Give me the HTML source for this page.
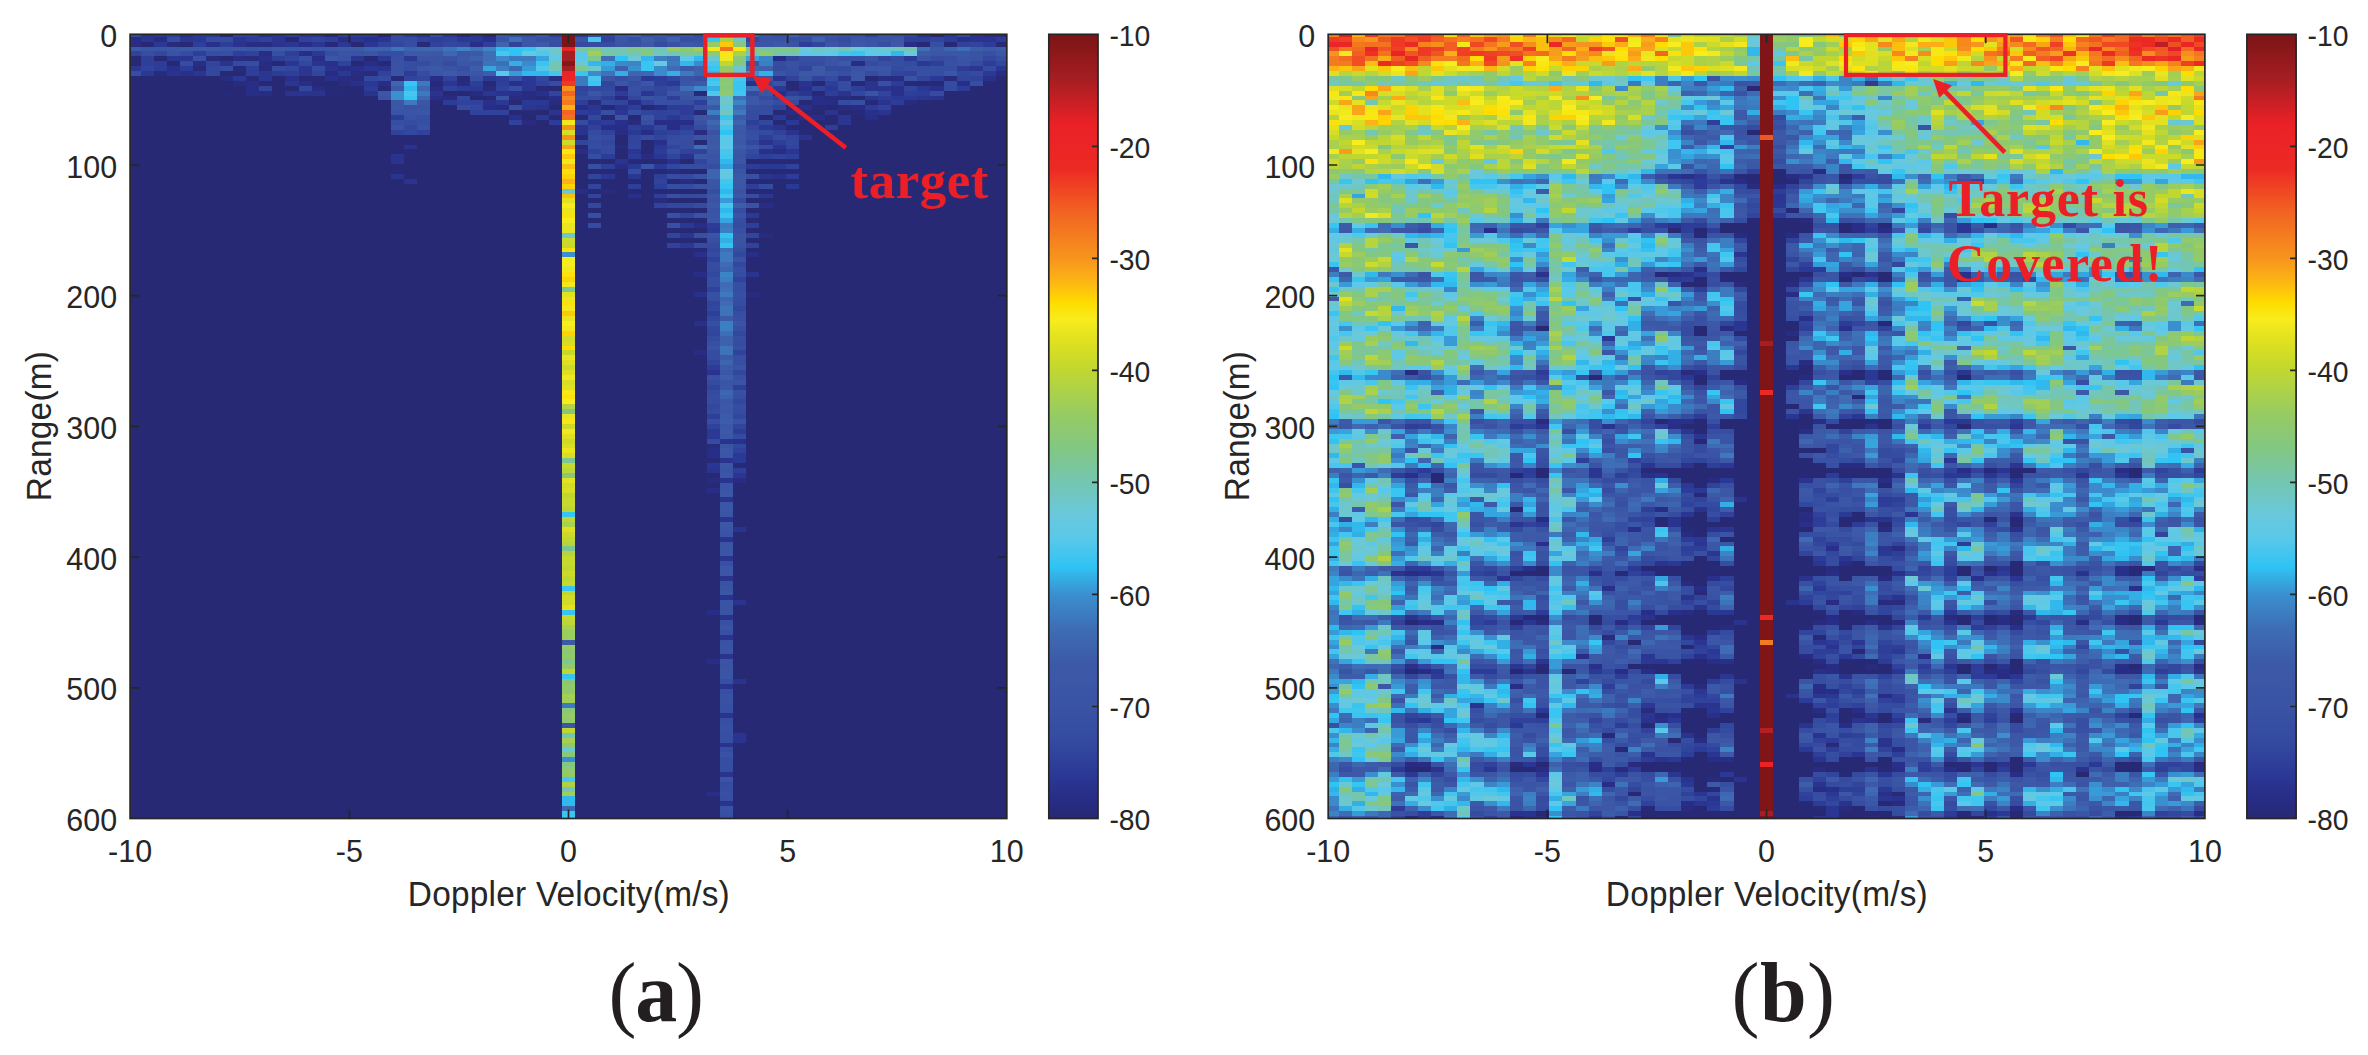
<!DOCTYPE html>
<html><head><meta charset="utf-8"><title>Range-Doppler maps</title>
<style>
html,body{margin:0;padding:0;background:#fff;}
body{width:2368px;height:1055px;overflow:hidden;}
svg{display:block;}
text{font-family:"Liberation Sans",Arial,Helvetica,sans-serif;font-size:31.7px;fill:#262626;}
.ann{font-family:"Liberation Serif","Times New Roman",serif;font-weight:bold;fill:#ec1f27;}
.cap{font-family:"Liberation Serif","Times New Roman",serif;fill:#231f20;}
</style></head><body>
<svg width="2368" height="1055" viewBox="0 0 2368 1055">
<defs>
<linearGradient id="jet" x1="0" y1="0" x2="0" y2="1"><stop offset="0.0000" stop-color="#7b1416"/><stop offset="0.0571" stop-color="#a51e22"/><stop offset="0.1143" stop-color="#ea2127"/><stop offset="0.1714" stop-color="#ec2a24"/><stop offset="0.2286" stop-color="#f26522"/><stop offset="0.2857" stop-color="#f7941d"/><stop offset="0.3143" stop-color="#fcb414"/><stop offset="0.3429" stop-color="#fedd00"/><stop offset="0.3643" stop-color="#f7ec1e"/><stop offset="0.3857" stop-color="#e4e21e"/><stop offset="0.4286" stop-color="#c0d730"/><stop offset="0.4857" stop-color="#96cb64"/><stop offset="0.5286" stop-color="#82c782"/><stop offset="0.5714" stop-color="#74c6b2"/><stop offset="0.6143" stop-color="#68c8de"/><stop offset="0.6429" stop-color="#5ac8e8"/><stop offset="0.6786" stop-color="#2fc4f4"/><stop offset="0.7143" stop-color="#3a8fcf"/><stop offset="0.7571" stop-color="#3e6eb5"/><stop offset="0.8000" stop-color="#3c5aa8"/><stop offset="0.8571" stop-color="#3a53a4"/><stop offset="0.9000" stop-color="#344ba0"/><stop offset="0.9429" stop-color="#2b3996"/><stop offset="0.9714" stop-color="#282d87"/><stop offset="1.0000" stop-color="#272974"/></linearGradient>
<clipPath id="ca"><rect x="130.1" y="34.3" width="876.7" height="784.2"/></clipPath>
<clipPath id="cb"><rect x="1328.1999999999998" y="34.3" width="876.7" height="784.2"/></clipPath>
</defs>
<rect width="2368" height="1055" fill="#fff"/>
<g clip-path="url(#ca)" shape-rendering="crispEdges">
<rect x="130.1" y="34.3" width="876.7" height="784.2" fill="rgb(39, 41, 116)"/>
<g transform="translate(127.423 31.849) scale(13.16500 4.90125)">
<path fill="#354ca1" d="M0 0h1v1h-1zM20 0h1v1h-1zM43 0h1v1h-1zM63 0h1v1h-1zM3 1h1v1h-1zM7 1h1v1h-1zM21 1h1v1h-1zM54 1h1v1h-1zM35 2h2v1h-2zM4 4h1v1h-1zM58 5h1v1h-1zM61 5h1v1h-1zM4 6h1v1h-1zM9 6h1v1h-1zM22 6h1v1h-1zM24 6h1v1h-1zM49 6h1v1h-1zM51 6h2v1h-2zM56 6h1v1h-1zM7 7h1v1h-1zM22 8h1v1h-1zM56 8h1v1h-1zM47 9h1v1h-1zM53 9h1v1h-1zM32 10h1v1h-1zM38 10h1v1h-1zM54 10h1v1h-1zM39 11h1v1h-1zM41 11h1v1h-1zM54 11h1v1h-1zM35 13h1v1h-1zM48 13h1v1h-1zM51 13h1v1h-1zM48 15h1v1h-1zM48 16h1v1h-1zM21 18h1v1h-1zM39 21h1v1h-1zM41 21h1v1h-1zM42 22h1v1h-1zM42 23h1v1h-1zM42 27h2v1h-2zM38 28h1v1h-1zM41 29h1v1h-1zM42 31h1v1h-1zM43 33h1v1h-1zM47 33h1v1h-1zM43 35h1v1h-1zM43 43h1v1h-1zM44 48h1v1h-1zM46 49h1v1h-1zM46 55h1v1h-1zM46 63h1v1h-1zM44 65h1v1h-1zM44 66h1v1h-1zM44 75h1v1h-1zM46 77h1v1h-1zM45 153h1v1h-1zM45 160h1v1h-1z"/>
<path fill="#2a338e" d="M1 0h1v1h-1zM22 0h1v1h-1zM26 0h1v1h-1zM60 0h1v1h-1zM64 0h1v1h-1zM64 1h2v1h-2zM8 2h1v1h-1zM11 2h1v1h-1zM7 6h1v1h-1zM14 6h1v1h-1zM15 7h1v1h-1zM19 7h1v1h-1zM3 8h1v1h-1zM49 9h1v1h-1zM54 9h1v1h-1zM51 10h1v1h-1zM56 10h1v1h-1zM56 11h2v1h-2zM12 12h3v1h-3zM18 12h1v1h-1zM23 12h1v1h-1zM28 12h1v1h-1zM54 12h1v1h-1zM61 13h1v1h-1zM57 14h1v1h-1zM31 15h1v1h-1zM37 15h1v1h-1zM32 16h1v1h-1zM53 16h1v1h-1zM57 16h1v1h-1zM34 19h1v1h-1zM49 19h1v1h-1zM34 20h1v1h-1zM50 20h1v1h-1zM51 21h1v1h-1zM48 22h1v1h-1zM21 23h1v1h-1zM49 23h1v1h-1zM20 25h1v1h-1zM42 25h1v1h-1zM20 26h1v1h-1zM37 26h1v1h-1zM20 29h1v1h-1zM48 29h1v1h-1zM21 30h1v1h-1zM47 49h1v1h-1zM44 69h1v1h-1zM45 83h1v1h-1zM45 87h1v1h-1zM44 89h1v1h-1zM45 91h1v1h-1zM45 95h1v1h-1zM45 99h1v1h-1zM46 101h1v1h-1zM45 103h1v1h-1zM45 107h1v1h-1zM45 111h1v1h-1zM45 115h1v1h-1zM46 116h1v1h-1zM45 119h1v1h-1zM45 123h1v1h-1zM45 127h1v1h-1zM46 132h1v1h-1zM45 133h1v1h-1zM45 139h1v1h-1zM46 143h1v1h-1zM46 144h1v1h-1zM45 145h1v1h-1zM45 151h1v1h-1zM45 157h1v1h-1z"/>
<path fill="#2b3996" d="M2 0h1v1h-1zM5 0h2v1h-2zM24 0h1v1h-1zM34 0h1v1h-1zM62 0h1v1h-1zM5 1h1v1h-1zM25 1h2v1h-2zM2 2h1v1h-1zM16 2h1v1h-1zM14 4h1v1h-1zM19 5h1v1h-1zM21 5h1v1h-1zM59 5h1v1h-1zM60 6h1v1h-1zM1 8h1v1h-1zM16 8h1v1h-1zM65 8h1v1h-1zM8 9h1v1h-1zM27 9h1v1h-1zM30 9h1v1h-1zM39 9h1v1h-1zM61 9h1v1h-1zM18 10h1v1h-1zM41 10h1v1h-1zM26 11h1v1h-1zM49 11h1v1h-1zM53 11h1v1h-1zM60 11h1v1h-1zM58 13h2v1h-2zM28 14h1v1h-1zM30 14h2v1h-2zM35 16h1v1h-1zM31 17h1v1h-1zM41 17h1v1h-1zM49 17h1v1h-1zM35 18h1v1h-1zM50 18h1v1h-1zM39 19h1v1h-1zM48 19h1v1h-1zM38 20h1v1h-1zM40 23h1v1h-1zM38 27h1v1h-1zM40 27h1v1h-1zM48 27h2v1h-2zM50 31h1v1h-1zM47 37h1v1h-1zM42 39h1v1h-1zM44 40h1v1h-1zM42 43h1v1h-1zM44 81h1v1h-1zM44 82h1v1h-1zM46 86h1v1h-1zM46 87h1v1h-1z"/>
<path fill="#2e3f99" d="M3 0h1v1h-1zM12 0h1v1h-1zM16 0h1v1h-1zM32 0h1v1h-1zM15 1h1v1h-1zM23 1h1v1h-1zM59 1h2v1h-2zM5 2h1v1h-1zM7 2h1v1h-1zM27 2h1v1h-1zM5 4h1v1h-1zM8 4h1v1h-1zM12 4h1v1h-1zM1 5h1v1h-1zM11 5h1v1h-1zM1 6h1v1h-1zM61 6h1v1h-1zM9 7h1v1h-1zM9 8h1v1h-1zM12 8h1v1h-1zM26 10h1v1h-1zM28 10h1v1h-1zM40 10h1v1h-1zM53 10h1v1h-1zM55 11h1v1h-1zM50 12h1v1h-1zM53 12h1v1h-1zM59 12h1v1h-1zM36 13h1v1h-1zM41 13h1v1h-1zM34 14h1v1h-1zM43 14h1v1h-1zM38 15h1v1h-1zM47 18h1v1h-1zM38 19h1v1h-1zM53 19h1v1h-1zM40 20h1v1h-1zM48 21h1v1h-1zM49 22h1v1h-1zM48 25h1v1h-1zM50 25h1v1h-1zM36 27h1v1h-1zM40 29h1v1h-1zM38 31h1v1h-1zM40 31h1v1h-1zM47 31h1v1h-1zM40 33h1v1h-1zM47 39h1v1h-1zM44 57h1v1h-1zM46 72h1v1h-1zM44 78h1v1h-1zM46 89h1v1h-1z"/>
<path fill="#29308b" d="M4 0h1v1h-1zM10 0h1v1h-1zM18 1h1v1h-1zM27 1h1v1h-1zM63 1h1v1h-1zM6 2h1v1h-1zM10 5h1v1h-1zM15 6h1v1h-1zM3 7h1v1h-1zM17 7h1v1h-1zM4 8h1v1h-1zM12 9h1v1h-1zM15 9h1v1h-1zM65 9h1v1h-1zM17 10h1v1h-1zM29 10h1v1h-1zM47 10h1v1h-1zM51 11h1v1h-1zM58 11h1v1h-1zM61 11h1v1h-1zM29 12h1v1h-1zM31 12h1v1h-1zM58 12h1v1h-1zM27 14h1v1h-1zM51 15h1v1h-1zM56 16h1v1h-1zM29 17h1v1h-1zM37 18h1v1h-1zM40 22h1v1h-1zM48 24h1v1h-1zM41 26h1v1h-1zM49 29h1v1h-1zM38 33h1v1h-1zM43 45h1v1h-1zM43 53h1v1h-1zM43 59h1v1h-1zM46 83h1v1h-1z"/>
<path fill="#31459d" d="M8 0h1v1h-1zM14 1h1v1h-1zM61 1h1v1h-1zM25 2h1v1h-1zM52 2h1v1h-1zM64 2h1v1h-1zM12 5h1v1h-1zM50 5h1v1h-1zM57 5h1v1h-1zM6 6h1v1h-1zM51 7h1v1h-1zM14 8h1v1h-1zM58 8h1v1h-1zM21 9h1v1h-1zM41 9h1v1h-1zM60 9h1v1h-1zM63 9h1v1h-1zM36 10h1v1h-1zM10 11h1v1h-1zM59 11h1v1h-1zM32 12h1v1h-1zM40 12h1v1h-1zM57 12h1v1h-1zM37 14h1v1h-1zM39 16h1v1h-1zM41 16h1v1h-1zM38 21h1v1h-1zM40 21h1v1h-1zM50 21h1v1h-1zM34 22h1v1h-1zM38 22h1v1h-1zM41 23h1v1h-1zM50 23h1v1h-1zM41 25h1v1h-1zM47 25h1v1h-1zM43 26h1v1h-1zM35 29h1v1h-1zM35 31h1v1h-1zM35 33h1v1h-1zM42 37h1v1h-1zM41 41h1v1h-1zM47 41h1v1h-1zM44 55h1v1h-1zM44 61h1v1h-1zM44 67h1v1h-1zM44 72h1v1h-1zM46 80h1v1h-1z"/>
<path fill="#30429b" d="M9 0h1v1h-1zM56 0h1v1h-1zM10 1h1v1h-1zM13 1h1v1h-1zM22 1h1v1h-1zM24 1h1v1h-1zM36 1h1v1h-1zM19 2h1v1h-1zM23 2h1v1h-1zM29 2h1v1h-1zM63 2h1v1h-1zM0 4h1v1h-1zM9 4h1v1h-1zM16 6h1v1h-1zM1 7h1v1h-1zM19 8h1v1h-1zM59 8h1v1h-1zM24 9h1v1h-1zM50 9h1v1h-1zM52 9h1v1h-1zM64 9h1v1h-1zM31 10h1v1h-1zM24 11h1v1h-1zM28 11h1v1h-1zM34 11h1v1h-1zM52 11h1v1h-1zM49 13h1v1h-1zM25 14h2v1h-2zM39 14h1v1h-1zM49 15h1v1h-1zM57 15h1v1h-1zM26 16h3v1h-3zM40 16h1v1h-1zM40 17h1v1h-1zM42 17h1v1h-1zM29 18h1v1h-1zM35 19h1v1h-1zM20 20h1v1h-1zM22 20h1v1h-1zM36 20h1v1h-1zM41 20h1v1h-1zM49 20h1v1h-1zM35 24h1v1h-1zM42 24h2v1h-2zM49 25h1v1h-1zM50 27h1v1h-1zM40 30h1v1h-1zM40 35h1v1h-1zM41 43h1v1h-1zM47 43h1v1h-1zM44 46h1v1h-1zM46 50h1v1h-1zM44 52h1v1h-1zM46 65h1v1h-1zM44 80h1v1h-1zM46 85h1v1h-1z"/>
<path fill="#2a3692" d="M11 0h1v1h-1zM13 0h2v1h-2zM1 1h1v1h-1zM4 1h1v1h-1zM8 1h1v1h-1zM11 1h1v1h-1zM17 1h1v1h-1zM19 1h1v1h-1zM12 2h1v1h-1zM14 2h1v1h-1zM18 2h1v1h-1zM3 5h2v1h-2zM17 5h1v1h-1zM12 6h1v1h-1zM0 7h1v1h-1zM13 7h1v1h-1zM18 7h1v1h-1zM64 7h1v1h-1zM66 7h1v1h-1zM5 8h1v1h-1zM10 8h1v1h-1zM13 8h1v1h-1zM10 9h1v1h-1zM12 10h1v1h-1zM24 10h1v1h-1zM30 10h1v1h-1zM30 11h1v1h-1zM27 12h1v1h-1zM39 12h1v1h-1zM51 12h1v1h-1zM56 13h1v1h-1zM60 13h1v1h-1zM30 15h1v1h-1zM35 15h1v1h-1zM37 16h1v1h-1zM54 17h1v1h-1zM54 18h1v1h-1zM38 24h1v1h-1zM50 24h1v1h-1zM40 25h1v1h-1zM36 29h1v1h-1zM38 29h1v1h-1zM48 33h1v1h-1zM42 41h1v1h-1zM44 88h1v1h-1zM46 90h1v1h-1z"/>
<path fill="#282b7e" d="M15 0h1v1h-1zM25 0h1v1h-1zM3 2h1v1h-1zM6 5h1v1h-1zM9 5h1v1h-1zM10 7h1v1h-1zM2 8h1v1h-1zM18 8h1v1h-1zM17 9h1v1h-1zM62 9h1v1h-1zM8 10h1v1h-1zM16 10h1v1h-1zM25 10h1v1h-1zM27 11h1v1h-1zM26 12h1v1h-1zM30 12h1v1h-1zM24 13h1v1h-1zM30 13h1v1h-1zM37 13h1v1h-1zM53 13h2v1h-2zM32 14h1v1h-1zM35 14h1v1h-1zM59 14h1v1h-1zM28 15h1v1h-1zM54 15h1v1h-1zM30 18h1v1h-1zM38 18h1v1h-1zM37 23h1v1h-1zM41 28h1v1h-1zM36 32h1v1h-1zM40 34h1v1h-1zM48 41h1v1h-1zM47 53h1v1h-1zM44 84h1v1h-1zM44 91h1v1h-1z"/>
<path fill="#2c3c98" d="M17 0h2v1h-2zM21 0h1v1h-1zM9 1h1v1h-1zM62 1h1v1h-1zM66 1h1v1h-1zM51 2h1v1h-1zM65 2h1v1h-1zM2 6h1v1h-1zM65 6h1v1h-1zM2 7h1v1h-1zM4 7h1v1h-1zM63 7h1v1h-1zM11 8h1v1h-1zM21 8h1v1h-1zM28 9h1v1h-1zM40 9h1v1h-1zM58 10h1v1h-1zM18 11h1v1h-1zM25 11h1v1h-1zM63 11h1v1h-1zM37 12h1v1h-1zM60 12h1v1h-1zM57 13h1v1h-1zM24 14h1v1h-1zM58 14h1v1h-1zM41 15h2v1h-2zM56 15h1v1h-1zM34 16h1v1h-1zM42 16h1v1h-1zM20 17h1v1h-1zM32 18h1v1h-1zM36 18h1v1h-1zM42 19h1v1h-1zM40 24h1v1h-1zM36 25h1v1h-1zM38 25h1v1h-1zM47 27h1v1h-1zM50 29h1v1h-1zM44 39h1v1h-1zM44 68h1v1h-1zM46 81h1v1h-1z"/>
<path fill="#272a79" d="M19 0h1v1h-1zM15 2h1v1h-1zM22 2h1v1h-1zM66 2h1v1h-1zM5 7h1v1h-1zM8 7h1v1h-1zM9 9h1v1h-1zM14 9h1v1h-1zM20 9h1v1h-1zM25 9h1v1h-1zM23 10h1v1h-1zM55 10h1v1h-1zM59 10h1v1h-1zM15 11h1v1h-1zM19 11h1v1h-1zM31 11h1v1h-1zM50 11h1v1h-1zM7 12h1v1h-1zM15 12h2v1h-2zM43 12h1v1h-1zM31 13h1v1h-1zM56 14h1v1h-1zM36 15h1v1h-1zM52 15h1v1h-1zM30 16h1v1h-1zM43 16h1v1h-1zM51 16h1v1h-1zM55 16h1v1h-1zM51 20h1v1h-1zM38 26h1v1h-1zM47 59h1v1h-1zM44 87h1v1h-1zM46 88h1v1h-1z"/>
<path fill="#374fa2" d="M23 0h1v1h-1zM49 0h1v1h-1zM32 1h1v1h-1zM38 1h1v1h-1zM42 1h1v1h-1zM50 1h1v1h-1zM61 2h1v1h-1zM7 4h1v1h-1zM11 4h1v1h-1zM13 5h1v1h-1zM54 5h1v1h-1zM62 5h1v1h-1zM66 5h1v1h-1zM25 7h1v1h-1zM59 7h1v1h-1zM61 7h1v1h-1zM54 8h1v1h-1zM43 9h1v1h-1zM29 11h1v1h-1zM38 12h1v1h-1zM42 14h1v1h-1zM55 14h1v1h-1zM29 15h1v1h-1zM47 15h1v1h-1zM36 16h1v1h-1zM22 17h1v1h-1zM22 18h1v1h-1zM39 18h1v1h-1zM35 21h1v1h-1zM41 24h1v1h-1zM35 27h1v1h-1zM35 37h1v1h-1zM44 42h1v1h-1zM46 48h1v1h-1zM46 51h1v1h-1zM44 54h1v1h-1zM46 58h1v1h-1zM44 59h1v1h-1zM46 60h1v1h-1zM46 64h1v1h-1zM46 66h1v1h-1zM46 67h1v1h-1zM45 132h1v1h-1zM45 134h1v1h-1zM45 143h1v1h-1zM45 144h1v1h-1zM45 156h1v1h-1z"/>
<path fill="#3c58a7" d="M28 0h1v1h-1zM31 0h1v1h-1zM39 2h1v1h-1zM42 2h1v1h-1zM58 2h1v1h-1zM5 3h1v1h-1zM11 3h1v1h-1zM13 3h1v1h-1zM61 3h1v1h-1zM22 4h1v1h-1zM26 4h1v1h-1zM47 14h1v1h-1zM44 15h1v1h-1zM44 22h1v1h-1z"/>
<path fill="#3850a3" d="M29 0h1v1h-1zM39 0h1v1h-1zM55 0h1v1h-1zM31 1h1v1h-1zM43 1h1v1h-1zM53 1h1v1h-1zM54 2h1v1h-1zM65 4h1v1h-1zM5 5h1v1h-1zM20 5h1v1h-1zM51 5h2v1h-2zM55 5h1v1h-1zM57 6h1v1h-1zM62 6h1v1h-1zM50 7h1v1h-1zM60 8h1v1h-1zM26 9h1v1h-1zM57 10h1v1h-1zM38 11h1v1h-1zM40 13h1v1h-1zM40 14h2v1h-2zM43 15h1v1h-1zM47 21h1v1h-1zM47 29h1v1h-1zM41 33h1v1h-1zM41 37h1v1h-1zM41 39h1v1h-1zM46 40h1v1h-1zM43 41h1v1h-1zM44 53h1v1h-1zM46 53h1v1h-1zM44 63h1v1h-1zM44 70h1v1h-1zM46 70h1v1h-1zM46 73h1v1h-1zM45 108h1v1h-1zM45 120h1v1h-1zM45 122h1v1h-1zM45 137h1v1h-1zM45 138h1v1h-1zM45 141h1v1h-1zM45 142h1v1h-1zM45 155h1v1h-1zM45 159h1v1h-1z"/>
<path fill="#364ea1" d="M30 0h1v1h-1zM35 0h1v1h-1zM51 1h1v1h-1zM21 2h1v1h-1zM32 2h1v1h-1zM57 2h1v1h-1zM1 4h1v1h-1zM6 4h1v1h-1zM15 4h1v1h-1zM19 4h2v1h-2zM21 6h1v1h-1zM58 6h1v1h-1zM21 7h1v1h-1zM60 7h1v1h-1zM62 7h1v1h-1zM0 8h1v1h-1zM50 8h1v1h-1zM61 8h1v1h-1zM29 9h1v1h-1zM37 9h1v1h-1zM64 10h1v1h-1zM36 12h1v1h-1zM34 13h1v1h-1zM49 14h1v1h-1zM38 16h1v1h-1zM20 18h1v1h-1zM47 20h1v1h-1zM42 21h1v1h-1zM41 22h1v1h-1zM35 23h1v1h-1zM35 25h1v1h-1zM44 27h1v1h-1zM46 27h1v1h-1zM41 31h1v1h-1zM44 32h1v1h-1zM46 36h1v1h-1zM46 38h1v1h-1zM46 44h1v1h-1zM44 47h1v1h-1zM44 50h1v1h-1zM44 51h1v1h-1zM46 52h1v1h-1zM46 54h1v1h-1zM46 57h1v1h-1zM46 62h1v1h-1zM44 74h1v1h-1zM46 74h1v1h-1zM46 76h1v1h-1zM44 79h1v1h-1zM45 140h1v1h-1zM45 146h1v1h-1zM45 148h1v1h-1zM45 149h1v1h-1zM45 150h1v1h-1zM45 154h1v1h-1z"/>
<path fill="#7b1416" d="M33 0h1v1h-1zM33 1h1v1h-1zM33 2h1v1h-1z"/>
<path fill="#32489e" d="M36 0h1v1h-1zM59 0h1v1h-1zM47 1h1v1h-1zM20 2h1v1h-1zM24 2h1v1h-1zM2 4h1v1h-1zM65 5h1v1h-1zM13 6h1v1h-1zM66 6h1v1h-1zM6 7h1v1h-1zM12 7h1v1h-1zM6 8h1v1h-1zM63 8h1v1h-1zM18 9h1v1h-1zM22 9h1v1h-1zM31 9h1v1h-1zM48 10h1v1h-1zM13 11h1v1h-1zM35 11h2v1h-2zM40 11h1v1h-1zM34 12h1v1h-1zM55 12h1v1h-1zM25 13h1v1h-1zM38 13h1v1h-1zM36 14h1v1h-1zM26 15h1v1h-1zM35 17h1v1h-1zM48 18h1v1h-1zM21 19h1v1h-1zM40 19h1v1h-1zM47 19h1v1h-1zM21 20h1v1h-1zM42 20h1v1h-1zM36 22h1v1h-1zM47 22h1v1h-1zM50 22h1v1h-1zM38 23h1v1h-1zM41 27h1v1h-1zM35 35h1v1h-1zM41 35h2v1h-2zM44 44h1v1h-1zM46 45h1v1h-1zM46 47h1v1h-1zM44 49h1v1h-1zM44 56h1v1h-1zM46 56h1v1h-1zM44 58h1v1h-1zM44 60h1v1h-1zM46 61h1v1h-1zM46 69h1v1h-1zM46 75h1v1h-1zM44 76h1v1h-1zM46 78h1v1h-1zM46 84h1v1h-1z"/>
<path fill="#3c5daa" d="M37 0h1v1h-1zM39 1h1v1h-1zM64 3h1v1h-1zM66 3h1v1h-1zM26 7h1v1h-1zM27 8h1v1h-1zM44 19h1v1h-1zM46 23h1v1h-1zM46 35h1v1h-1zM45 70h1v1h-1zM45 79h1v1h-1z"/>
<path fill="#3d64ae" d="M38 0h1v1h-1zM50 0h1v1h-1zM28 2h1v1h-1zM21 3h1v1h-1zM62 3h1v1h-1zM38 8h1v1h-1zM43 8h1v1h-1zM46 18h1v1h-1zM44 28h1v1h-1zM44 29h1v1h-1zM45 48h1v1h-1zM45 54h1v1h-1zM45 67h1v1h-1z"/>
<path fill="#3b57a6" d="M40 0h1v1h-1zM30 1h1v1h-1zM58 1h1v1h-1zM8 3h1v1h-1zM15 3h1v1h-1zM23 4h1v1h-1zM51 8h1v1h-1zM42 12h1v1h-1zM43 13h1v1h-1zM47 13h1v1h-1zM44 17h1v1h-1zM46 20h1v1h-1zM46 22h1v1h-1zM44 24h1v1h-1zM46 29h1v1h-1zM46 30h1v1h-1zM46 33h1v1h-1zM44 35h1v1h-1zM45 77h1v1h-1zM45 85h1v1h-1zM45 94h1v1h-1zM45 100h1v1h-1z"/>
<path fill="#3952a3" d="M41 0h1v1h-1zM54 0h1v1h-1zM58 0h1v1h-1zM38 2h1v1h-1zM41 2h1v1h-1zM3 4h1v1h-1zM17 4h1v1h-1zM16 5h1v1h-1zM24 5h1v1h-1zM64 5h1v1h-1zM20 6h1v1h-1zM50 6h1v1h-1zM63 6h1v1h-1zM20 7h1v1h-1zM55 7h1v1h-1zM42 9h1v1h-1zM49 10h1v1h-1zM50 13h1v1h-1zM21 15h1v1h-1zM21 17h1v1h-1zM43 18h1v1h-1zM20 19h1v1h-1zM22 19h1v1h-1zM44 20h1v1h-1zM43 31h1v1h-1zM46 32h1v1h-1zM47 35h1v1h-1zM43 37h1v1h-1zM46 43h1v1h-1zM46 46h1v1h-1zM46 79h1v1h-1zM45 112h1v1h-1zM45 124h1v1h-1zM45 135h1v1h-1zM45 136h1v1h-1zM45 147h1v1h-1zM45 158h1v1h-1z"/>
<path fill="#3b56a6" d="M42 0h1v1h-1zM57 0h1v1h-1zM37 1h1v1h-1zM55 1h1v1h-1zM30 2h1v1h-1zM43 2h1v1h-1zM53 2h1v1h-1zM3 3h1v1h-1zM7 3h1v1h-1zM10 3h1v1h-1zM12 3h1v1h-1zM14 3h1v1h-1zM25 4h1v1h-1zM61 4h3v1h-3zM66 4h1v1h-1zM15 5h1v1h-1zM25 6h1v1h-1zM47 6h1v1h-1zM22 7h1v1h-1zM56 7h2v1h-2zM23 8h1v1h-1zM26 8h1v1h-1zM55 8h1v1h-1zM62 8h1v1h-1zM48 9h1v1h-1zM55 9h1v1h-1zM37 10h1v1h-1zM39 10h1v1h-1zM48 11h1v1h-1zM19 12h1v1h-1zM35 12h1v1h-1zM41 12h1v1h-1zM20 14h1v1h-1zM22 14h1v1h-1zM20 15h1v1h-1zM22 16h1v1h-1zM43 17h1v1h-1zM46 24h1v1h-1zM43 25h1v1h-1zM46 26h1v1h-1zM46 31h1v1h-1zM44 33h1v1h-1zM44 38h1v1h-1zM45 69h1v1h-1zM45 72h1v1h-1zM45 75h1v1h-1zM45 80h1v1h-1zM45 82h1v1h-1zM45 86h1v1h-1zM45 88h1v1h-1zM45 90h1v1h-1zM45 96h1v1h-1zM45 97h1v1h-1zM45 109h1v1h-1zM45 110h1v1h-1zM45 114h1v1h-1zM33 141h1v1h-1z"/>
<path fill="#3e6bb3" d="M44 0h1v1h-1zM47 0h1v1h-1zM41 7h1v1h-1zM44 14h1v1h-1zM46 15h1v1h-1zM45 47h1v1h-1zM45 51h1v1h-1zM45 55h1v1h-1z"/>
<path fill="#74c6b2" d="M45 0h1v1h-1zM37 3h1v1h-1zM54 3h1v1h-1zM59 3h1v1h-1zM38 4h1v1h-1zM47 4h1v1h-1zM49 4h2v1h-2zM32 6h1v1h-1zM32 7h1v1h-1zM33 154h1v1h-1z"/>
<path fill="#389ad6" d="M46 0h1v1h-1zM30 7h1v1h-1zM36 7h1v1h-1zM29 8h1v1h-1zM45 34h1v1h-1z"/>
<path fill="#3a55a5" d="M48 0h1v1h-1zM53 0h1v1h-1zM34 1h1v1h-1zM47 2h2v1h-2zM56 2h1v1h-1zM1 3h2v1h-2zM9 3h1v1h-1zM18 4h1v1h-1zM63 5h1v1h-1zM26 6h1v1h-1zM36 9h1v1h-1zM42 10h1v1h-1zM48 12h1v1h-1zM21 16h1v1h-1zM43 21h1v1h-1zM47 23h1v1h-1zM39 27h1v1h-1zM44 30h1v1h-1zM44 31h1v1h-1zM44 37h1v1h-1zM45 71h1v1h-1zM45 92h1v1h-1zM45 93h1v1h-1zM45 98h1v1h-1zM45 101h1v1h-1zM45 105h1v1h-1zM45 106h1v1h-1zM45 130h1v1h-1zM45 131h1v1h-1z"/>
<path fill="#3a54a4" d="M51 0h2v1h-2zM40 1h1v1h-1zM48 1h1v1h-1zM56 1h1v1h-1zM37 2h1v1h-1zM50 2h1v1h-1zM16 4h1v1h-1zM64 4h1v1h-1zM22 5h2v1h-2zM56 5h1v1h-1zM53 6h1v1h-1zM20 8h1v1h-1zM25 8h1v1h-1zM49 8h1v1h-1zM53 8h1v1h-1zM38 9h1v1h-1zM51 9h1v1h-1zM59 9h1v1h-1zM56 12h1v1h-1zM28 13h1v1h-1zM39 13h1v1h-1zM42 13h1v1h-1zM22 15h1v1h-1zM20 16h1v1h-1zM39 17h1v1h-1zM46 25h1v1h-1zM44 26h1v1h-1zM46 28h1v1h-1zM46 37h1v1h-1zM46 42h1v1h-1zM46 71h1v1h-1zM45 84h1v1h-1zM45 89h1v1h-1zM45 104h1v1h-1zM45 113h1v1h-1zM45 117h1v1h-1zM45 118h1v1h-1zM45 121h1v1h-1zM45 129h1v1h-1z"/>
<path fill="#282d87" d="M65 0h1v1h-1zM16 1h1v1h-1zM13 2h1v1h-1zM26 2h1v1h-1zM59 2h1v1h-1zM13 4h1v1h-1zM8 5h1v1h-1zM14 5h1v1h-1zM49 5h1v1h-1zM5 6h1v1h-1zM18 6h1v1h-1zM16 7h1v1h-1zM23 9h1v1h-1zM9 10h1v1h-1zM13 10h1v1h-1zM19 10h1v1h-1zM63 10h1v1h-1zM9 11h1v1h-1zM9 12h1v1h-1zM49 12h1v1h-1zM23 13h1v1h-1zM32 13h1v1h-1zM52 13h1v1h-1zM38 14h1v1h-1zM52 14h1v1h-1zM27 15h1v1h-1zM34 15h1v1h-1zM40 15h1v1h-1zM51 17h2v1h-2zM56 17h1v1h-1zM40 18h3v1h-3zM36 19h2v1h-2zM41 19h1v1h-1zM39 20h1v1h-1zM34 24h1v1h-1zM34 32h1v1h-1zM48 35h1v1h-1zM43 39h1v1h-1zM47 45h1v1h-1zM43 49h1v1h-1zM44 85h1v1h-1zM44 86h1v1h-1zM44 93h1v1h-1zM44 118h1v1h-1zM44 128h1v1h-1zM44 155h1v1h-1z"/>
<path fill="#282c82" d="M66 0h1v1h-1zM0 1h1v1h-1zM2 1h1v1h-1zM0 2h1v1h-1zM9 2h2v1h-2zM10 4h1v1h-1zM10 6h1v1h-1zM55 6h1v1h-1zM15 8h1v1h-1zM17 8h1v1h-1zM66 8h1v1h-1zM7 9h1v1h-1zM16 9h1v1h-1zM32 9h1v1h-1zM57 9h2v1h-2zM14 11h1v1h-1zM23 11h1v1h-1zM37 11h1v1h-1zM10 12h1v1h-1zM29 13h1v1h-1zM53 14h1v1h-1zM55 15h1v1h-1zM50 16h1v1h-1zM37 20h1v1h-1zM43 20h1v1h-1zM49 24h1v1h-1zM39 25h1v1h-1zM37 27h1v1h-1zM42 30h1v1h-1zM43 65h1v1h-1zM46 91h1v1h-1z"/>
<path fill="#344ba0" d="M6 1h1v1h-1zM20 1h1v1h-1zM34 2h1v1h-1zM40 2h1v1h-1zM8 6h1v1h-1zM59 6h1v1h-1zM64 6h1v1h-1zM11 7h1v1h-1zM14 7h1v1h-1zM49 7h1v1h-1zM53 7h2v1h-2zM58 7h1v1h-1zM65 7h1v1h-1zM64 8h1v1h-1zM19 9h1v1h-1zM62 10h1v1h-1zM62 11h1v1h-1zM47 12h1v1h-1zM61 12h1v1h-1zM50 14h1v1h-1zM54 14h1v1h-1zM25 15h1v1h-1zM47 16h1v1h-1zM47 17h1v1h-1zM34 18h1v1h-1zM43 19h1v1h-1zM35 20h1v1h-1zM48 20h1v1h-1zM36 21h1v1h-1zM49 21h1v1h-1zM35 22h1v1h-1zM36 23h1v1h-1zM48 23h1v1h-1zM36 24h1v1h-1zM47 24h1v1h-1zM42 29h1v1h-1zM48 31h1v1h-1zM42 33h1v1h-1zM46 34h1v1h-1zM35 39h1v1h-1zM46 39h1v1h-1zM44 43h1v1h-1zM44 45h1v1h-1zM44 62h1v1h-1zM44 71h1v1h-1zM44 73h1v1h-1zM44 77h1v1h-1zM46 82h1v1h-1zM44 83h1v1h-1z"/>
<path fill="#3a53a4" d="M28 1h1v1h-1zM49 1h1v1h-1zM57 1h1v1h-1zM53 5h1v1h-1zM60 5h1v1h-1zM23 6h1v1h-1zM24 7h1v1h-1zM57 8h1v1h-1zM19 13h1v1h-1zM48 14h1v1h-1zM37 17h1v1h-1zM44 25h1v1h-1zM43 29h1v1h-1zM44 34h1v1h-1zM44 36h1v1h-1zM44 41h1v1h-1zM46 41h1v1h-1zM46 59h1v1h-1zM44 64h1v1h-1zM46 68h1v1h-1zM45 102h1v1h-1zM45 116h1v1h-1zM45 125h1v1h-1zM45 126h1v1h-1zM45 128h1v1h-1zM45 152h1v1h-1z"/>
<path fill="#3e6eb5" d="M29 1h1v1h-1zM60 3h1v1h-1zM63 3h1v1h-1zM27 4h1v1h-1zM27 5h1v1h-1zM36 5h1v1h-1zM28 6h1v1h-1zM42 11h1v1h-1zM47 11h1v1h-1zM46 13h1v1h-1zM43 23h1v1h-1zM45 44h1v1h-1zM45 52h1v1h-1zM45 61h1v1h-1z"/>
<path fill="#49c6ed" d="M35 1h1v1h-1zM28 4h1v1h-1zM44 6h1v1h-1zM35 9h1v1h-1zM46 9h1v1h-1zM44 10h1v1h-1zM21 12h1v1h-1zM45 19h1v1h-1zM45 24h1v1h-1zM45 35h1v1h-1zM33 152h1v1h-1z"/>
<path fill="#3d61ac" d="M41 1h1v1h-1zM52 1h1v1h-1zM18 3h2v1h-2zM26 5h1v1h-1zM37 7h1v1h-1zM43 7h1v1h-1zM48 7h1v1h-1zM45 62h1v1h-1zM45 63h1v1h-1zM45 74h1v1h-1z"/>
<path fill="#38c5f2" d="M44 1h1v1h-1zM30 3h1v1h-1zM55 4h1v1h-1zM31 6h1v1h-1zM39 6h1v1h-1zM39 7h1v1h-1zM44 7h1v1h-1zM34 8h1v1h-1zM44 9h1v1h-1zM21 10h1v1h-1zM35 10h1v1h-1zM46 10h1v1h-1zM46 11h1v1h-1zM21 13h1v1h-1zM45 17h1v1h-1zM45 31h1v1h-1zM45 37h1v1h-1zM33 98h1v1h-1zM33 113h1v1h-1zM33 118h1v1h-1zM33 131h1v1h-1zM33 159h1v1h-1zM33 160h1v1h-1z"/>
<path fill="#abd14a" d="M45 1h1v1h-1zM46 4h1v1h-1zM33 100h1v1h-1z"/>
<path fill="#6cc7cf" d="M46 1h1v1h-1zM32 3h1v1h-1zM53 3h1v1h-1zM57 3h1v1h-1zM32 4h1v1h-1zM44 5h1v1h-1zM34 6h1v1h-1zM35 7h1v1h-1zM46 7h1v1h-1zM45 13h1v1h-1zM33 32h1v1h-1zM33 41h1v1h-1zM33 146h1v1h-1z"/>
<path fill="#3c59a8" d="M31 2h1v1h-1zM49 2h1v1h-1zM55 2h1v1h-1zM0 3h1v1h-1zM4 3h1v1h-1zM6 3h1v1h-1zM16 3h1v1h-1zM65 3h1v1h-1zM21 4h1v1h-1zM25 5h1v1h-1zM54 6h1v1h-1zM23 7h1v1h-1zM42 7h1v1h-1zM52 7h1v1h-1zM52 8h1v1h-1zM46 19h1v1h-1zM44 21h1v1h-1zM46 21h1v1h-1zM45 76h1v1h-1zM45 81h1v1h-1z"/>
<path fill="#96cb64" d="M44 2h1v1h-1zM45 7h1v1h-1zM33 125h1v1h-1zM33 139h1v1h-1z"/>
<path fill="#fdc80a" d="M45 2h1v1h-1zM33 25h1v1h-1zM33 57h1v1h-1z"/>
<path fill="#89c878" d="M46 2h1v1h-1zM39 4h1v1h-1zM46 5h1v1h-1zM45 9h1v1h-1zM45 11h1v1h-1zM33 90h1v1h-1zM33 126h1v1h-1zM33 138h1v1h-1zM33 147h1v1h-1z"/>
<path fill="#3c5aa8" d="M17 3h1v1h-1zM60 4h1v1h-1zM24 8h1v1h-1zM43 10h1v1h-1zM20 11h1v1h-1zM46 17h1v1h-1zM44 23h1v1h-1zM45 58h1v1h-1zM45 66h1v1h-1zM45 68h1v1h-1zM45 78h1v1h-1zM33 124h1v1h-1z"/>
<path fill="#3d74b9" d="M20 3h1v1h-1zM24 3h1v1h-1zM26 3h1v1h-1zM41 5h1v1h-1zM27 6h1v1h-1zM36 8h1v1h-1zM45 56h1v1h-1zM45 57h1v1h-1zM45 64h1v1h-1zM45 65h1v1h-1z"/>
<path fill="#3d67b1" d="M22 3h2v1h-2zM24 4h1v1h-1zM29 7h1v1h-1zM47 7h1v1h-1zM39 8h1v1h-1zM20 10h1v1h-1zM22 11h1v1h-1zM22 13h1v1h-1zM44 13h1v1h-1zM44 18h1v1h-1zM45 73h1v1h-1zM33 158h1v1h-1z"/>
<path fill="#3b84c6" d="M25 3h1v1h-1zM27 3h1v1h-1zM48 5h1v1h-1zM38 6h1v1h-1zM46 14h1v1h-1zM45 49h1v1h-1z"/>
<path fill="#31b9ed" d="M28 3h1v1h-1zM58 4h1v1h-1zM39 5h1v1h-1zM43 5h1v1h-1zM35 6h1v1h-1zM42 6h1v1h-1zM30 8h2v1h-2zM44 8h1v1h-1zM21 11h1v1h-1zM45 26h1v1h-1zM45 32h1v1h-1zM45 36h1v1h-1zM33 156h1v1h-1zM33 157h1v1h-1z"/>
<path fill="#2fc4f4" d="M29 3h1v1h-1zM29 4h1v1h-1zM37 5h1v1h-1zM45 20h1v1h-1zM45 41h1v1h-1zM45 43h1v1h-1z"/>
<path fill="#68c8de" d="M31 3h1v1h-1zM55 3h1v1h-1zM59 4h1v1h-1zM40 6h1v1h-1z"/>
<path fill="#ea2326" d="M33 3h1v1h-1zM33 8h1v1h-1z"/>
<path fill="#7bc69a" d="M34 3h1v1h-1zM43 4h1v1h-1z"/>
<path fill="#82c782" d="M35 3h1v1h-1zM47 3h1v1h-1zM46 6h1v1h-1zM33 77h1v1h-1zM33 149h1v1h-1z"/>
<path fill="#72c6b9" d="M36 3h1v1h-1zM40 3h1v1h-1zM37 4h1v1h-1zM41 4h1v1h-1zM33 143h1v1h-1z"/>
<path fill="#80c78a" d="M38 3h1v1h-1zM49 3h2v1h-2z"/>
<path fill="#7dc792" d="M39 3h1v1h-1zM42 4h1v1h-1zM35 5h1v1h-1zM34 7h1v1h-1zM33 52h1v1h-1zM33 87h1v1h-1zM33 105h1v1h-1zM33 128h1v1h-1z"/>
<path fill="#9bcc5e" d="M41 3h1v1h-1zM33 122h1v1h-1zM33 123h1v1h-1z"/>
<path fill="#8cc973" d="M42 3h1v1h-1zM45 10h1v1h-1z"/>
<path fill="#a0ce57" d="M43 3h1v1h-1zM35 4h1v1h-1zM33 136h1v1h-1zM33 155h1v1h-1z"/>
<path fill="#f1e91e" d="M44 3h1v1h-1zM45 5h1v1h-1zM33 18h1v1h-1zM33 26h1v1h-1zM33 48h1v1h-1zM33 51h1v1h-1zM33 56h1v1h-1zM33 60h1v1h-1zM33 70h1v1h-1zM33 81h1v1h-1z"/>
<path fill="#f37121" d="M45 3h1v1h-1zM33 17h1v1h-1z"/>
<path fill="#f9e714" d="M46 3h1v1h-1zM45 4h1v1h-1zM33 24h1v1h-1zM33 73h1v1h-1zM33 79h1v1h-1z"/>
<path fill="#79c6a2" d="M48 3h1v1h-1zM36 4h1v1h-1z"/>
<path fill="#6ac8d7" d="M51 3h1v1h-1zM38 5h1v1h-1z"/>
<path fill="#70c7c1" d="M52 3h1v1h-1zM58 3h1v1h-1zM40 4h1v1h-1zM45 16h1v1h-1z"/>
<path fill="#61c8e3" d="M56 3h1v1h-1zM52 4h1v1h-1zM56 4h1v1h-1zM32 5h1v1h-1zM45 15h1v1h-1zM45 18h1v1h-1zM45 29h1v1h-1z"/>
<path fill="#64c8e0" d="M30 4h1v1h-1zM45 28h1v1h-1z"/>
<path fill="#51c7ea" d="M31 4h1v1h-1zM31 7h1v1h-1zM44 12h1v1h-1z"/>
<path fill="#a51e22" d="M33 4h1v1h-1zM33 5h1v1h-1zM33 7h1v1h-1z"/>
<path fill="#5ac8e8" d="M34 4h1v1h-1zM57 4h1v1h-1zM34 5h1v1h-1zM28 8h1v1h-1zM46 8h1v1h-1zM45 21h1v1h-1zM45 22h1v1h-1z"/>
<path fill="#8fca6e" d="M44 4h1v1h-1zM45 8h1v1h-1zM45 12h1v1h-1zM33 134h1v1h-1zM33 140h1v1h-1zM33 145h1v1h-1zM33 150h1v1h-1z"/>
<path fill="#93ca69" d="M48 4h1v1h-1zM33 127h1v1h-1zM33 129h1v1h-1zM33 133h1v1h-1zM33 151h1v1h-1z"/>
<path fill="#5ec8e6" d="M51 4h1v1h-1zM53 4h1v1h-1zM42 5h1v1h-1zM45 23h1v1h-1z"/>
<path fill="#40c6ef" d="M54 4h1v1h-1zM32 8h1v1h-1zM46 12h1v1h-1zM45 25h1v1h-1zM45 30h1v1h-1zM45 33h1v1h-1z"/>
<path fill="#3b8acb" d="M28 5h1v1h-1zM30 6h1v1h-1zM37 6h1v1h-1zM43 6h1v1h-1zM40 7h1v1h-1zM35 8h1v1h-1zM40 8h1v1h-1zM43 11h1v1h-1z"/>
<path fill="#3d79be" d="M29 5h2v1h-2zM41 6h1v1h-1zM42 8h1v1h-1zM34 9h1v1h-1zM22 10h1v1h-1zM34 10h1v1h-1zM22 12h1v1h-1zM21 14h1v1h-1zM46 16h1v1h-1zM45 39h1v1h-1zM45 45h1v1h-1zM45 46h1v1h-1zM45 53h1v1h-1zM33 137h1v1h-1z"/>
<path fill="#36a4de" d="M31 5h1v1h-1zM47 5h1v1h-1zM27 7h1v1h-1zM45 27h1v1h-1zM45 38h1v1h-1z"/>
<path fill="#3c7ec2" d="M40 5h1v1h-1zM48 6h1v1h-1zM28 7h1v1h-1zM44 16h1v1h-1zM45 40h1v1h-1zM45 50h1v1h-1zM45 59h1v1h-1zM45 60h1v1h-1z"/>
<path fill="#33afe5" d="M29 6h1v1h-1zM36 6h1v1h-1zM37 8h1v1h-1zM41 8h1v1h-1zM48 8h1v1h-1zM44 11h1v1h-1zM45 42h1v1h-1z"/>
<path fill="#861619" d="M33 6h1v1h-1z"/>
<path fill="#c0d730" d="M45 6h1v1h-1zM33 94h1v1h-1zM33 103h1v1h-1zM33 109h1v1h-1zM33 111h1v1h-1zM33 114h1v1h-1zM33 130h1v1h-1zM33 142h1v1h-1z"/>
<path fill="#3a8fcf" d="M38 7h1v1h-1zM47 8h1v1h-1zM20 12h1v1h-1zM20 13h1v1h-1zM33 45h1v1h-1zM33 148h1v1h-1z"/>
<path fill="#eb2626" d="M33 9h1v1h-1z"/>
<path fill="#ee3924" d="M33 10h1v1h-1z"/>
<path fill="#f7941d" d="M33 11h1v1h-1zM33 19h1v1h-1zM33 21h1v1h-1z"/>
<path fill="#f26522" d="M33 12h1v1h-1zM33 16h1v1h-1z"/>
<path fill="#f6881e" d="M33 13h1v1h-1z"/>
<path fill="#f47c20" d="M33 14h1v1h-1z"/>
<path fill="#6ec7c8" d="M45 14h1v1h-1z"/>
<path fill="#fcb414" d="M33 15h1v1h-1zM33 30h1v1h-1z"/>
<path fill="#d8de24" d="M33 20h1v1h-1zM33 63h1v1h-1zM33 71h1v1h-1zM33 84h1v1h-1zM33 86h1v1h-1zM33 93h1v1h-1z"/>
<path fill="#ccdb2a" d="M33 22h1v1h-1zM33 42h1v1h-1zM33 68h1v1h-1zM33 80h1v1h-1zM33 83h1v1h-1zM33 102h1v1h-1zM33 110h1v1h-1z"/>
<path fill="#faa418" d="M33 23h1v1h-1z"/>
<path fill="#fcbe0f" d="M33 27h1v1h-1zM33 33h1v1h-1z"/>
<path fill="#fce20a" d="M33 28h1v1h-1zM33 37h1v1h-1zM33 44h1v1h-1zM33 49h1v1h-1zM33 55h1v1h-1zM33 74h1v1h-1z"/>
<path fill="#fed305" d="M33 29h1v1h-1zM33 31h1v1h-1zM33 50h1v1h-1zM33 61h1v1h-1z"/>
<path fill="#e4e21e" d="M33 34h1v1h-1zM33 53h1v1h-1zM33 91h1v1h-1zM33 117h1v1h-1z"/>
<path fill="#f7ec1e" d="M33 35h1v1h-1zM33 38h1v1h-1zM33 46h1v1h-1zM33 47h1v1h-1zM33 59h1v1h-1zM33 75h1v1h-1z"/>
<path fill="#eae51e" d="M33 36h1v1h-1zM33 39h1v1h-1zM33 40h1v1h-1zM33 54h1v1h-1zM33 58h1v1h-1zM33 66h1v1h-1zM33 78h1v1h-1zM33 85h1v1h-1z"/>
<path fill="#c6d92d" d="M33 43h1v1h-1zM33 65h1v1h-1zM33 88h1v1h-1zM33 95h1v1h-1zM33 96h1v1h-1zM33 107h1v1h-1zM33 108h1v1h-1zM33 112h1v1h-1zM33 119h1v1h-1z"/>
<path fill="#d2dc27" d="M33 62h1v1h-1zM33 92h1v1h-1zM33 115h1v1h-1zM33 116h1v1h-1z"/>
<path fill="#fedd00" d="M33 64h1v1h-1z"/>
<path fill="#dee021" d="M33 67h1v1h-1zM33 69h1v1h-1zM33 72h1v1h-1zM33 82h1v1h-1zM33 101h1v1h-1z"/>
<path fill="#b6d43d" d="M33 76h1v1h-1zM33 104h1v1h-1zM33 106h1v1h-1z"/>
<path fill="#bbd636" d="M33 89h1v1h-1zM33 97h1v1h-1zM33 99h1v1h-1zM33 120h1v1h-1z"/>
<path fill="#a6d050" d="M33 121h1v1h-1zM33 135h1v1h-1zM33 144h1v1h-1z"/>
<path fill="#85c87d" d="M33 132h1v1h-1z"/>
<path fill="#b0d244" d="M33 153h1v1h-1z"/>
</g></g>
<g clip-path="url(#cb)" shape-rendering="crispEdges">
<rect x="1328.1999999999998" y="34.3" width="876.7" height="784.2" fill="rgb(39, 41, 116)"/>
<g transform="translate(1325.522 31.849) scale(13.16500 4.90125)">
<path fill="#f5821f" d="M0 0h1v1h-1zM15 0h1v1h-1zM24 0h1v1h-1zM46 0h1v1h-1zM54 0h1v1h-1zM62 0h1v1h-1zM10 1h1v1h-1zM25 1h1v1h-1zM7 2h1v1h-1zM57 2h1v1h-1zM51 3h1v1h-1zM44 5h1v1h-1zM58 5h1v1h-1zM66 5h1v1h-1zM15 6h1v1h-1zM64 6h1v1h-1zM57 7h1v1h-1z"/>
<path fill="#e12126" d="M1 0h1v1h-1zM64 3h1v1h-1z"/>
<path fill="#fcb414" d="M2 0h1v1h-1zM23 0h1v1h-1zM45 0h1v1h-1zM51 0h1v1h-1zM15 1h1v1h-1zM56 3h1v1h-1zM48 4h1v1h-1zM57 4h1v1h-1zM0 7h1v1h-1zM12 7h1v1h-1zM65 7h1v1h-1zM60 15h1v1h-1zM3 18h1v1h-1zM10 18h1v1h-1z"/>
<path fill="#ee3924" d="M3 0h1v1h-1zM0 1h1v1h-1zM5 1h1v1h-1zM7 1h1v1h-1zM5 2h1v1h-1zM7 3h1v1h-1zM7 4h1v1h-1zM11 4h1v1h-1zM12 5h1v1h-1zM59 6h1v1h-1z"/>
<path fill="#f47c20" d="M4 0h1v1h-1zM58 0h1v1h-1zM13 1h1v1h-1zM55 1h1v1h-1zM11 3h1v1h-1zM54 4h1v1h-1zM0 5h1v1h-1zM8 5h2v1h-2zM18 5h1v1h-1zM52 5h1v1h-1zM0 6h2v1h-2zM66 13h1v1h-1zM33 124h1v1h-1z"/>
<path fill="#f47720" d="M5 0h1v1h-1zM64 0h1v1h-1zM59 1h1v1h-1zM2 2h1v1h-1zM12 2h1v1h-1zM1 3h1v1h-1zM14 3h1v1h-1zM58 4h1v1h-1zM66 4h1v1h-1zM10 6h1v1h-1zM58 6h1v1h-1zM61 6h1v1h-1z"/>
<path fill="#ee4023" d="M6 0h2v1h-2zM59 0h1v1h-1zM66 0h1v1h-1zM1 1h1v1h-1zM63 1h1v1h-1zM55 2h1v1h-1zM5 3h1v1h-1zM8 3h1v1h-1zM10 3h1v1h-1zM15 3h1v1h-1zM20 3h1v1h-1zM10 4h1v1h-1zM12 4h1v1h-1zM5 6h1v1h-1zM65 6h1v1h-1z"/>
<path fill="#f05622" d="M8 0h1v1h-1zM55 0h1v1h-1zM4 1h1v1h-1zM52 1h1v1h-1zM58 1h1v1h-1zM4 3h1v1h-1zM21 3h1v1h-1zM54 3h1v1h-1zM63 3h1v1h-1zM6 4h1v1h-1zM8 4h1v1h-1zM33 21h1v1h-1z"/>
<path fill="#fce20a" d="M9 0h1v1h-1zM21 0h1v1h-1zM25 0h1v1h-1zM21 1h1v1h-1zM28 3h1v1h-1zM26 4h1v1h-1zM47 4h1v1h-1zM22 5h1v1h-1zM8 6h1v1h-1zM16 7h1v1h-1zM8 16h1v1h-1zM13 16h1v1h-1zM60 17h1v1h-1zM0 18h1v1h-1zM8 18h1v1h-1zM61 24h1v1h-1zM3 26h1v1h-1z"/>
<path fill="#f26522" d="M10 0h1v1h-1zM18 1h1v1h-1zM57 1h1v1h-1zM60 1h1v1h-1zM18 3h1v1h-1zM55 3h1v1h-1zM25 4h1v1h-1zM51 4h1v1h-1zM61 5h1v1h-1zM53 6h1v1h-1z"/>
<path fill="#fdc80a" d="M11 0h1v1h-1zM47 1h1v1h-1zM21 2h1v1h-1zM27 2h1v1h-1zM39 2h1v1h-1zM47 2h1v1h-1zM56 2h1v1h-1zM27 3h1v1h-1zM50 3h1v1h-1zM27 4h1v1h-1zM40 4h1v1h-1zM52 4h1v1h-1zM21 5h1v1h-1zM43 5h1v1h-1zM47 5h1v1h-1zM57 5h1v1h-1zM56 6h1v1h-1zM1 7h1v1h-1zM4 7h1v1h-1zM8 7h1v1h-1zM27 7h1v1h-1zM61 13h1v1h-1zM54 15h1v1h-1zM63 15h1v1h-1zM60 16h1v1h-1zM6 17h2v1h-2zM62 17h1v1h-1zM61 25h1v1h-1z"/>
<path fill="#faa418" d="M12 0h1v1h-1zM41 1h1v1h-1zM43 1h1v1h-1zM54 2h1v1h-1zM24 3h1v1h-1zM17 5h1v1h-1zM56 5h1v1h-1zM50 6h1v1h-1zM63 6h1v1h-1zM2 7h1v1h-1zM64 7h1v1h-1zM6 8h1v1h-1zM4 11h1v1h-1zM61 12h1v1h-1zM66 12h1v1h-1zM3 13h1v1h-1zM1 14h1v1h-1zM2 15h1v1h-1zM2 16h1v1h-1zM4 16h1v1h-1zM66 22h1v1h-1z"/>
<path fill="#f7941d" d="M13 0h1v1h-1zM3 1h1v1h-1zM50 1h1v1h-1zM19 2h2v1h-2zM49 2h1v1h-1zM12 3h1v1h-1zM0 4h1v1h-1zM19 4h1v1h-1zM50 5h1v1h-1zM13 6h1v1h-1z"/>
<path fill="#eae51e" d="M14 0h1v1h-1zM27 1h1v1h-1zM21 4h1v1h-1zM24 4h1v1h-1zM5 8h1v1h-1zM18 8h1v1h-1zM63 8h1v1h-1zM5 11h1v1h-1zM59 11h1v1h-1zM65 12h1v1h-1zM63 13h2v1h-2zM5 14h1v1h-1zM18 14h1v1h-1zM63 14h1v1h-1zM1 15h1v1h-1zM3 15h1v1h-1zM0 16h1v1h-1zM9 16h1v1h-1zM5 17h1v1h-1zM13 17h1v1h-1zM1 18h1v1h-1zM9 20h1v1h-1zM62 26h1v1h-1zM65 32h1v1h-1z"/>
<path fill="#fedd00" d="M16 0h1v1h-1zM49 1h1v1h-1zM56 1h1v1h-1zM25 2h1v1h-1zM22 3h1v1h-1zM49 3h1v1h-1zM18 4h1v1h-1zM11 5h1v1h-1zM25 5h1v1h-1zM39 5h1v1h-1zM46 5h1v1h-1zM46 6h1v1h-1zM56 7h1v1h-1zM65 8h1v1h-1zM3 11h1v1h-1zM65 11h1v1h-1zM12 15h1v1h-1zM59 15h1v1h-1zM12 16h1v1h-1zM66 16h1v1h-1zM8 17h1v1h-1zM9 18h1v1h-1zM55 18h1v1h-1zM61 23h1v1h-1zM59 25h1v1h-1z"/>
<path fill="#dee021" d="M17 0h1v1h-1zM27 0h1v1h-1zM42 0h1v1h-1zM47 0h1v1h-1zM29 1h1v1h-1zM46 1h1v1h-1zM25 3h1v1h-1zM44 3h1v1h-1zM41 4h1v1h-1zM41 5h1v1h-1zM38 6h1v1h-1zM40 6h2v1h-2zM30 7h1v1h-1zM36 7h1v1h-1zM58 7h1v1h-1zM0 8h1v1h-1zM61 8h1v1h-1zM63 9h1v1h-1zM0 11h1v1h-1zM8 11h1v1h-1zM61 11h1v1h-1zM8 12h1v1h-1zM52 14h1v1h-1zM4 15h1v1h-1zM11 16h1v1h-1zM46 16h1v1h-1zM12 18h1v1h-1zM53 19h1v1h-1zM66 21h1v1h-1zM59 22h1v1h-1zM7 24h2v1h-2zM52 24h1v1h-1zM11 25h1v1h-1zM19 25h1v1h-1zM15 27h1v1h-1zM1 34h1v1h-1zM1 54h1v1h-1z"/>
<path fill="#f1e91e" d="M18 0h1v1h-1zM53 0h1v1h-1zM57 0h1v1h-1zM23 1h1v1h-1zM45 1h1v1h-1zM10 2h1v1h-1zM31 2h1v1h-1zM44 2h1v1h-1zM1 4h1v1h-1zM29 4h1v1h-1zM44 4h1v1h-1zM46 4h1v1h-1zM24 5h1v1h-1zM48 5h1v1h-1zM35 6h1v1h-1zM39 6h1v1h-1zM10 7h2v1h-2zM26 7h1v1h-1zM31 7h1v1h-1zM43 7h1v1h-1zM61 7h1v1h-1zM66 7h1v1h-1zM36 8h1v1h-1zM41 8h1v1h-1zM11 11h1v1h-1zM0 13h1v1h-1zM11 13h1v1h-1zM17 13h1v1h-1zM64 14h1v1h-1zM53 15h1v1h-1zM1 16h1v1h-1zM61 16h1v1h-1zM2 17h1v1h-1zM9 17h1v1h-1zM15 18h1v1h-1zM19 18h1v1h-1zM21 18h1v1h-1zM62 19h1v1h-1zM62 22h1v1h-1zM64 22h1v1h-1zM0 24h1v1h-1zM58 24h1v1h-1zM66 24h1v1h-1zM18 26h1v1h-1zM7 27h1v1h-1zM63 27h1v1h-1zM3 37h1v1h-1z"/>
<path fill="#d2dc27" d="M19 0h1v1h-1zM49 0h1v1h-1zM31 1h1v1h-1zM38 1h2v1h-2zM49 4h1v1h-1zM40 5h1v1h-1zM13 7h1v1h-1zM45 7h2v1h-2zM51 7h1v1h-1zM4 8h1v1h-1zM16 8h1v1h-1zM40 8h1v1h-1zM54 8h1v1h-1zM58 8h1v1h-1zM7 12h1v1h-1zM51 12h1v1h-1zM6 14h1v1h-1zM19 14h1v1h-1zM54 14h1v1h-1zM57 14h1v1h-1zM14 15h1v1h-1zM20 15h1v1h-1zM5 16h1v1h-1zM21 16h1v1h-1zM51 16h1v1h-1zM54 16h1v1h-1zM54 17h1v1h-1zM7 18h1v1h-1zM2 19h1v1h-1zM61 19h1v1h-1zM17 21h1v1h-1zM60 21h1v1h-1zM62 21h1v1h-1zM2 23h1v1h-1zM13 23h1v1h-1zM59 23h1v1h-1zM6 24h1v1h-1zM16 24h1v1h-1zM15 26h1v1h-1zM52 26h1v1h-1zM8 27h1v1h-1zM5 28h1v1h-1zM3 33h1v1h-1zM63 34h1v1h-1z"/>
<path fill="#ccdb2a" d="M20 0h1v1h-1zM40 0h1v1h-1zM50 0h1v1h-1zM29 2h1v1h-1zM38 3h1v1h-1zM47 3h1v1h-1zM27 5h1v1h-1zM27 6h1v1h-1zM30 6h1v1h-1zM37 7h1v1h-1zM48 7h1v1h-1zM9 8h1v1h-1zM20 8h1v1h-1zM47 8h1v1h-1zM66 9h1v1h-1zM14 11h1v1h-1zM57 11h1v1h-1zM11 12h1v1h-1zM15 12h1v1h-1zM17 12h1v1h-1zM50 12h1v1h-1zM9 13h1v1h-1zM14 13h1v1h-1zM65 13h1v1h-1zM0 14h1v1h-1zM9 14h1v1h-1zM21 15h1v1h-1zM62 15h1v1h-1zM11 18h1v1h-1zM60 18h1v1h-1zM17 19h1v1h-1zM18 20h1v1h-1zM61 21h1v1h-1zM5 22h1v1h-1zM65 22h1v1h-1zM3 23h1v1h-1zM18 23h1v1h-1zM11 24h1v1h-1zM60 24h1v1h-1zM6 25h1v1h-1zM9 25h1v1h-1zM53 25h1v1h-1zM62 25h3v1h-3zM0 26h1v1h-1zM4 26h1v1h-1zM60 26h2v1h-2zM63 26h1v1h-1zM6 27h1v1h-1zM54 27h1v1h-1zM3 32h1v1h-1zM66 35h1v1h-1zM3 47h1v1h-1zM49 55h1v1h-1zM1 64h1v1h-1z"/>
<path fill="#f9e714" d="M22 0h1v1h-1zM53 1h1v1h-1zM40 2h1v1h-1zM46 3h1v1h-1zM22 4h1v1h-1zM16 6h1v1h-1zM43 6h1v1h-1zM52 6h1v1h-1zM40 7h1v1h-1zM44 7h1v1h-1zM55 7h1v1h-1zM27 8h1v1h-1zM59 8h1v1h-1zM55 11h1v1h-1zM0 12h1v1h-1zM2 12h1v1h-1zM64 12h1v1h-1zM1 13h1v1h-1zM8 13h1v1h-1zM13 14h1v1h-1zM61 14h1v1h-1zM66 14h1v1h-1zM8 15h1v1h-1zM13 15h1v1h-1zM58 15h1v1h-1zM3 16h1v1h-1zM10 16h1v1h-1zM18 16h2v1h-2zM3 17h1v1h-1zM15 17h1v1h-1zM63 23h1v1h-1zM60 25h1v1h-1zM66 25h1v1h-1zM6 26h1v1h-1z"/>
<path fill="#7dc792" d="M26 0h1v1h-1zM35 4h1v1h-1zM1 9h1v1h-1zM8 9h1v1h-1zM50 9h1v1h-1zM6 10h1v1h-1zM43 11h1v1h-1zM52 11h1v1h-1zM25 15h1v1h-1zM43 16h1v1h-1zM25 17h1v1h-1zM52 17h1v1h-1zM50 18h1v1h-1zM44 19h1v1h-1zM22 20h1v1h-1zM52 20h1v1h-1zM9 21h1v1h-1zM24 22h1v1h-1zM44 22h1v1h-1zM24 23h1v1h-1zM18 24h1v1h-1zM51 25h1v1h-1zM22 26h1v1h-1zM49 26h1v1h-1zM17 28h1v1h-1zM57 28h1v1h-1zM18 31h1v1h-1zM25 31h1v1h-1zM51 31h1v1h-1zM2 32h1v1h-1zM56 33h1v1h-1zM0 35h1v1h-1zM19 35h1v1h-1zM56 35h1v1h-1zM51 36h1v1h-1zM5 37h1v1h-1zM62 38h1v1h-1zM4 41h1v1h-1zM10 41h1v1h-1zM10 42h1v1h-1zM51 42h1v1h-1zM4 43h1v1h-1zM5 44h1v1h-1zM47 44h1v1h-1zM59 44h1v1h-1zM64 44h1v1h-1zM61 45h1v1h-1zM11 46h1v1h-1zM46 46h1v1h-1zM10 47h1v1h-1zM59 47h1v1h-1zM5 52h1v1h-1zM10 52h1v1h-1zM4 53h1v1h-1zM10 53h1v1h-1zM52 54h1v1h-1zM7 55h1v1h-1zM10 55h1v1h-1zM17 55h1v1h-1zM5 58h1v1h-1zM17 58h1v1h-1zM55 58h1v1h-1zM59 59h1v1h-1zM58 60h1v1h-1zM10 61h1v1h-1zM25 61h1v1h-1zM62 61h1v1h-1zM19 63h1v1h-1zM59 63h1v1h-1zM2 64h1v1h-1zM46 64h1v1h-1zM49 64h1v1h-1zM52 64h1v1h-1zM3 65h1v1h-1zM59 65h2v1h-2zM11 66h1v1h-1zM15 66h1v1h-1zM51 66h1v1h-1zM9 67h1v1h-1zM53 67h1v1h-1zM53 74h1v1h-1zM61 74h1v1h-1zM2 75h1v1h-1zM6 75h1v1h-1zM49 76h1v1h-1zM56 77h1v1h-1zM54 78h1v1h-1zM17 81h1v1h-1zM55 81h1v1h-1zM66 83h1v1h-1zM7 86h1v1h-1zM10 88h1v1h-1zM49 94h1v1h-1zM49 95h1v1h-1zM3 98h1v1h-1zM10 99h1v1h-1zM3 102h1v1h-1zM3 103h1v1h-1zM3 113h1v1h-1zM1 135h1v1h-1zM17 141h1v1h-1zM1 144h1v1h-1zM1 145h1v1h-1zM4 148h1v1h-1zM3 153h1v1h-1z"/>
<path fill="#c0d730" d="M28 0h1v1h-1zM19 1h1v1h-1zM37 1h1v1h-1zM30 4h1v1h-1zM37 5h2v1h-2zM45 6h1v1h-1zM7 7h1v1h-1zM53 7h1v1h-1zM7 8h1v1h-1zM21 8h1v1h-1zM31 8h1v1h-1zM2 11h1v1h-1zM54 11h1v1h-1zM6 12h1v1h-1zM48 12h1v1h-1zM60 12h1v1h-1zM12 13h1v1h-1zM19 15h1v1h-1zM65 15h1v1h-1zM46 17h1v1h-1zM64 17h1v1h-1zM17 18h1v1h-1zM56 18h1v1h-1zM55 19h1v1h-1zM53 20h1v1h-1zM63 20h1v1h-1zM7 21h1v1h-1zM55 21h1v1h-1zM1 22h1v1h-1zM3 22h2v1h-2zM10 22h1v1h-1zM61 22h1v1h-1zM7 23h1v1h-1zM19 23h1v1h-1zM47 23h1v1h-1zM12 24h1v1h-1zM59 24h1v1h-1zM2 25h2v1h-2zM46 25h1v1h-1zM49 25h1v1h-1zM54 26h1v1h-1zM58 26h1v1h-1zM18 27h1v1h-1zM64 32h1v1h-1zM63 33h2v1h-2zM63 35h1v1h-1zM2 36h1v1h-1zM18 36h1v1h-1zM66 36h1v1h-1zM65 52h1v1h-1zM50 65h1v1h-1z"/>
<path fill="#c6d92d" d="M29 0h2v1h-2zM26 3h1v1h-1zM26 5h1v1h-1zM42 5h1v1h-1zM51 5h1v1h-1zM19 6h2v1h-2zM36 6h1v1h-1zM17 7h1v1h-1zM49 7h1v1h-1zM54 7h1v1h-1zM2 8h1v1h-1zM23 8h1v1h-1zM38 8h1v1h-1zM14 12h1v1h-1zM16 12h1v1h-1zM55 12h1v1h-1zM10 13h1v1h-1zM4 14h1v1h-1zM8 14h1v1h-1zM16 14h1v1h-1zM20 14h1v1h-1zM47 14h1v1h-1zM65 14h1v1h-1zM5 15h1v1h-1zM16 15h1v1h-1zM8 19h1v1h-1zM19 19h1v1h-1zM0 21h1v1h-1zM55 22h1v1h-1zM8 23h1v1h-1zM17 23h1v1h-1zM5 24h1v1h-1zM13 24h1v1h-1zM4 25h1v1h-1zM65 27h1v1h-1zM58 34h1v1h-1zM1 45h1v1h-1zM4 46h1v1h-1zM18 46h1v1h-1zM8 47h1v1h-1zM66 56h1v1h-1zM3 57h1v1h-1z"/>
<path fill="#abd14a" d="M31 0h1v1h-1zM30 1h1v1h-1zM28 2h1v1h-1zM39 3h1v1h-1zM36 4h1v1h-1zM28 5h1v1h-1zM28 6h1v1h-1zM20 7h1v1h-1zM22 7h1v1h-1zM30 8h1v1h-1zM42 8h1v1h-1zM23 11h1v1h-1zM55 13h1v1h-1zM51 14h1v1h-1zM48 15h1v1h-1zM22 16h1v1h-1zM24 16h1v1h-1zM16 18h1v1h-1zM18 18h1v1h-1zM20 18h1v1h-1zM6 19h1v1h-1zM46 19h1v1h-1zM63 19h1v1h-1zM50 20h1v1h-1zM54 20h2v1h-2zM61 20h1v1h-1zM1 21h1v1h-1zM12 21h1v1h-1zM51 21h1v1h-1zM63 21h1v1h-1zM0 22h1v1h-1zM8 22h1v1h-1zM15 23h1v1h-1zM20 23h1v1h-1zM4 24h1v1h-1zM10 24h1v1h-1zM53 24h1v1h-1zM57 24h1v1h-1zM64 24h1v1h-1zM12 25h2v1h-2zM1 26h1v1h-1zM48 26h1v1h-1zM3 27h1v1h-1zM12 27h1v1h-1zM52 27h1v1h-1zM59 27h1v1h-1zM61 27h1v1h-1zM10 28h1v1h-1zM54 28h1v1h-1zM59 28h1v1h-1zM55 32h1v1h-1zM61 34h1v1h-1zM2 35h1v1h-1zM49 35h1v1h-1zM62 35h1v1h-1zM66 37h1v1h-1zM54 45h1v1h-1zM53 46h1v1h-1zM3 53h1v1h-1zM66 53h1v1h-1zM62 57h1v1h-1zM17 61h1v1h-1zM50 66h1v1h-1zM3 73h1v1h-1zM1 74h1v1h-1z"/>
<path fill="#6ec7c8" d="M32 0h1v1h-1zM5 9h1v1h-1zM45 9h1v1h-1zM51 9h1v1h-1zM0 10h1v1h-1zM9 10h1v1h-1zM16 10h1v1h-1zM18 10h1v1h-1zM45 17h1v1h-1zM47 18h1v1h-1zM42 19h1v1h-1zM16 20h1v1h-1zM24 21h1v1h-1zM52 21h1v1h-1zM25 22h1v1h-1zM46 23h1v1h-1zM45 24h1v1h-1zM20 27h1v1h-1zM44 28h1v1h-1zM49 28h1v1h-1zM1 29h1v1h-1zM17 30h1v1h-1zM9 31h1v1h-1zM53 31h1v1h-1zM57 31h1v1h-1zM38 32h1v1h-1zM43 32h1v1h-1zM54 32h1v1h-1zM6 33h1v1h-1zM44 33h1v1h-1zM49 33h1v1h-1zM53 33h1v1h-1zM22 34h2v1h-2zM26 34h1v1h-1zM15 36h1v1h-1zM19 37h1v1h-1zM12 38h1v1h-1zM46 38h1v1h-1zM57 38h1v1h-1zM5 41h1v1h-1zM1 42h1v1h-1zM57 42h2v1h-2zM0 43h1v1h-1zM8 43h1v1h-1zM60 43h1v1h-1zM7 44h1v1h-1zM18 44h1v1h-1zM45 44h1v1h-1zM19 45h1v1h-1zM58 45h1v1h-1zM52 47h1v1h-1zM13 48h1v1h-1zM46 48h1v1h-1zM55 48h1v1h-1zM57 48h1v1h-1zM17 50h1v1h-1zM58 50h1v1h-1zM64 51h1v1h-1zM25 53h2v1h-2zM45 53h1v1h-1zM61 53h1v1h-1zM19 54h1v1h-1zM45 54h1v1h-1zM0 55h1v1h-1zM23 55h1v1h-1zM52 56h1v1h-1zM61 57h1v1h-1zM64 57h1v1h-1zM21 58h1v1h-1zM19 61h1v1h-1zM58 61h1v1h-1zM5 62h1v1h-1zM4 63h1v1h-1zM8 64h1v1h-1zM14 64h1v1h-1zM56 67h1v1h-1zM58 67h1v1h-1zM64 67h1v1h-1zM2 68h1v1h-1zM57 68h1v1h-1zM64 68h1v1h-1zM44 70h1v1h-1zM50 72h2v1h-2zM2 73h1v1h-1zM4 73h1v1h-1zM20 73h1v1h-1zM0 74h1v1h-1zM65 74h1v1h-1zM24 75h1v1h-1zM20 76h1v1h-1zM51 76h1v1h-1zM1 78h1v1h-1zM9 78h1v1h-1zM57 78h1v1h-1zM64 83h1v1h-1zM0 84h1v1h-1zM3 84h1v1h-1zM12 84h1v1h-1zM54 84h1v1h-1zM0 85h1v1h-1zM13 85h1v1h-1zM62 85h1v1h-1zM13 86h1v1h-1zM54 86h1v1h-1zM66 86h1v1h-1zM62 88h1v1h-1zM10 89h1v1h-1zM4 92h1v1h-1zM12 94h1v1h-1zM18 95h1v1h-1zM1 96h1v1h-1zM18 96h1v1h-1zM49 96h1v1h-1zM48 97h1v1h-1zM17 100h1v1h-1zM66 105h1v1h-1zM48 106h1v1h-1zM62 107h1v1h-1zM4 112h1v1h-1zM1 113h1v1h-1zM4 114h1v1h-1zM4 118h1v1h-1zM10 118h1v1h-1zM4 121h1v1h-1zM62 127h1v1h-1zM9 136h1v1h-1zM3 138h1v1h-1zM1 153h1v1h-1zM1 157h1v1h-1zM10 158h1v1h-1z"/>
<path fill="#801518" d="M33 0h1v1h-1zM33 1h1v1h-1zM33 2h1v1h-1zM33 3h1v1h-1zM33 4h1v1h-1zM33 5h1v1h-1zM33 6h1v1h-1zM33 7h1v1h-1zM33 8h1v1h-1zM33 9h1v1h-1zM33 10h1v1h-1zM33 11h1v1h-1zM33 12h1v1h-1zM33 13h1v1h-1zM33 14h1v1h-1zM33 15h1v1h-1zM33 16h1v1h-1zM33 17h1v1h-1zM33 18h1v1h-1zM33 19h1v1h-1zM33 20h1v1h-1zM33 22h1v1h-1zM33 23h1v1h-1zM33 24h1v1h-1zM33 25h1v1h-1zM33 26h1v1h-1zM33 27h1v1h-1zM33 28h1v1h-1zM33 29h1v1h-1zM33 30h1v1h-1zM33 31h1v1h-1zM33 32h1v1h-1zM33 33h1v1h-1zM33 34h1v1h-1zM33 35h1v1h-1zM33 36h1v1h-1zM33 37h1v1h-1zM33 38h1v1h-1zM33 39h1v1h-1zM33 40h1v1h-1zM33 41h1v1h-1zM33 42h1v1h-1zM33 43h1v1h-1zM33 44h1v1h-1zM33 45h1v1h-1zM33 46h1v1h-1zM33 47h1v1h-1zM33 48h1v1h-1zM33 49h1v1h-1zM33 50h1v1h-1zM33 51h1v1h-1zM33 52h1v1h-1zM33 53h1v1h-1zM33 54h1v1h-1zM33 55h1v1h-1zM33 56h1v1h-1zM33 57h1v1h-1zM33 58h1v1h-1zM33 59h1v1h-1zM33 60h1v1h-1zM33 61h1v1h-1zM33 62h1v1h-1zM33 64h1v1h-1zM33 65h1v1h-1zM33 66h1v1h-1zM33 67h1v1h-1zM33 68h1v1h-1zM33 69h1v1h-1zM33 70h1v1h-1zM33 71h1v1h-1zM33 72h1v1h-1zM33 74h1v1h-1zM33 75h1v1h-1zM33 76h1v1h-1zM33 77h1v1h-1zM33 78h1v1h-1zM33 79h1v1h-1zM33 80h1v1h-1zM33 81h1v1h-1zM33 82h1v1h-1zM33 83h1v1h-1zM33 84h1v1h-1zM33 85h1v1h-1zM33 86h1v1h-1zM33 87h1v1h-1zM33 88h1v1h-1zM33 89h1v1h-1zM33 90h1v1h-1zM33 91h1v1h-1zM33 92h1v1h-1zM33 93h1v1h-1zM33 94h1v1h-1zM33 95h1v1h-1zM33 96h1v1h-1zM33 97h1v1h-1zM33 98h1v1h-1zM33 99h1v1h-1zM33 100h1v1h-1zM33 101h1v1h-1zM33 102h1v1h-1zM33 103h1v1h-1zM33 104h1v1h-1zM33 105h1v1h-1zM33 106h1v1h-1zM33 107h1v1h-1zM33 108h1v1h-1zM33 109h1v1h-1zM33 110h1v1h-1zM33 111h1v1h-1zM33 112h1v1h-1zM33 113h1v1h-1zM33 114h1v1h-1zM33 115h1v1h-1zM33 116h1v1h-1zM33 117h1v1h-1zM33 118h1v1h-1zM33 120h1v1h-1zM33 121h1v1h-1zM33 122h1v1h-1zM33 123h1v1h-1zM33 125h1v1h-1zM33 126h1v1h-1zM33 127h1v1h-1zM33 128h1v1h-1zM33 129h1v1h-1zM33 130h1v1h-1zM33 131h1v1h-1zM33 132h1v1h-1zM33 133h1v1h-1zM33 134h1v1h-1zM33 135h1v1h-1zM33 136h1v1h-1zM33 137h1v1h-1zM33 138h1v1h-1zM33 139h1v1h-1zM33 140h1v1h-1zM33 141h1v1h-1zM33 143h1v1h-1zM33 144h1v1h-1zM33 145h1v1h-1zM33 146h1v1h-1zM33 147h1v1h-1zM33 148h1v1h-1zM33 150h1v1h-1zM33 151h1v1h-1zM33 152h1v1h-1zM33 153h1v1h-1zM33 154h1v1h-1zM33 155h1v1h-1zM33 156h1v1h-1zM33 157h1v1h-1zM33 158h1v1h-1zM33 160h1v1h-1z"/>
<path fill="#8fca6e" d="M34 0h1v1h-1zM31 3h1v1h-1zM43 8h1v1h-1zM53 8h1v1h-1zM12 9h1v1h-1zM24 11h1v1h-1zM41 11h1v1h-1zM50 11h1v1h-1zM9 12h1v1h-1zM46 12h1v1h-1zM56 12h1v1h-1zM44 13h2v1h-2zM49 13h1v1h-1zM47 15h1v1h-1zM22 17h1v1h-1zM51 18h1v1h-1zM50 19h1v1h-1zM11 20h1v1h-1zM13 20h1v1h-1zM11 21h1v1h-1zM16 21h1v1h-1zM16 22h1v1h-1zM51 22h1v1h-1zM56 23h2v1h-2zM15 24h1v1h-1zM18 25h1v1h-1zM55 25h1v1h-1zM17 26h1v1h-1zM50 26h1v1h-1zM53 27h1v1h-1zM9 29h1v1h-1zM3 31h1v1h-1zM55 31h1v1h-1zM11 33h2v1h-2zM65 34h1v1h-1zM4 35h1v1h-1zM11 35h1v1h-1zM55 35h1v1h-1zM9 36h1v1h-1zM11 36h1v1h-1zM64 36h1v1h-1zM17 37h1v1h-1zM53 37h1v1h-1zM56 37h1v1h-1zM64 37h1v1h-1zM25 42h1v1h-1zM65 42h2v1h-2zM64 43h1v1h-1zM12 44h1v1h-1zM58 44h1v1h-1zM61 44h1v1h-1zM11 45h1v1h-1zM62 45h1v1h-1zM58 46h1v1h-1zM60 46h1v1h-1zM46 47h1v1h-1zM55 47h1v1h-1zM4 48h1v1h-1zM10 54h1v1h-1zM11 55h1v1h-1zM7 57h1v1h-1zM55 57h1v1h-1zM63 57h1v1h-1zM44 61h1v1h-1zM64 62h1v1h-1zM18 65h1v1h-1zM18 67h1v1h-1zM50 74h1v1h-1zM66 74h1v1h-1zM18 75h1v1h-1zM3 76h1v1h-1zM18 76h1v1h-1zM53 76h1v1h-1zM1 85h1v1h-1zM4 86h1v1h-1zM1 104h1v1h-1zM4 126h1v1h-1z"/>
<path fill="#8cc973" d="M35 0h1v1h-1zM36 3h1v1h-1zM17 8h1v1h-1zM48 8h1v1h-1zM65 10h1v1h-1zM66 11h1v1h-1zM23 14h1v1h-1zM45 14h1v1h-1zM14 16h1v1h-1zM44 16h2v1h-2zM53 18h1v1h-1zM52 19h1v1h-1zM66 19h1v1h-1zM17 20h1v1h-1zM48 21h1v1h-1zM52 22h1v1h-1zM65 24h1v1h-1zM5 25h1v1h-1zM10 26h1v1h-1zM23 26h1v1h-1zM51 26h1v1h-1zM9 27h1v1h-1zM15 28h1v1h-1zM20 28h1v1h-1zM60 28h1v1h-1zM63 28h1v1h-1zM65 28h1v1h-1zM66 31h1v1h-1zM55 33h1v1h-1zM5 34h1v1h-1zM52 34h1v1h-1zM51 35h1v1h-1zM8 36h1v1h-1zM10 37h1v1h-1zM44 41h1v1h-1zM10 43h1v1h-1zM65 44h1v1h-1zM6 45h1v1h-1zM9 45h1v1h-1zM17 45h1v1h-1zM2 47h1v1h-1zM9 47h1v1h-1zM13 47h1v1h-1zM53 47h1v1h-1zM17 51h1v1h-1zM2 54h1v1h-1zM11 54h1v1h-1zM20 54h1v1h-1zM55 54h1v1h-1zM4 55h1v1h-1zM61 55h1v1h-1zM63 55h1v1h-1zM7 56h1v1h-1zM60 56h1v1h-1zM13 57h1v1h-1zM17 57h2v1h-2zM54 58h1v1h-1zM64 61h1v1h-1zM4 62h1v1h-1zM44 62h1v1h-1zM64 63h1v1h-1zM5 64h1v1h-1zM55 64h1v1h-1zM61 64h1v1h-1zM66 64h1v1h-1zM4 65h1v1h-1zM11 65h1v1h-1zM4 66h1v1h-1zM55 66h1v1h-1zM55 71h1v1h-1zM63 76h1v1h-1zM63 77h1v1h-1zM55 82h1v1h-1zM3 97h1v1h-1zM3 107h1v1h-1zM4 117h1v1h-1zM3 133h1v1h-1z"/>
<path fill="#85c87d" d="M36 0h1v1h-1zM34 2h2v1h-2zM37 2h1v1h-1zM4 9h1v1h-1zM54 12h1v1h-1zM45 15h1v1h-1zM42 17h1v1h-1zM23 19h1v1h-1zM47 19h1v1h-1zM8 20h1v1h-1zM44 20h1v1h-1zM56 20h1v1h-1zM13 22h1v1h-1zM47 22h1v1h-1zM4 23h1v1h-1zM50 23h1v1h-1zM53 23h1v1h-1zM16 25h1v1h-1zM21 25h1v1h-1zM24 25h1v1h-1zM48 25h1v1h-1zM14 26h1v1h-1zM11 27h1v1h-1zM16 27h1v1h-1zM61 28h1v1h-1zM10 30h1v1h-1zM44 31h1v1h-1zM4 34h1v1h-1zM8 34h1v1h-1zM46 34h1v1h-1zM51 34h1v1h-1zM7 35h1v1h-1zM20 35h1v1h-1zM13 36h1v1h-1zM3 38h2v1h-2zM44 42h1v1h-1zM55 42h1v1h-1zM2 43h1v1h-1zM12 43h1v1h-1zM65 43h1v1h-1zM10 45h1v1h-1zM59 45h1v1h-1zM9 46h1v1h-1zM48 46h1v1h-1zM55 46h1v1h-1zM62 48h1v1h-1zM5 53h1v1h-1zM11 53h1v1h-1zM59 53h1v1h-1zM63 53h1v1h-1zM12 54h1v1h-1zM62 54h1v1h-1zM6 55h1v1h-1zM62 55h1v1h-1zM2 56h1v1h-1zM15 57h1v1h-1zM3 58h1v1h-1zM17 59h1v1h-1zM4 61h1v1h-1zM5 63h1v1h-1zM45 63h1v1h-1zM55 63h1v1h-1zM9 65h1v1h-1zM20 65h1v1h-1zM49 66h1v1h-1zM63 66h1v1h-1zM17 67h1v1h-1zM63 67h1v1h-1zM10 69h1v1h-1zM4 72h1v1h-1zM17 74h1v1h-1zM8 76h1v1h-1zM12 76h1v1h-1zM46 76h1v1h-1zM55 76h1v1h-1zM62 76h1v1h-1zM6 77h1v1h-1zM9 77h1v1h-1zM62 77h1v1h-1zM3 86h1v1h-1zM1 87h1v1h-1zM4 96h1v1h-1zM4 106h1v1h-1zM4 108h1v1h-1zM4 116h1v1h-1zM49 145h1v1h-1zM1 154h1v1h-1z"/>
<path fill="#9bcc5e" d="M37 0h1v1h-1zM34 1h1v1h-1zM37 3h1v1h-1zM31 4h1v1h-1zM30 5h1v1h-1zM14 7h1v1h-1zM29 8h1v1h-1zM62 8h1v1h-1zM2 9h1v1h-1zM7 9h1v1h-1zM16 9h2v1h-2zM46 9h1v1h-1zM59 10h1v1h-1zM12 12h1v1h-1zM20 12h1v1h-1zM25 12h1v1h-1zM49 14h1v1h-1zM51 15h1v1h-1zM10 17h1v1h-1zM57 17h1v1h-1zM22 18h1v1h-1zM43 18h1v1h-1zM64 19h1v1h-1zM65 20h1v1h-1zM10 21h1v1h-1zM19 21h1v1h-1zM54 22h1v1h-1zM14 23h1v1h-1zM51 23h1v1h-1zM20 24h1v1h-1zM62 24h1v1h-1zM55 26h1v1h-1zM64 26h1v1h-1zM5 27h1v1h-1zM14 27h1v1h-1zM19 27h1v1h-1zM13 28h1v1h-1zM0 29h1v1h-1zM59 31h1v1h-1zM64 31h1v1h-1zM17 32h1v1h-1zM63 32h1v1h-1zM10 33h1v1h-1zM20 34h1v1h-1zM59 34h1v1h-1zM66 34h1v1h-1zM58 35h1v1h-1zM3 36h1v1h-1zM6 36h1v1h-1zM8 38h1v1h-1zM10 38h1v1h-1zM66 43h1v1h-1zM2 45h1v1h-1zM3 46h1v1h-1zM1 47h1v1h-1zM62 47h1v1h-1zM44 51h1v1h-1zM44 52h1v1h-1zM64 53h1v1h-1zM49 54h1v1h-1zM2 55h1v1h-1zM55 55h1v1h-1zM1 56h1v1h-1zM6 56h1v1h-1zM18 56h1v1h-1zM53 56h2v1h-2zM17 62h1v1h-1zM1 63h1v1h-1zM65 63h2v1h-2zM12 64h1v1h-1zM54 65h1v1h-1zM1 66h1v1h-1zM66 66h1v1h-1zM8 68h1v1h-1zM17 71h1v1h-1zM66 73h1v1h-1zM10 74h1v1h-1zM8 78h1v1h-1zM4 137h1v1h-1z"/>
<path fill="#fcbe0f" d="M38 0h1v1h-1zM56 0h1v1h-1zM16 1h1v1h-1zM16 2h1v1h-1zM43 2h1v1h-1zM16 3h1v1h-1zM43 3h1v1h-1zM20 5h1v1h-1zM35 5h1v1h-1zM3 6h1v1h-1zM54 6h1v1h-1zM60 6h1v1h-1zM6 7h1v1h-1zM59 7h1v1h-1zM10 14h1v1h-1z"/>
<path fill="#80c78a" d="M39 0h1v1h-1zM47 9h1v1h-1zM57 9h1v1h-1zM24 12h1v1h-1zM46 13h1v1h-1zM43 14h1v1h-1zM48 14h1v1h-1zM58 14h1v1h-1zM56 15h1v1h-1zM58 19h1v1h-1zM21 20h1v1h-1zM21 21h1v1h-1zM9 22h1v1h-1zM17 22h1v1h-1zM45 22h1v1h-1zM17 25h1v1h-1zM57 25h1v1h-1zM12 28h1v1h-1zM18 28h1v1h-1zM59 30h1v1h-1zM1 32h1v1h-1zM11 32h1v1h-1zM6 35h1v1h-1zM13 35h1v1h-1zM46 36h1v1h-1zM48 36h1v1h-1zM52 36h1v1h-1zM13 37h1v1h-1zM52 37h1v1h-1zM2 38h1v1h-1zM17 42h1v1h-1zM11 43h1v1h-1zM13 43h1v1h-1zM19 43h1v1h-1zM4 44h1v1h-1zM17 44h1v1h-1zM20 45h1v1h-1zM51 45h1v1h-1zM15 46h1v1h-1zM17 46h1v1h-1zM6 47h1v1h-1zM9 48h1v1h-1zM10 49h1v1h-1zM19 53h1v1h-1zM5 54h1v1h-1zM56 54h1v1h-1zM60 54h1v1h-1zM20 55h1v1h-1zM11 56h1v1h-1zM17 56h1v1h-1zM49 56h1v1h-1zM9 57h2v1h-2zM12 57h1v1h-1zM65 57h1v1h-1zM2 58h1v1h-1zM10 60h1v1h-1zM55 62h1v1h-1zM2 63h1v1h-1zM54 64h1v1h-1zM62 64h1v1h-1zM6 65h1v1h-1zM13 65h1v1h-1zM17 65h1v1h-1zM52 65h1v1h-1zM8 66h2v1h-2zM12 66h1v1h-1zM48 67h1v1h-1zM4 71h1v1h-1zM25 72h1v1h-1zM49 74h1v1h-1zM55 75h1v1h-1zM62 75h1v1h-1zM60 76h1v1h-1zM13 77h1v1h-1zM50 77h1v1h-1zM3 82h1v1h-1zM44 82h1v1h-1zM64 82h1v1h-1zM18 86h1v1h-1zM3 87h1v1h-1zM1 117h1v1h-1zM49 155h1v1h-1zM4 156h1v1h-1z"/>
<path fill="#b0d244" d="M41 0h1v1h-1zM29 5h1v1h-1zM22 6h1v1h-1zM29 6h1v1h-1zM25 7h1v1h-1zM41 7h1v1h-1zM10 8h1v1h-1zM22 8h1v1h-1zM58 9h1v1h-1zM13 11h1v1h-1zM16 11h1v1h-1zM18 11h1v1h-1zM21 11h1v1h-1zM19 12h1v1h-1zM22 12h1v1h-1zM6 13h1v1h-1zM50 14h1v1h-1zM48 16h1v1h-1zM57 16h1v1h-1zM48 17h1v1h-1zM50 17h1v1h-1zM59 17h1v1h-1zM5 18h1v1h-1zM9 19h1v1h-1zM12 19h1v1h-1zM18 21h1v1h-1zM63 22h1v1h-1zM6 23h1v1h-1zM16 23h1v1h-1zM54 24h1v1h-1zM9 26h1v1h-1zM53 26h1v1h-1zM55 27h1v1h-1zM50 35h1v1h-1zM61 35h1v1h-1zM54 37h1v1h-1zM1 43h1v1h-1zM49 45h2v1h-2zM4 47h1v1h-1zM8 57h1v1h-1zM66 62h1v1h-1zM63 64h1v1h-1zM49 65h1v1h-1zM63 65h1v1h-1zM18 66h1v1h-1zM8 67h1v1h-1zM65 72h1v1h-1zM1 75h1v1h-1zM12 75h1v1h-1zM50 76h1v1h-1zM4 107h1v1h-1z"/>
<path fill="#f7ec1e" d="M43 0h1v1h-1zM36 1h1v1h-1zM23 2h1v1h-1zM26 2h1v1h-1zM36 2h1v1h-1zM40 3h1v1h-1zM28 4h1v1h-1zM16 5h1v1h-1zM53 5h1v1h-1zM9 6h1v1h-1zM44 6h1v1h-1zM57 6h1v1h-1zM5 7h1v1h-1zM62 7h1v1h-1zM52 8h1v1h-1zM60 8h1v1h-1zM10 11h1v1h-1zM13 13h1v1h-1zM20 13h1v1h-1zM11 14h1v1h-1zM14 14h1v1h-1zM62 14h1v1h-1zM0 15h1v1h-1zM18 15h1v1h-1zM59 16h1v1h-1zM1 17h1v1h-1zM19 17h1v1h-1zM61 17h1v1h-1zM65 17h1v1h-1zM59 18h1v1h-1zM10 19h1v1h-1zM58 20h1v1h-1zM66 20h1v1h-1zM59 21h1v1h-1zM2 22h1v1h-1zM3 24h1v1h-1zM65 26h1v1h-1z"/>
<path fill="#bbd636" d="M44 0h1v1h-1zM23 6h1v1h-1zM48 6h1v1h-1zM42 7h1v1h-1zM13 8h1v1h-1zM28 8h1v1h-1zM46 8h1v1h-1zM50 8h1v1h-1zM66 8h1v1h-1zM15 9h1v1h-1zM12 11h1v1h-1zM63 11h1v1h-1zM13 12h1v1h-1zM52 12h1v1h-1zM62 12h1v1h-1zM7 13h1v1h-1zM15 13h1v1h-1zM62 13h1v1h-1zM17 14h1v1h-1zM53 14h1v1h-1zM15 15h1v1h-1zM17 15h1v1h-1zM16 16h1v1h-1zM65 16h1v1h-1zM21 17h1v1h-1zM53 17h1v1h-1zM13 18h1v1h-1zM61 18h1v1h-1zM3 19h1v1h-1zM57 21h1v1h-1zM64 21h1v1h-1zM10 23h1v1h-1zM60 23h1v1h-1zM1 25h1v1h-1zM7 25h1v1h-1zM14 25h1v1h-1zM13 26h1v1h-1zM0 27h1v1h-1zM2 27h1v1h-1zM13 27h1v1h-1zM60 27h1v1h-1zM66 27h1v1h-1zM6 28h1v1h-1zM19 28h1v1h-1zM53 36h1v1h-1zM60 36h1v1h-1zM8 37h1v1h-1zM53 45h1v1h-1zM50 46h1v1h-1zM17 54h1v1h-1zM1 55h1v1h-1zM65 62h1v1h-1zM53 65h1v1h-1zM3 66h1v1h-1zM3 77h1v1h-1z"/>
<path fill="#fbac16" d="M48 0h1v1h-1zM24 1h1v1h-1zM51 1h1v1h-1zM22 2h1v1h-1zM45 2h2v1h-2zM19 3h1v1h-1zM23 3h1v1h-1zM9 4h1v1h-1zM4 5h1v1h-1zM23 5h1v1h-1zM11 6h1v1h-1zM18 6h1v1h-1zM51 6h1v1h-1zM23 7h1v1h-1zM52 7h1v1h-1zM17 11h1v1h-1zM5 13h1v1h-1z"/>
<path fill="#f89c1b" d="M52 0h1v1h-1zM13 2h1v1h-1zM18 2h1v1h-1zM24 2h1v1h-1zM51 2h1v1h-1zM17 3h1v1h-1zM17 4h1v1h-1zM23 4h1v1h-1zM55 4h1v1h-1zM13 5h1v1h-1zM19 5h1v1h-1zM65 5h1v1h-1zM21 6h1v1h-1zM47 6h1v1h-1zM63 16h1v1h-1zM1 24h1v1h-1zM66 26h1v1h-1z"/>
<path fill="#f36b21" d="M60 0h1v1h-1zM53 2h1v1h-1zM2 3h1v1h-1zM13 3h1v1h-1zM57 3h1v1h-1zM60 3h1v1h-1zM65 3h1v1h-1zM16 4h1v1h-1zM1 5h1v1h-1zM10 5h1v1h-1zM59 5h1v1h-1z"/>
<path fill="#ef4823" d="M61 0h1v1h-1zM12 1h1v1h-1zM11 2h1v1h-1zM59 2h2v1h-2zM66 2h1v1h-1zM62 3h1v1h-1zM13 4h1v1h-1zM64 4h1v1h-1zM55 5h1v1h-1zM12 6h1v1h-1z"/>
<path fill="#f15e22" d="M63 0h1v1h-1zM65 0h1v1h-1zM8 1h1v1h-1zM65 1h1v1h-1zM9 2h1v1h-1zM9 3h1v1h-1zM2 4h1v1h-1zM53 4h1v1h-1zM60 4h1v1h-1zM63 4h1v1h-1zM5 5h1v1h-1zM7 5h1v1h-1zM54 5h1v1h-1z"/>
<path fill="#f6881e" d="M2 1h1v1h-1zM17 1h1v1h-1zM48 1h1v1h-1zM42 2h1v1h-1zM48 2h1v1h-1zM52 2h1v1h-1zM6 3h1v1h-1zM53 3h1v1h-1zM59 3h1v1h-1zM20 4h1v1h-1zM43 4h1v1h-1zM7 6h1v1h-1zM49 6h1v1h-1zM55 6h1v1h-1zM3 12h1v1h-1zM55 15h1v1h-1z"/>
<path fill="#f04f23" d="M6 1h1v1h-1zM22 1h1v1h-1zM14 2h1v1h-1zM64 2h1v1h-1zM0 3h1v1h-1zM14 4h1v1h-1zM2 5h1v1h-1zM2 6h1v1h-1zM6 6h1v1h-1z"/>
<path fill="#f37121" d="M9 1h1v1h-1zM11 1h1v1h-1zM3 2h2v1h-2zM58 2h1v1h-1zM4 4h1v1h-1zM15 4h1v1h-1zM50 4h1v1h-1zM3 5h1v1h-1z"/>
<path fill="#fed305" d="M14 1h1v1h-1zM20 1h1v1h-1zM40 1h1v1h-1zM54 1h1v1h-1zM15 5h1v1h-1zM17 6h1v1h-1zM15 7h1v1h-1zM18 7h2v1h-2zM28 7h1v1h-1zM63 7h1v1h-1zM59 12h1v1h-1zM60 14h1v1h-1zM6 15h1v1h-1zM6 16h1v1h-1zM64 16h1v1h-1zM4 17h1v1h-1zM17 17h2v1h-2zM4 18h1v1h-1zM65 21h1v1h-1zM66 23h1v1h-1zM14 24h1v1h-1zM63 24h1v1h-1z"/>
<path fill="#e4e21e" d="M26 1h1v1h-1zM28 1h1v1h-1zM42 1h1v1h-1zM30 2h1v1h-1zM41 2h1v1h-1zM50 2h1v1h-1zM41 3h1v1h-1zM14 6h1v1h-1zM3 7h1v1h-1zM9 7h1v1h-1zM39 7h1v1h-1zM47 7h1v1h-1zM60 7h1v1h-1zM8 8h1v1h-1zM24 8h1v1h-1zM44 8h1v1h-1zM65 9h1v1h-1zM19 11h1v1h-1zM53 11h1v1h-1zM58 11h1v1h-1zM10 12h1v1h-1zM58 13h1v1h-1zM60 13h1v1h-1zM2 14h1v1h-1zM56 14h1v1h-1zM7 15h1v1h-1zM11 15h1v1h-1zM50 15h1v1h-1zM61 15h1v1h-1zM66 15h1v1h-1zM7 16h1v1h-1zM15 16h1v1h-1zM20 16h1v1h-1zM50 16h1v1h-1zM63 17h1v1h-1zM6 18h1v1h-1zM62 18h2v1h-2zM0 19h1v1h-1zM59 20h1v1h-1zM62 20h1v1h-1zM19 22h1v1h-1zM11 23h1v1h-1zM65 23h1v1h-1zM2 24h1v1h-1zM50 25h1v1h-1zM54 25h1v1h-1zM62 27h1v1h-1zM1 44h1v1h-1z"/>
<path fill="#68c8de" d="M32 1h1v1h-1zM14 9h1v1h-1zM24 10h1v1h-1zM52 10h1v1h-1zM64 10h1v1h-1zM36 14h1v1h-1zM40 14h1v1h-1zM44 15h1v1h-1zM41 16h1v1h-1zM41 17h1v1h-1zM42 21h1v1h-1zM40 22h2v1h-2zM25 25h1v1h-1zM8 26h1v1h-1zM25 26h1v1h-1zM43 26h1v1h-1zM11 28h1v1h-1zM23 28h1v1h-1zM53 28h1v1h-1zM58 28h1v1h-1zM11 29h1v1h-1zM56 29h1v1h-1zM19 30h1v1h-1zM38 31h1v1h-1zM50 31h1v1h-1zM15 32h1v1h-1zM46 32h1v1h-1zM15 33h1v1h-1zM24 33h1v1h-1zM48 33h1v1h-1zM45 35h1v1h-1zM44 37h1v1h-1zM50 37h1v1h-1zM15 38h1v1h-1zM50 41h1v1h-1zM57 41h1v1h-1zM8 42h1v1h-1zM48 42h1v1h-1zM57 43h1v1h-1zM62 43h1v1h-1zM8 44h1v1h-1zM15 45h1v1h-1zM49 47h1v1h-1zM51 47h1v1h-1zM53 53h1v1h-1zM57 53h1v1h-1zM24 54h1v1h-1zM56 55h1v1h-1zM0 56h1v1h-1zM57 56h1v1h-1zM48 57h1v1h-1zM51 57h1v1h-1zM57 57h1v1h-1zM53 58h1v1h-1zM60 58h1v1h-1zM0 59h1v1h-1zM62 60h1v1h-1zM63 61h1v1h-1zM2 62h1v1h-1zM11 62h1v1h-1zM60 62h1v1h-1zM22 63h1v1h-1zM47 63h1v1h-1zM53 63h1v1h-1zM9 64h1v1h-1zM41 64h1v1h-1zM57 64h1v1h-1zM10 66h1v1h-1zM46 66h1v1h-1zM49 67h1v1h-1zM51 67h1v1h-1zM9 68h1v1h-1zM22 68h1v1h-1zM55 68h1v1h-1zM54 69h1v1h-1zM63 71h1v1h-1zM13 72h1v1h-1zM0 73h1v1h-1zM10 73h1v1h-1zM23 73h1v1h-1zM44 73h1v1h-1zM8 75h1v1h-1zM55 78h1v1h-1zM59 78h1v1h-1zM64 81h1v1h-1zM55 83h1v1h-1zM58 83h1v1h-1zM10 84h1v1h-1zM62 84h1v1h-1zM7 85h1v1h-1zM9 86h1v1h-1zM53 86h1v1h-1zM13 93h1v1h-1zM13 94h1v1h-1zM63 94h1v1h-1zM46 96h1v1h-1zM9 97h1v1h-1zM13 97h1v1h-1zM17 98h1v1h-1zM44 102h1v1h-1zM2 103h1v1h-1zM10 103h1v1h-1zM66 103h1v1h-1zM10 104h1v1h-1zM58 104h1v1h-1zM12 105h2v1h-2zM17 105h1v1h-1zM2 106h1v1h-1zM9 106h1v1h-1zM13 106h1v1h-1zM62 106h1v1h-1zM8 107h1v1h-1zM53 115h1v1h-1zM62 116h1v1h-1zM3 118h1v1h-1zM2 125h1v1h-1zM12 125h1v1h-1zM2 127h1v1h-1zM10 127h1v1h-1zM10 133h1v1h-1zM17 134h1v1h-1zM53 135h1v1h-1zM3 136h1v1h-1zM10 138h1v1h-1zM17 143h1v1h-1zM49 144h1v1h-1zM9 145h1v1h-1zM7 146h1v1h-1zM54 146h1v1h-1zM3 148h1v1h-1zM4 153h1v1h-1zM17 153h1v1h-1zM3 156h1v1h-1zM7 157h1v1h-1z"/>
<path fill="#93ca69" d="M35 1h1v1h-1zM37 4h1v1h-1zM24 7h1v1h-1zM50 7h1v1h-1zM12 8h1v1h-1zM3 10h1v1h-1zM62 10h1v1h-1zM22 13h1v1h-1zM21 14h1v1h-1zM22 15h1v1h-1zM52 15h1v1h-1zM64 15h1v1h-1zM56 16h1v1h-1zM58 18h1v1h-1zM21 19h1v1h-1zM51 19h1v1h-1zM57 20h1v1h-1zM64 20h1v1h-1zM13 21h1v1h-1zM20 21h1v1h-1zM23 21h1v1h-1zM50 22h1v1h-1zM58 22h1v1h-1zM9 23h1v1h-1zM64 23h1v1h-1zM46 24h1v1h-1zM50 24h1v1h-1zM56 24h1v1h-1zM19 26h1v1h-1zM1 28h1v1h-1zM56 28h1v1h-1zM62 28h1v1h-1zM58 31h1v1h-1zM25 32h1v1h-1zM61 33h1v1h-1zM2 34h2v1h-2zM10 34h1v1h-1zM19 34h1v1h-1zM49 34h1v1h-1zM3 35h1v1h-1zM9 35h1v1h-1zM7 36h1v1h-1zM17 36h1v1h-1zM55 36h1v1h-1zM17 43h1v1h-1zM66 44h1v1h-1zM18 45h1v1h-1zM66 45h1v1h-1zM1 46h1v1h-1zM12 46h1v1h-1zM54 46h1v1h-1zM60 47h1v1h-1zM8 48h1v1h-1zM17 53h1v1h-1zM61 54h1v1h-1zM63 54h1v1h-1zM12 55h1v1h-1zM66 55h1v1h-1zM9 56h1v1h-1zM12 56h1v1h-1zM10 59h1v1h-1zM25 62h1v1h-1zM63 63h1v1h-1zM12 65h1v1h-1zM6 66h1v1h-1zM53 66h1v1h-1zM63 74h1v1h-1zM50 75h1v1h-1zM63 75h1v1h-1zM4 76h1v1h-1zM9 76h1v1h-1zM13 76h1v1h-1zM54 77h1v1h-1zM4 87h1v1h-1zM1 94h1v1h-1zM3 96h1v1h-1zM10 98h1v1h-1zM1 114h1v1h-1zM3 137h1v1h-1z"/>
<path fill="#b6d43d" d="M44 1h1v1h-1zM29 3h1v1h-1zM35 3h1v1h-1zM39 4h1v1h-1zM49 5h1v1h-1zM24 6h2v1h-2zM37 6h1v1h-1zM42 6h1v1h-1zM21 7h1v1h-1zM1 8h1v1h-1zM3 8h1v1h-1zM15 8h1v1h-1zM25 8h1v1h-1zM39 8h1v1h-1zM56 8h1v1h-1zM52 9h1v1h-1zM60 9h1v1h-1zM15 11h1v1h-1zM60 11h1v1h-1zM18 12h1v1h-1zM23 13h1v1h-1zM57 13h1v1h-1zM7 14h1v1h-1zM22 14h1v1h-1zM24 14h1v1h-1zM59 14h1v1h-1zM0 17h1v1h-1zM11 17h1v1h-1zM20 17h1v1h-1zM14 18h1v1h-1zM46 18h1v1h-1zM57 18h1v1h-1zM57 19h1v1h-1zM4 21h1v1h-1zM1 23h1v1h-1zM5 23h1v1h-1zM62 23h1v1h-1zM55 24h1v1h-1zM47 25h1v1h-1zM5 26h1v1h-1zM7 26h1v1h-1zM16 26h1v1h-1zM3 28h2v1h-2zM1 35h1v1h-1zM53 35h2v1h-2zM59 35h2v1h-2zM12 36h1v1h-1zM54 36h1v1h-1zM63 36h1v1h-1zM1 37h1v1h-1zM59 37h1v1h-1zM62 37h1v1h-1zM3 42h1v1h-1zM3 43h1v1h-1zM63 43h1v1h-1zM63 44h1v1h-1zM6 46h1v1h-1zM54 47h1v1h-1zM10 48h1v1h-1zM66 52h1v1h-1zM53 55h1v1h-1zM4 56h1v1h-1zM4 57h1v1h-1zM10 58h1v1h-1zM66 72h1v1h-1zM8 77h1v1h-1z"/>
<path fill="#ec2a24" d="M61 1h1v1h-1zM66 1h1v1h-1zM6 2h1v1h-1zM17 2h1v1h-1zM59 4h1v1h-1zM33 73h1v1h-1z"/>
<path fill="#ec2825" d="M62 1h1v1h-1zM62 2h1v1h-1zM33 119h1v1h-1z"/>
<path fill="#eb2725" d="M64 1h1v1h-1zM65 2h1v1h-1zM58 3h1v1h-1zM66 3h1v1h-1zM6 5h1v1h-1zM64 5h1v1h-1z"/>
<path fill="#eb2426" d="M0 2h1v1h-1zM3 3h1v1h-1z"/>
<path fill="#eb2626" d="M1 2h1v1h-1z"/>
<path fill="#f68e1e" d="M8 2h1v1h-1zM15 2h1v1h-1zM48 3h1v1h-1zM45 4h1v1h-1zM62 4h1v1h-1zM65 4h1v1h-1zM60 5h1v1h-1zM62 6h1v1h-1zM19 13h1v1h-1z"/>
<path fill="#6ac8d7" d="M32 2h1v1h-1zM21 9h1v1h-1zM50 10h1v1h-1zM38 11h1v1h-1zM29 13h1v1h-1zM44 14h1v1h-1zM36 15h1v1h-1zM28 16h1v1h-1zM30 16h1v1h-1zM39 16h1v1h-1zM24 19h1v1h-1zM22 21h1v1h-1zM40 21h1v1h-1zM43 21h1v1h-1zM49 22h1v1h-1zM41 24h1v1h-1zM44 25h1v1h-1zM24 26h1v1h-1zM42 27h1v1h-1zM45 28h1v1h-1zM48 28h1v1h-1zM52 28h1v1h-1zM2 30h1v1h-1zM45 32h1v1h-1zM16 33h1v1h-1zM18 33h1v1h-1zM43 34h1v1h-1zM8 35h1v1h-1zM45 36h1v1h-1zM47 36h1v1h-1zM0 37h1v1h-1zM21 37h1v1h-1zM49 37h1v1h-1zM0 38h1v1h-1zM60 38h1v1h-1zM65 38h1v1h-1zM3 41h1v1h-1zM59 41h2v1h-2zM11 42h2v1h-2zM15 42h1v1h-1zM48 43h1v1h-1zM56 43h1v1h-1zM9 44h1v1h-1zM0 45h1v1h-1zM8 45h1v1h-1zM41 45h1v1h-1zM0 46h1v1h-1zM41 46h1v1h-1zM57 46h1v1h-1zM50 53h1v1h-1zM9 54h1v1h-1zM13 54h1v1h-1zM8 55h1v1h-1zM41 55h1v1h-1zM58 55h1v1h-1zM64 55h1v1h-1zM10 56h1v1h-1zM21 56h1v1h-1zM51 56h1v1h-1zM21 57h1v1h-1zM12 58h1v1h-1zM43 58h1v1h-1zM44 59h1v1h-1zM4 60h1v1h-1zM54 60h2v1h-2zM2 61h2v1h-2zM19 62h1v1h-1zM61 62h1v1h-1zM8 63h1v1h-1zM7 64h1v1h-1zM65 64h1v1h-1zM8 65h1v1h-1zM48 65h1v1h-1zM20 66h1v1h-1zM46 68h1v1h-1zM58 71h2v1h-2zM62 71h1v1h-1zM1 72h1v1h-1zM51 73h1v1h-1zM62 73h1v1h-1zM46 74h1v1h-1zM10 76h1v1h-1zM41 76h1v1h-1zM58 77h1v1h-1zM44 80h1v1h-1zM25 81h1v1h-1zM4 83h1v1h-1zM9 85h1v1h-1zM17 85h1v1h-1zM60 85h1v1h-1zM63 85h1v1h-1zM66 85h1v1h-1zM12 87h1v1h-1zM4 88h1v1h-1zM25 92h1v1h-1zM3 95h1v1h-1zM53 96h2v1h-2zM66 96h1v1h-1zM55 101h1v1h-1zM11 103h1v1h-1zM65 103h1v1h-1zM2 104h1v1h-1zM3 105h1v1h-1zM18 106h1v1h-1zM54 106h1v1h-1zM1 108h1v1h-1zM44 111h1v1h-1zM3 112h1v1h-1zM4 113h1v1h-1zM45 113h1v1h-1zM11 114h1v1h-1zM66 122h1v1h-1zM4 125h1v1h-1zM17 126h1v1h-1zM66 126h1v1h-1zM1 127h1v1h-1zM55 131h1v1h-1zM17 132h1v1h-1zM11 134h1v1h-1zM49 135h1v1h-1zM2 136h1v1h-1zM7 136h1v1h-1zM49 136h1v1h-1zM62 136h1v1h-1zM9 137h1v1h-1zM4 143h1v1h-1zM3 144h1v1h-1zM2 145h1v1h-1zM10 149h1v1h-1zM64 152h1v1h-1zM12 156h1v1h-1z"/>
<path fill="#a0ce57" d="M38 2h1v1h-1zM11 8h1v1h-1zM14 8h1v1h-1zM19 8h1v1h-1zM35 8h1v1h-1zM45 8h1v1h-1zM51 8h1v1h-1zM55 8h1v1h-1zM57 8h1v1h-1zM64 8h1v1h-1zM61 10h1v1h-1zM44 11h1v1h-1zM1 12h1v1h-1zM23 12h1v1h-1zM44 12h1v1h-1zM47 12h1v1h-1zM51 13h1v1h-1zM53 13h1v1h-1zM15 14h1v1h-1zM57 15h1v1h-1zM55 16h1v1h-1zM49 17h1v1h-1zM4 19h2v1h-2zM56 19h1v1h-1zM65 19h1v1h-1zM2 20h1v1h-1zM19 20h1v1h-1zM7 22h1v1h-1zM15 22h1v1h-1zM48 22h1v1h-1zM60 22h1v1h-1zM47 24h1v1h-1zM8 25h1v1h-1zM4 27h1v1h-1zM57 27h1v1h-1zM64 28h1v1h-1zM4 31h1v1h-1zM17 31h1v1h-1zM7 33h1v1h-1zM12 34h1v1h-1zM10 35h1v1h-1zM12 35h1v1h-1zM2 37h1v1h-1zM9 37h1v1h-1zM65 37h1v1h-1zM11 44h1v1h-1zM12 45h1v1h-1zM63 46h1v1h-1zM11 64h1v1h-1zM1 65h1v1h-1zM55 65h1v1h-1zM4 67h1v1h-1zM54 67h1v1h-1zM10 68h1v1h-1zM3 72h1v1h-1zM44 72h1v1h-1zM2 74h1v1h-1zM53 75h2v1h-2zM66 75h1v1h-1zM54 76h1v1h-1zM3 93h1v1h-1z"/>
<path fill="#ed3124" d="M61 2h1v1h-1zM3 4h1v1h-1zM56 4h1v1h-1zM61 4h1v1h-1zM14 5h1v1h-1zM63 5h1v1h-1z"/>
<path fill="#bf1f24" d="M63 2h1v1h-1z"/>
<path fill="#a6d050" d="M30 3h1v1h-1zM45 3h1v1h-1zM38 4h1v1h-1zM38 7h1v1h-1zM49 8h1v1h-1zM59 9h1v1h-1zM61 9h2v1h-2zM64 9h1v1h-1zM66 10h1v1h-1zM7 11h1v1h-1zM9 11h1v1h-1zM25 11h1v1h-1zM62 11h1v1h-1zM64 11h1v1h-1zM21 12h1v1h-1zM58 12h1v1h-1zM4 13h1v1h-1zM16 13h1v1h-1zM18 13h1v1h-1zM50 13h1v1h-1zM52 13h1v1h-1zM54 13h1v1h-1zM24 15h1v1h-1zM46 15h1v1h-1zM23 16h1v1h-1zM47 16h1v1h-1zM12 17h1v1h-1zM16 17h1v1h-1zM51 17h1v1h-1zM58 17h1v1h-1zM23 18h1v1h-1zM11 19h1v1h-1zM15 19h1v1h-1zM5 20h1v1h-1zM60 20h1v1h-1zM2 21h1v1h-1zM15 21h1v1h-1zM56 22h1v1h-1zM0 23h1v1h-1zM12 23h1v1h-1zM45 23h1v1h-1zM52 23h1v1h-1zM55 23h1v1h-1zM17 24h1v1h-1zM0 25h1v1h-1zM10 25h1v1h-1zM65 25h1v1h-1zM59 26h1v1h-1zM1 27h1v1h-1zM65 31h1v1h-1zM44 32h1v1h-1zM59 32h1v1h-1zM1 33h1v1h-1zM5 33h1v1h-1zM17 33h1v1h-1zM50 34h1v1h-1zM54 34h1v1h-1zM4 36h1v1h-1zM65 36h1v1h-1zM60 37h1v1h-1zM63 37h1v1h-1zM3 52h2v1h-2zM17 52h1v1h-1zM50 55h1v1h-1zM50 56h1v1h-1zM6 57h1v1h-1zM4 58h1v1h-1zM8 58h1v1h-1zM3 63h1v1h-1zM17 64h1v1h-1zM58 64h1v1h-1zM54 66h1v1h-1zM3 67h1v1h-1zM64 72h1v1h-1zM4 77h1v1h-1zM10 78h1v1h-1zM1 84h1v1h-1zM4 97h1v1h-1z"/>
<path fill="#31b9ed" d="M32 3h1v1h-1zM32 4h1v1h-1zM20 10h1v1h-1zM43 10h1v1h-1zM49 10h1v1h-1zM30 11h1v1h-1zM30 22h1v1h-1zM36 22h1v1h-1zM57 22h1v1h-1zM29 23h1v1h-1zM39 23h1v1h-1zM27 24h1v1h-1zM39 26h1v1h-1zM24 28h1v1h-1zM55 28h1v1h-1zM4 29h1v1h-1zM18 29h1v1h-1zM23 29h1v1h-1zM43 29h1v1h-1zM65 29h2v1h-2zM8 31h1v1h-1zM20 31h1v1h-1zM47 31h1v1h-1zM15 34h1v1h-1zM38 38h1v1h-1zM6 41h1v1h-1zM8 41h1v1h-1zM45 41h1v1h-1zM49 41h1v1h-1zM52 41h1v1h-1zM14 42h1v1h-1zM39 42h1v1h-1zM24 43h1v1h-1zM36 43h1v1h-1zM44 44h1v1h-1zM44 48h1v1h-1zM3 49h1v1h-1zM63 49h1v1h-1zM54 50h1v1h-1zM8 51h2v1h-2zM49 51h1v1h-1zM16 53h1v1h-1zM5 56h1v1h-1zM44 56h1v1h-1zM44 58h2v1h-2zM13 59h1v1h-1zM50 60h1v1h-1zM56 60h1v1h-1zM8 61h1v1h-1zM41 61h1v1h-1zM57 61h1v1h-1zM54 62h1v1h-1zM6 63h1v1h-1zM23 64h1v1h-1zM37 66h1v1h-1zM19 67h1v1h-1zM21 67h1v1h-1zM14 68h1v1h-1zM51 68h1v1h-1zM1 69h1v1h-1zM21 69h1v1h-1zM44 69h1v1h-1zM62 69h1v1h-1zM2 70h1v1h-1zM18 70h1v1h-1zM62 70h1v1h-1zM43 71h1v1h-1zM48 71h1v1h-1zM52 71h1v1h-1zM54 71h1v1h-1zM54 72h1v1h-1zM22 73h1v1h-1zM26 74h1v1h-1zM21 78h1v1h-1zM23 78h1v1h-1zM43 78h1v1h-1zM53 81h1v1h-1zM8 82h1v1h-1zM43 82h1v1h-1zM46 82h1v1h-1zM56 82h1v1h-1zM60 82h1v1h-1zM26 83h1v1h-1zM48 83h1v1h-1zM52 83h1v1h-1zM51 84h1v1h-1zM45 85h1v1h-1zM56 85h1v1h-1zM0 86h1v1h-1zM7 88h1v1h-1zM54 88h1v1h-1zM0 92h1v1h-1zM2 92h1v1h-1zM59 92h1v1h-1zM44 93h1v1h-1zM19 94h1v1h-1zM15 95h1v1h-1zM65 95h1v1h-1zM11 96h1v1h-1zM45 96h1v1h-1zM49 97h1v1h-1zM3 99h1v1h-1zM2 100h1v1h-1zM44 100h1v1h-1zM2 101h1v1h-1zM19 102h1v1h-1zM20 104h1v1h-1zM59 104h1v1h-1zM48 105h1v1h-1zM58 105h1v1h-1zM61 105h1v1h-1zM61 106h1v1h-1zM60 107h1v1h-1zM65 107h1v1h-1zM1 112h1v1h-1zM55 112h1v1h-1zM0 113h1v1h-1zM48 113h1v1h-1zM62 113h1v1h-1zM66 113h1v1h-1zM48 115h1v1h-1zM63 115h1v1h-1zM0 116h1v1h-1zM15 116h1v1h-1zM55 116h1v1h-1zM15 117h1v1h-1zM53 117h1v1h-1zM55 117h1v1h-1zM54 118h1v1h-1zM0 121h1v1h-1zM1 122h1v1h-1zM5 123h1v1h-1zM62 123h1v1h-1zM64 123h1v1h-1zM56 124h1v1h-1zM62 124h1v1h-1zM50 125h1v1h-1zM55 125h1v1h-1zM59 125h1v1h-1zM63 126h1v1h-1zM60 127h1v1h-1zM10 131h1v1h-1zM62 131h1v1h-1zM2 132h1v1h-1zM10 132h1v1h-1zM13 134h1v1h-1zM11 135h1v1h-1zM18 137h1v1h-1zM5 138h1v1h-1zM1 142h1v1h-1zM10 142h1v1h-1zM55 142h1v1h-1zM13 143h1v1h-1zM0 144h1v1h-1zM20 144h1v1h-1zM46 145h1v1h-1zM55 145h1v1h-1zM10 146h1v1h-1zM61 146h1v1h-1zM10 152h1v1h-1zM55 152h1v1h-1zM5 154h1v1h-1zM13 154h1v1h-1zM53 154h1v1h-1zM65 154h1v1h-1zM0 155h1v1h-1zM3 155h1v1h-1zM20 155h1v1h-1zM10 157h1v1h-1zM13 157h1v1h-1zM60 157h1v1h-1z"/>
<path fill="#79c6a2" d="M34 3h1v1h-1zM36 5h1v1h-1zM34 7h1v1h-1zM32 8h1v1h-1zM5 10h1v1h-1zM58 10h1v1h-1zM42 11h1v1h-1zM47 11h1v1h-1zM49 12h1v1h-1zM21 13h1v1h-1zM26 14h1v1h-1zM44 17h1v1h-1zM44 18h1v1h-1zM48 18h1v1h-1zM54 18h1v1h-1zM22 19h1v1h-1zM12 20h1v1h-1zM14 20h1v1h-1zM43 20h1v1h-1zM46 20h1v1h-1zM56 21h1v1h-1zM43 22h1v1h-1zM45 25h1v1h-1zM21 26h1v1h-1zM47 26h1v1h-1zM3 29h1v1h-1zM10 29h1v1h-1zM0 30h1v1h-1zM44 30h1v1h-1zM19 32h1v1h-1zM58 32h1v1h-1zM19 33h1v1h-1zM22 33h1v1h-1zM26 33h1v1h-1zM56 34h1v1h-1zM24 35h1v1h-1zM12 37h1v1h-1zM23 37h1v1h-1zM62 41h1v1h-1zM65 41h1v1h-1zM56 42h1v1h-1zM59 42h1v1h-1zM62 42h1v1h-1zM5 43h1v1h-1zM7 43h1v1h-1zM13 45h1v1h-1zM65 45h1v1h-1zM65 46h1v1h-1zM50 47h1v1h-1zM56 47h1v1h-1zM7 48h1v1h-1zM17 48h1v1h-1zM22 48h1v1h-1zM54 48h1v1h-1zM44 50h1v1h-1zM4 51h1v1h-1zM4 54h1v1h-1zM7 54h2v1h-2zM18 54h1v1h-1zM23 56h1v1h-1zM46 56h1v1h-1zM59 56h1v1h-1zM57 58h1v1h-1zM59 62h1v1h-1zM52 63h1v1h-1zM18 64h1v1h-1zM20 64h1v1h-1zM53 64h1v1h-1zM59 64h1v1h-1zM64 64h1v1h-1zM65 65h1v1h-1zM65 66h1v1h-1zM12 67h2v1h-2zM3 68h1v1h-1zM62 68h1v1h-1zM5 72h1v1h-1zM55 72h1v1h-1zM59 72h1v1h-1zM12 73h2v1h-2zM18 74h1v1h-1zM58 74h1v1h-1zM60 74h1v1h-1zM65 76h1v1h-1zM2 77h1v1h-1zM55 77h1v1h-1zM2 83h1v1h-1zM11 84h1v1h-1zM49 84h1v1h-1zM54 85h1v1h-1zM48 87h1v1h-1zM17 93h1v1h-1zM1 103h1v1h-1zM4 105h1v1h-1zM1 106h1v1h-1zM65 122h1v1h-1zM1 146h1v1h-1zM10 148h1v1h-1zM3 152h1v1h-1z"/>
<path fill="#96cb64" d="M42 3h1v1h-1zM37 8h1v1h-1zM51 11h1v1h-1zM56 11h1v1h-1zM43 12h1v1h-1zM25 13h1v1h-1zM23 15h1v1h-1zM49 16h1v1h-1zM43 19h1v1h-1zM60 19h1v1h-1zM1 20h1v1h-1zM4 20h1v1h-1zM3 21h1v1h-1zM6 21h1v1h-1zM8 21h1v1h-1zM46 21h1v1h-1zM58 21h1v1h-1zM6 22h1v1h-1zM14 22h1v1h-1zM22 23h1v1h-1zM58 23h1v1h-1zM19 24h1v1h-1zM49 24h1v1h-1zM51 24h1v1h-1zM15 25h1v1h-1zM20 25h1v1h-1zM2 26h1v1h-1zM11 26h1v1h-1zM46 26h1v1h-1zM10 27h1v1h-1zM17 27h1v1h-1zM9 28h1v1h-1zM10 31h1v1h-1zM62 31h1v1h-1zM4 32h1v1h-1zM60 32h3v1h-3zM62 33h1v1h-1zM11 34h1v1h-1zM17 34h1v1h-1zM55 34h1v1h-1zM60 34h1v1h-1zM62 34h1v1h-1zM64 34h1v1h-1zM18 35h1v1h-1zM1 36h1v1h-1zM50 36h1v1h-1zM58 36h1v1h-1zM61 36h2v1h-2zM6 37h1v1h-1zM63 38h1v1h-1zM55 41h1v1h-1zM4 42h1v1h-1zM20 44h1v1h-1zM49 44h1v1h-1zM55 45h1v1h-1zM13 46h1v1h-1zM62 46h1v1h-1zM66 46h1v1h-1zM63 47h1v1h-1zM3 48h1v1h-1zM55 51h1v1h-1zM25 52h1v1h-1zM1 53h1v1h-1zM65 53h1v1h-1zM54 55h1v1h-1zM13 56h1v1h-1zM55 56h1v1h-1zM63 56h1v1h-1zM65 61h1v1h-1zM3 62h1v1h-1zM65 73h1v1h-1zM49 75h1v1h-1zM2 76h1v1h-1zM6 76h1v1h-1zM66 76h1v1h-1zM65 82h1v1h-1zM3 83h1v1h-1zM1 124h1v1h-1zM1 134h1v1h-1z"/>
<path fill="#d8de24" d="M52 3h1v1h-1zM42 4h1v1h-1zM45 5h1v1h-1zM26 6h1v1h-1zM29 7h1v1h-1zM35 7h1v1h-1zM26 8h1v1h-1zM1 11h1v1h-1zM6 11h1v1h-1zM4 12h2v1h-2zM56 13h1v1h-1zM59 13h1v1h-1zM12 14h1v1h-1zM55 14h1v1h-1zM9 15h2v1h-2zM49 15h1v1h-1zM17 16h1v1h-1zM58 16h1v1h-1zM62 16h1v1h-1zM14 17h1v1h-1zM23 17h1v1h-1zM55 17h1v1h-1zM66 17h1v1h-1zM2 18h1v1h-1zM66 18h1v1h-1zM13 19h1v1h-1zM54 19h1v1h-1zM59 19h1v1h-1zM0 20h1v1h-1zM10 20h1v1h-1zM5 21h1v1h-1zM8 28h1v1h-1zM66 32h1v1h-1zM66 33h1v1h-1zM4 37h1v1h-1z"/>
<path fill="#ec2924" d="M61 3h1v1h-1zM62 5h1v1h-1zM4 6h1v1h-1zM66 6h1v1h-1z"/>
<path fill="#ea2326" d="M5 4h1v1h-1zM33 149h1v1h-1z"/>
<path fill="#61c8e3" d="M34 4h1v1h-1zM32 6h1v1h-1zM13 10h1v1h-1zM19 10h1v1h-1zM21 10h1v1h-1zM40 13h1v1h-1zM41 15h1v1h-1zM38 19h1v1h-1zM25 20h1v1h-1zM38 22h1v1h-1zM39 25h1v1h-1zM12 26h1v1h-1zM41 27h1v1h-1zM43 27h1v1h-1zM64 27h1v1h-1zM42 28h1v1h-1zM55 29h1v1h-1zM62 30h1v1h-1zM23 31h1v1h-1zM43 31h1v1h-1zM9 33h1v1h-1zM41 33h1v1h-1zM15 35h1v1h-1zM26 35h1v1h-1zM21 36h1v1h-1zM20 37h1v1h-1zM22 38h1v1h-1zM19 41h1v1h-1zM56 41h1v1h-1zM6 42h1v1h-1zM41 42h1v1h-1zM41 43h1v1h-1zM0 44h1v1h-1zM24 45h2v1h-2zM56 46h1v1h-1zM53 51h1v1h-1zM12 52h2v1h-2zM20 52h1v1h-1zM24 55h1v1h-1zM41 56h1v1h-1zM56 56h1v1h-1zM20 57h1v1h-1zM9 58h1v1h-1zM61 58h1v1h-1zM21 59h1v1h-1zM57 59h1v1h-1zM62 59h1v1h-1zM0 60h1v1h-1zM50 61h1v1h-1zM13 62h1v1h-1zM22 62h1v1h-1zM51 62h1v1h-1zM0 63h1v1h-1zM56 63h1v1h-1zM45 64h1v1h-1zM5 66h1v1h-1zM30 66h1v1h-1zM56 66h1v1h-1zM11 67h1v1h-1zM45 67h1v1h-1zM50 67h1v1h-1zM0 68h2v1h-2zM13 68h1v1h-1zM65 68h1v1h-1zM58 70h1v1h-1zM2 71h1v1h-1zM23 72h1v1h-1zM26 72h1v1h-1zM43 72h1v1h-1zM46 72h1v1h-1zM48 72h1v1h-1zM60 72h1v1h-1zM57 75h1v1h-1zM64 75h1v1h-1zM30 76h1v1h-1zM56 76h1v1h-1zM5 78h1v1h-1zM2 82h1v1h-1zM59 83h1v1h-1zM53 84h1v1h-1zM55 84h2v1h-2zM59 84h1v1h-1zM50 85h1v1h-1zM17 86h1v1h-1zM46 86h1v1h-1zM3 91h1v1h-1zM64 92h1v1h-1zM45 93h1v1h-1zM0 94h1v1h-1zM61 94h1v1h-1zM7 95h1v1h-1zM54 95h1v1h-1zM66 95h1v1h-1zM17 96h1v1h-1zM62 96h1v1h-1zM17 97h1v1h-1zM56 97h1v1h-1zM44 101h1v1h-1zM4 103h1v1h-1zM45 103h1v1h-1zM63 103h2v1h-2zM3 104h1v1h-1zM7 105h1v1h-1zM9 105h1v1h-1zM11 105h1v1h-1zM7 106h1v1h-1zM46 106h1v1h-1zM10 109h1v1h-1zM63 114h1v1h-1zM9 116h1v1h-1zM12 116h1v1h-1zM53 116h1v1h-1zM17 117h1v1h-1zM44 121h1v1h-1zM7 123h1v1h-1zM10 123h1v1h-1zM49 124h1v1h-1zM63 124h1v1h-1zM18 125h1v1h-1zM48 126h1v1h-1zM7 127h1v1h-1zM9 127h1v1h-1zM46 127h1v1h-1zM17 131h1v1h-1zM11 133h1v1h-1zM17 133h1v1h-1zM2 134h1v1h-1zM2 135h2v1h-2zM46 136h1v1h-1zM55 136h1v1h-1zM17 137h1v1h-1zM10 143h1v1h-1zM2 144h1v1h-1zM63 144h1v1h-1zM18 145h1v1h-1zM17 151h1v1h-1zM66 152h1v1h-1zM62 155h1v1h-1zM11 156h1v1h-1z"/>
<path fill="#82c782" d="M31 5h1v1h-1zM3 9h1v1h-1zM53 9h3v1h-3zM60 10h1v1h-1zM63 10h1v1h-1zM40 12h1v1h-1zM57 12h1v1h-1zM24 13h1v1h-1zM48 13h1v1h-1zM46 14h1v1h-1zM52 16h1v1h-1zM43 17h1v1h-1zM52 18h1v1h-1zM6 20h1v1h-1zM20 20h1v1h-1zM44 21h1v1h-1zM47 21h1v1h-1zM11 22h1v1h-1zM44 23h1v1h-1zM23 24h1v1h-1zM57 26h1v1h-1zM21 27h1v1h-1zM48 27h1v1h-1zM16 28h1v1h-1zM46 28h1v1h-1zM63 31h1v1h-1zM22 32h1v1h-1zM8 33h1v1h-1zM50 33h2v1h-2zM57 33h1v1h-1zM7 34h1v1h-1zM53 34h1v1h-1zM46 35h1v1h-1zM57 35h1v1h-1zM18 37h1v1h-1zM55 37h1v1h-1zM18 38h1v1h-1zM10 39h1v1h-1zM17 41h1v1h-1zM5 42h1v1h-1zM63 42h1v1h-1zM22 43h1v1h-1zM2 44h1v1h-1zM13 44h1v1h-1zM53 44h1v1h-1zM55 44h1v1h-1zM3 45h2v1h-2zM52 45h1v1h-1zM2 48h1v1h-1zM65 51h1v1h-1zM55 52h1v1h-1zM63 52h1v1h-1zM2 53h1v1h-1zM7 53h1v1h-1zM12 53h1v1h-1zM55 53h1v1h-1zM66 54h1v1h-1zM9 55h1v1h-1zM52 55h1v1h-1zM59 55h1v1h-1zM8 56h1v1h-1zM65 56h1v1h-1zM1 57h1v1h-1zM53 57h1v1h-1zM1 58h1v1h-1zM62 58h1v1h-1zM17 60h1v1h-1zM55 61h1v1h-1zM63 62h1v1h-1zM10 63h2v1h-2zM17 63h1v1h-1zM47 64h1v1h-1zM2 66h1v1h-1zM17 66h1v1h-1zM62 66h1v1h-1zM62 67h1v1h-1zM4 68h1v1h-1zM63 68h1v1h-1zM1 73h1v1h-1zM64 73h1v1h-1zM20 74h1v1h-1zM47 74h1v1h-1zM59 75h2v1h-2zM7 77h1v1h-1zM17 77h1v1h-1zM46 77h1v1h-1zM10 79h1v1h-1zM49 85h1v1h-1zM65 112h1v1h-1zM3 116h1v1h-1zM3 123h1v1h-1zM4 136h1v1h-1zM3 157h1v1h-1z"/>
<path fill="#76c6aa" d="M32 5h1v1h-1zM34 5h1v1h-1zM1 10h2v1h-2zM10 10h1v1h-1zM12 10h1v1h-1zM40 11h1v1h-1zM42 12h1v1h-1zM53 12h1v1h-1zM47 13h1v1h-1zM26 15h1v1h-1zM47 17h1v1h-1zM42 18h1v1h-1zM49 20h1v1h-1zM25 21h1v1h-1zM21 22h1v1h-1zM46 22h1v1h-1zM43 23h1v1h-1zM22 24h1v1h-1zM56 26h1v1h-1zM22 27h2v1h-2zM2 29h1v1h-1zM8 29h1v1h-1zM58 30h1v1h-1zM56 31h1v1h-1zM7 32h1v1h-1zM50 32h1v1h-1zM20 33h1v1h-1zM25 33h1v1h-1zM45 33h1v1h-1zM9 34h1v1h-1zM5 35h1v1h-1zM0 36h1v1h-1zM61 37h1v1h-1zM9 38h1v1h-1zM10 40h1v1h-1zM66 41h1v1h-1zM2 42h1v1h-1zM60 42h1v1h-1zM25 43h1v1h-1zM44 43h1v1h-1zM50 43h1v1h-1zM58 43h1v1h-1zM3 44h1v1h-1zM6 44h1v1h-1zM56 44h1v1h-1zM46 45h1v1h-1zM12 47h1v1h-1zM15 47h1v1h-1zM17 47h1v1h-1zM6 48h1v1h-1zM63 48h1v1h-1zM10 51h1v1h-1zM19 51h1v1h-1zM59 52h2v1h-2zM13 53h1v1h-1zM51 54h1v1h-1zM53 54h1v1h-1zM59 54h1v1h-1zM64 54h1v1h-1zM51 55h1v1h-1zM60 55h1v1h-1zM15 56h1v1h-1zM23 57h1v1h-1zM56 57h1v1h-1zM59 57h1v1h-1zM65 58h1v1h-1zM60 61h1v1h-1zM7 63h1v1h-1zM51 63h1v1h-1zM58 63h1v1h-1zM61 63h2v1h-2zM4 64h1v1h-1zM13 64h1v1h-1zM23 66h1v1h-1zM59 66h2v1h-2zM10 67h1v1h-1zM46 67h1v1h-1zM59 68h1v1h-1zM50 73h1v1h-1zM59 73h1v1h-1zM4 74h1v1h-1zM55 74h2v1h-2zM3 75h1v1h-1zM7 75h1v1h-1zM11 75h1v1h-1zM65 75h1v1h-1zM11 76h1v1h-1zM15 76h1v1h-1zM10 77h1v1h-1zM18 77h1v1h-1zM53 77h1v1h-1zM4 78h1v1h-1zM62 78h1v1h-1zM10 82h1v1h-1zM17 83h1v1h-1zM3 85h1v1h-1zM1 86h1v1h-1zM49 86h1v1h-1zM3 88h1v1h-1zM3 92h1v1h-1zM62 95h1v1h-1zM65 101h1v1h-1zM49 105h1v1h-1zM1 116h1v1h-1zM1 126h1v1h-1zM3 132h1v1h-1zM1 133h1v1h-1zM4 142h1v1h-1zM3 143h1v1h-1zM4 146h1v1h-1zM1 155h1v1h-1zM2 156h1v1h-1z"/>
<path fill="#7bc69a" d="M31 6h1v1h-1zM0 9h1v1h-1zM56 17h1v1h-1zM24 18h1v1h-1zM16 19h1v1h-1zM20 19h1v1h-1zM50 21h1v1h-1zM12 22h1v1h-1zM18 22h1v1h-1zM20 22h1v1h-1zM22 22h1v1h-1zM53 22h1v1h-1zM48 23h1v1h-1zM23 25h1v1h-1zM52 25h1v1h-1zM49 27h1v1h-1zM51 27h1v1h-1zM56 27h1v1h-1zM58 27h1v1h-1zM5 31h1v1h-1zM60 31h1v1h-1zM18 32h1v1h-1zM48 32h1v1h-1zM13 33h1v1h-1zM46 33h1v1h-1zM52 33h1v1h-1zM64 35h1v1h-1zM15 37h1v1h-1zM46 37h1v1h-1zM5 38h1v1h-1zM17 38h1v1h-1zM64 41h1v1h-1zM61 42h1v1h-1zM51 43h1v1h-1zM55 43h1v1h-1zM52 44h1v1h-1zM54 44h1v1h-1zM62 44h1v1h-1zM60 45h1v1h-1zM8 46h1v1h-1zM58 47h1v1h-1zM61 47h1v1h-1zM66 47h1v1h-1zM10 50h1v1h-1zM66 51h1v1h-1zM64 52h1v1h-1zM52 53h1v1h-1zM58 53h1v1h-1zM54 54h1v1h-1zM57 54h1v1h-1zM5 55h1v1h-1zM63 58h1v1h-1zM18 60h1v1h-1zM44 60h1v1h-1zM66 61h1v1h-1zM10 62h1v1h-1zM50 62h1v1h-1zM13 63h1v1h-1zM3 64h1v1h-1zM60 64h1v1h-1zM2 65h1v1h-1zM58 65h1v1h-1zM62 65h1v1h-1zM66 67h1v1h-1zM64 71h1v1h-1zM45 73h1v1h-1zM63 73h1v1h-1zM3 74h1v1h-1zM8 74h1v1h-1zM12 74h1v1h-1zM9 75h1v1h-1zM20 75h1v1h-1zM46 75h1v1h-1zM17 76h1v1h-1zM48 76h1v1h-1zM1 77h1v1h-1zM59 77h1v1h-1zM1 83h1v1h-1zM4 85h1v1h-1zM53 85h1v1h-1zM2 86h1v1h-1zM4 102h1v1h-1zM1 107h1v1h-1zM1 123h1v1h-1zM3 127h1v1h-1zM10 128h1v1h-1zM65 132h1v1h-1z"/>
<path fill="#38c5f2" d="M34 6h1v1h-1zM44 9h1v1h-1zM29 16h1v1h-1zM36 16h1v1h-1zM26 17h1v1h-1zM30 17h1v1h-1zM30 18h1v1h-1zM43 28h1v1h-1zM51 29h1v1h-1zM1 30h1v1h-1zM23 30h1v1h-1zM15 31h1v1h-1zM52 31h1v1h-1zM37 32h1v1h-1zM47 32h1v1h-1zM30 35h1v1h-1zM22 37h1v1h-1zM50 38h1v1h-1zM0 39h1v1h-1zM3 39h1v1h-1zM9 39h1v1h-1zM37 41h1v1h-1zM40 42h1v1h-1zM49 43h1v1h-1zM14 44h1v1h-1zM63 45h1v1h-1zM44 46h1v1h-1zM0 47h1v1h-1zM26 47h1v1h-1zM9 49h1v1h-1zM59 49h1v1h-1zM0 50h1v1h-1zM2 50h1v1h-1zM0 52h1v1h-1zM36 53h1v1h-1zM25 54h1v1h-1zM16 55h1v1h-1zM0 57h1v1h-1zM12 59h1v1h-1zM56 59h1v1h-1zM3 60h1v1h-1zM66 60h1v1h-1zM11 61h1v1h-1zM37 61h1v1h-1zM46 62h1v1h-1zM22 64h1v1h-1zM25 64h1v1h-1zM25 67h1v1h-1zM44 67h1v1h-1zM20 68h1v1h-1zM3 69h1v1h-1zM19 69h1v1h-1zM54 70h1v1h-1zM0 71h1v1h-1zM37 71h1v1h-1zM50 71h2v1h-2zM6 72h1v1h-1zM18 72h1v1h-1zM58 72h1v1h-1zM25 73h1v1h-1zM29 73h1v1h-1zM30 75h1v1h-1zM7 76h1v1h-1zM21 76h1v1h-1zM0 77h1v1h-1zM22 78h1v1h-1zM53 78h1v1h-1zM11 82h1v1h-1zM7 83h1v1h-1zM25 83h1v1h-1zM18 84h2v1h-2zM65 84h1v1h-1zM47 85h1v1h-1zM8 86h1v1h-1zM10 86h2v1h-2zM61 86h1v1h-1zM49 87h1v1h-1zM53 87h1v1h-1zM63 87h1v1h-1zM17 88h1v1h-1zM17 90h1v1h-1zM44 90h1v1h-1zM0 91h1v1h-1zM58 91h1v1h-1zM7 92h1v1h-1zM5 93h1v1h-1zM5 94h1v1h-1zM45 94h1v1h-1zM65 96h1v1h-1zM6 97h1v1h-1zM15 97h1v1h-1zM62 99h1v1h-1zM25 101h1v1h-1zM10 102h1v1h-1zM0 103h1v1h-1zM13 104h1v1h-1zM60 104h2v1h-2zM64 104h1v1h-1zM60 105h1v1h-1zM15 106h1v1h-1zM55 106h1v1h-1zM10 107h1v1h-1zM64 107h1v1h-1zM2 108h1v1h-1zM46 108h1v1h-1zM2 112h1v1h-1zM11 112h1v1h-1zM62 115h1v1h-1zM66 115h1v1h-1zM60 116h1v1h-1zM65 116h1v1h-1zM6 117h1v1h-1zM13 117h1v1h-1zM65 117h1v1h-1zM5 118h1v1h-1zM56 118h1v1h-1zM10 122h1v1h-1zM20 124h1v1h-1zM3 125h1v1h-1zM54 127h1v1h-1zM2 128h1v1h-1zM55 132h1v1h-1zM62 132h1v1h-1zM10 134h1v1h-1zM58 134h1v1h-1zM17 135h2v1h-2zM61 135h1v1h-1zM0 136h1v1h-1zM12 136h1v1h-1zM63 136h1v1h-1zM65 136h1v1h-1zM2 137h1v1h-1zM54 137h1v1h-1zM17 138h1v1h-1zM2 139h2v1h-2zM17 139h1v1h-1zM4 140h1v1h-1zM10 145h1v1h-1zM17 145h1v1h-1zM63 145h1v1h-1zM2 146h1v1h-1zM6 146h1v1h-1zM12 146h2v1h-2zM18 147h1v1h-1zM56 147h1v1h-1zM10 150h1v1h-1zM62 151h1v1h-1zM2 153h1v1h-1zM48 153h1v1h-1zM64 153h1v1h-1zM46 156h1v1h-1zM55 156h1v1h-1zM46 158h1v1h-1z"/>
<path fill="#72c6b9" d="M32 7h1v1h-1zM34 8h1v1h-1zM11 9h1v1h-1zM22 9h1v1h-1zM53 10h1v1h-1zM55 10h1v1h-1zM46 11h1v1h-1zM48 11h1v1h-1zM26 12h1v1h-1zM38 12h1v1h-1zM42 15h1v1h-1zM53 16h1v1h-1zM7 19h1v1h-1zM14 19h1v1h-1zM14 21h1v1h-1zM43 24h1v1h-1zM48 24h1v1h-1zM22 25h1v1h-1zM41 26h1v1h-1zM22 28h1v1h-1zM54 29h1v1h-1zM54 31h1v1h-1zM23 32h1v1h-1zM56 32h1v1h-1zM0 33h1v1h-1zM54 33h1v1h-1zM24 34h1v1h-1zM57 34h1v1h-1zM21 35h1v1h-1zM23 35h1v1h-1zM47 35h2v1h-2zM5 36h1v1h-1zM51 37h1v1h-1zM1 38h1v1h-1zM6 38h2v1h-2zM59 38h1v1h-1zM58 41h1v1h-1zM7 42h1v1h-1zM19 42h1v1h-1zM20 43h1v1h-1zM61 43h1v1h-1zM7 45h1v1h-1zM10 46h1v1h-1zM20 46h1v1h-1zM23 46h1v1h-1zM59 46h1v1h-1zM5 47h1v1h-1zM65 47h1v1h-1zM53 48h1v1h-1zM25 51h1v1h-1zM58 51h1v1h-1zM2 52h1v1h-1zM62 52h1v1h-1zM46 54h1v1h-1zM62 56h1v1h-1zM49 57h1v1h-1zM6 58h2v1h-2zM13 58h1v1h-1zM56 58h1v1h-1zM59 58h1v1h-1zM2 59h2v1h-2zM7 62h1v1h-1zM12 63h1v1h-1zM7 65h1v1h-1zM51 65h1v1h-1zM52 66h1v1h-1zM2 67h1v1h-1zM5 67h1v1h-1zM59 67h1v1h-1zM54 68h1v1h-1zM10 70h1v1h-1zM55 73h2v1h-2zM5 74h1v1h-1zM7 74h1v1h-1zM52 74h1v1h-1zM64 74h1v1h-1zM10 75h1v1h-1zM61 75h1v1h-1zM58 76h1v1h-1zM61 76h1v1h-1zM64 76h1v1h-1zM5 77h1v1h-1zM48 77h1v1h-1zM60 77h2v1h-2zM65 81h1v1h-1zM45 83h1v1h-1zM65 83h1v1h-1zM2 84h1v1h-1zM12 85h1v1h-1zM48 86h1v1h-1zM17 87h1v1h-1zM62 87h1v1h-1zM44 91h1v1h-1zM66 92h1v1h-1zM53 95h1v1h-1zM46 97h1v1h-1zM10 100h1v1h-1zM4 101h1v1h-1zM17 101h1v1h-1zM65 102h1v1h-1zM11 104h1v1h-1zM10 108h1v1h-1zM4 122h1v1h-1zM3 128h2v1h-2zM4 135h1v1h-1zM62 137h1v1h-1zM4 138h1v1h-1zM65 142h1v1h-1zM4 145h1v1h-1zM62 145h1v1h-1zM4 158h1v1h-1zM10 159h1v1h-1z"/>
<path fill="#89c878" d="M6 9h1v1h-1zM19 9h1v1h-1zM49 9h1v1h-1zM20 11h1v1h-1zM45 11h1v1h-1zM49 11h1v1h-1zM41 12h1v1h-1zM2 13h1v1h-1zM26 13h1v1h-1zM41 14h1v1h-1zM25 18h1v1h-1zM18 19h1v1h-1zM15 20h1v1h-1zM51 20h1v1h-1zM49 21h1v1h-1zM53 21h2v1h-2zM23 22h1v1h-1zM23 23h1v1h-1zM49 23h1v1h-1zM9 24h1v1h-1zM56 25h1v1h-1zM20 26h1v1h-1zM46 27h1v1h-1zM50 27h1v1h-1zM0 28h1v1h-1zM2 28h1v1h-1zM7 28h1v1h-1zM14 28h1v1h-1zM66 28h1v1h-1zM5 32h1v1h-1zM10 32h1v1h-1zM51 32h1v1h-1zM4 33h1v1h-1zM58 33h3v1h-3zM13 34h1v1h-1zM18 34h1v1h-1zM17 35h1v1h-1zM52 35h1v1h-1zM65 35h1v1h-1zM23 36h1v1h-1zM49 36h1v1h-1zM59 36h1v1h-1zM58 37h1v1h-1zM54 38h1v1h-1zM50 44h1v1h-1zM60 44h1v1h-1zM2 46h1v1h-1zM7 46h1v1h-1zM49 46h1v1h-1zM51 46h1v1h-1zM7 47h1v1h-1zM50 54h1v1h-1zM58 54h1v1h-1zM3 55h1v1h-1zM3 56h1v1h-1zM46 57h1v1h-1zM54 57h1v1h-1zM10 64h1v1h-1zM50 64h1v1h-1zM61 65h1v1h-1zM7 66h1v1h-1zM1 67h1v1h-1zM6 67h2v1h-2zM55 67h1v1h-1zM44 71h1v1h-1zM17 73h1v1h-1zM17 75h1v1h-1zM58 75h1v1h-1zM1 76h1v1h-1zM3 78h1v1h-1zM65 92h1v1h-1zM1 93h1v1h-1zM4 98h1v1h-1zM1 105h1v1h-1zM1 115h1v1h-1zM3 117h1v1h-1zM4 127h1v1h-1zM3 147h2v1h-2zM4 157h1v1h-1z"/>
<path fill="#70c7c1" d="M9 9h1v1h-1zM4 10h1v1h-1zM7 10h1v1h-1zM46 10h1v1h-1zM45 12h1v1h-1zM41 13h1v1h-1zM48 19h1v1h-1zM7 20h1v1h-1zM42 22h1v1h-1zM25 23h1v1h-1zM24 27h1v1h-1zM50 28h1v1h-1zM13 29h1v1h-1zM59 29h1v1h-1zM2 31h1v1h-1zM8 32h1v1h-1zM26 32h1v1h-1zM49 32h1v1h-1zM53 32h1v1h-1zM65 33h1v1h-1zM0 34h1v1h-1zM10 36h1v1h-1zM56 36h1v1h-1zM13 38h1v1h-1zM50 42h1v1h-1zM47 43h1v1h-1zM52 46h1v1h-1zM23 47h1v1h-1zM57 47h1v1h-1zM1 52h1v1h-1zM6 52h1v1h-1zM11 52h1v1h-1zM50 52h1v1h-1zM58 52h1v1h-1zM44 53h1v1h-1zM60 53h1v1h-1zM62 53h1v1h-1zM3 54h1v1h-1zM65 54h1v1h-1zM19 55h1v1h-1zM2 57h1v1h-1zM50 57h1v1h-1zM58 57h1v1h-1zM60 57h1v1h-1zM18 58h1v1h-1zM51 61h1v1h-1zM59 61h1v1h-1zM20 63h1v1h-1zM50 63h1v1h-1zM6 64h1v1h-1zM19 64h1v1h-1zM56 65h1v1h-1zM13 66h1v1h-1zM61 66h1v1h-1zM52 67h1v1h-1zM5 68h1v1h-1zM12 68h1v1h-1zM15 68h1v1h-1zM56 68h1v1h-1zM25 71h1v1h-1zM62 72h1v1h-1zM5 73h1v1h-1zM7 73h1v1h-1zM19 73h1v1h-1zM58 73h1v1h-1zM13 74h1v1h-1zM45 74h1v1h-1zM19 75h1v1h-1zM51 75h2v1h-2zM23 76h1v1h-1zM52 76h1v1h-1zM12 77h1v1h-1zM65 77h2v1h-2zM2 78h1v1h-1zM17 78h1v1h-1zM48 82h1v1h-1zM66 82h1v1h-1zM10 83h2v1h-2zM17 84h1v1h-1zM6 86h1v1h-1zM62 86h1v1h-1zM2 87h1v1h-1zM46 87h1v1h-1zM54 87h1v1h-1zM65 93h1v1h-1zM4 104h1v1h-1zM17 104h1v1h-1zM7 107h1v1h-1zM4 111h1v1h-1zM2 115h1v1h-1zM11 115h1v1h-1zM18 116h1v1h-1zM10 119h1v1h-1zM2 126h1v1h-1zM4 131h1v1h-1zM44 131h1v1h-1zM4 132h1v1h-1zM48 136h1v1h-1zM4 141h1v1h-1zM17 144h1v1h-1zM1 147h1v1h-1zM65 152h1v1h-1zM18 156h1v1h-1z"/>
<path fill="#6cc7cf" d="M10 9h1v1h-1zM20 9h1v1h-1zM43 9h1v1h-1zM56 9h1v1h-1zM11 10h1v1h-1zM22 10h1v1h-1zM44 10h1v1h-1zM25 14h1v1h-1zM42 14h1v1h-1zM24 17h1v1h-1zM45 18h1v1h-1zM64 18h2v1h-2zM49 19h1v1h-1zM45 20h1v1h-1zM41 23h1v1h-1zM58 25h1v1h-1zM44 26h1v1h-1zM47 28h1v1h-1zM53 29h1v1h-1zM0 31h2v1h-2zM61 31h1v1h-1zM0 32h1v1h-1zM6 32h1v1h-1zM12 32h2v1h-2zM47 33h1v1h-1zM6 34h1v1h-1zM16 34h1v1h-1zM25 34h1v1h-1zM19 36h2v1h-2zM11 37h1v1h-1zM55 38h2v1h-2zM18 41h1v1h-1zM25 41h1v1h-1zM22 42h1v1h-1zM43 42h1v1h-1zM18 43h1v1h-1zM26 43h1v1h-1zM45 45h1v1h-1zM47 45h1v1h-1zM64 45h1v1h-1zM19 47h1v1h-1zM48 47h1v1h-1zM1 48h1v1h-1zM18 48h1v1h-1zM2 49h1v1h-1zM0 51h1v1h-1zM59 51h1v1h-1zM7 52h2v1h-2zM43 52h1v1h-1zM48 52h1v1h-1zM56 52h1v1h-1zM0 53h1v1h-1zM20 53h1v1h-1zM22 53h1v1h-1zM51 53h1v1h-1zM56 53h1v1h-1zM41 54h1v1h-1zM46 55h1v1h-1zM48 56h1v1h-1zM58 56h1v1h-1zM64 56h1v1h-1zM5 57h1v1h-1zM52 57h1v1h-1zM15 58h1v1h-1zM19 58h1v1h-1zM64 58h1v1h-1zM59 60h1v1h-1zM1 62h1v1h-1zM6 62h1v1h-1zM25 63h1v1h-1zM46 63h1v1h-1zM57 63h1v1h-1zM51 64h1v1h-1zM0 65h1v1h-1zM10 65h1v1h-1zM46 65h2v1h-2zM64 65h1v1h-1zM57 67h1v1h-1zM17 68h2v1h-2zM66 71h1v1h-1zM2 72h1v1h-1zM7 72h1v1h-1zM10 72h1v1h-1zM54 73h1v1h-1zM61 73h1v1h-1zM62 74h1v1h-1zM49 77h1v1h-1zM57 77h1v1h-1zM64 77h1v1h-1zM46 78h1v1h-1zM63 78h1v1h-1zM4 81h1v1h-1zM17 82h1v1h-1zM25 82h1v1h-1zM4 84h1v1h-1zM58 84h1v1h-1zM61 84h1v1h-1zM63 84h1v1h-1zM11 85h1v1h-1zM46 85h1v1h-1zM55 85h1v1h-1zM65 87h1v1h-1zM17 92h1v1h-1zM3 94h2v1h-2zM11 94h1v1h-1zM17 94h1v1h-1zM2 95h1v1h-1zM9 95h1v1h-1zM17 95h1v1h-1zM1 97h1v1h-1zM1 98h1v1h-1zM62 98h1v1h-1zM49 104h1v1h-1zM2 105h1v1h-1zM54 105h1v1h-1zM3 106h1v1h-1zM9 107h1v1h-1zM3 108h1v1h-1zM2 113h1v1h-1zM49 115h1v1h-1zM2 116h1v1h-1zM7 117h1v1h-1zM62 117h1v1h-1zM17 124h1v1h-1zM54 125h1v1h-1zM62 126h1v1h-1zM44 132h1v1h-1zM4 134h1v1h-1zM62 135h1v1h-1zM13 136h1v1h-1zM7 137h1v1h-1zM62 138h1v1h-1zM10 139h1v1h-1zM44 141h1v1h-1zM2 143h1v1h-1zM1 156h1v1h-1zM3 158h1v1h-1z"/>
<path fill="#74c6b2" d="M13 9h1v1h-1zM18 9h1v1h-1zM48 9h1v1h-1zM63 12h1v1h-1zM36 13h1v1h-1zM43 13h1v1h-1zM3 14h1v1h-1zM43 15h1v1h-1zM25 16h1v1h-1zM3 20h1v1h-1zM23 20h1v1h-1zM47 20h2v1h-2zM21 23h1v1h-1zM21 28h1v1h-1zM19 29h1v1h-1zM19 31h1v1h-1zM52 32h1v1h-1zM57 32h1v1h-1zM45 34h1v1h-1zM47 34h1v1h-1zM57 36h1v1h-1zM48 37h1v1h-1zM57 37h1v1h-1zM19 38h1v1h-1zM64 38h1v1h-1zM45 43h2v1h-2zM52 43h1v1h-1zM54 43h1v1h-1zM19 44h1v1h-1zM46 44h1v1h-1zM51 44h1v1h-1zM56 45h1v1h-1zM21 46h1v1h-1zM64 47h1v1h-1zM5 48h1v1h-1zM59 48h1v1h-1zM65 48h1v1h-1zM17 49h1v1h-1zM62 51h1v1h-1zM19 52h1v1h-1zM51 52h1v1h-1zM61 52h1v1h-1zM8 53h1v1h-1zM47 54h1v1h-1zM13 55h1v1h-1zM15 55h1v1h-1zM61 56h1v1h-1zM66 57h1v1h-1zM46 58h1v1h-1zM54 59h2v1h-2zM18 61h1v1h-1zM60 63h1v1h-1zM48 66h1v1h-1zM58 66h1v1h-1zM15 67h1v1h-1zM23 67h1v1h-1zM65 67h1v1h-1zM63 72h1v1h-1zM51 74h1v1h-1zM54 74h1v1h-1zM59 74h1v1h-1zM13 75h1v1h-1zM59 76h1v1h-1zM15 77h1v1h-1zM10 80h1v1h-1zM10 81h1v1h-1zM44 81h1v1h-1zM4 82h1v1h-1zM2 85h1v1h-1zM59 85h1v1h-1zM12 86h1v1h-1zM8 87h1v1h-1zM4 91h1v1h-1zM17 91h1v1h-1zM1 95h1v1h-1zM4 95h1v1h-1zM2 96h1v1h-1zM7 96h1v1h-1zM48 96h1v1h-1zM7 97h1v1h-1zM3 114h1v1h-1zM4 115h1v1h-1zM3 122h1v1h-1zM1 125h1v1h-1zM49 125h1v1h-1zM1 143h1v1h-1zM65 143h1v1h-1zM3 146h1v1h-1zM4 152h1v1h-1zM2 155h1v1h-1z"/>
<path fill="#2fc4f4" d="M23 9h1v1h-1zM28 9h1v1h-1zM34 9h1v1h-1zM35 13h1v1h-1zM35 14h1v1h-1zM28 15h1v1h-1zM35 15h1v1h-1zM40 15h1v1h-1zM27 17h1v1h-1zM42 26h1v1h-1zM30 27h1v1h-1zM46 29h1v1h-1zM60 29h2v1h-2zM3 30h1v1h-1zM11 30h2v1h-2zM57 30h1v1h-1zM21 31h1v1h-1zM14 32h1v1h-1zM21 32h1v1h-1zM27 35h1v1h-1zM44 35h1v1h-1zM16 36h1v1h-1zM7 37h1v1h-1zM21 38h1v1h-1zM49 38h1v1h-1zM9 40h1v1h-1zM59 40h1v1h-1zM24 42h1v1h-1zM9 43h1v1h-1zM14 43h1v1h-1zM16 44h1v1h-1zM24 44h1v1h-1zM39 45h1v1h-1zM57 45h1v1h-1zM47 46h1v1h-1zM14 47h1v1h-1zM66 48h1v1h-1zM9 50h1v1h-1zM38 51h1v1h-1zM43 51h1v1h-1zM49 52h1v1h-1zM52 52h1v1h-1zM14 54h1v1h-1zM22 54h1v1h-1zM30 54h1v1h-1zM44 54h1v1h-1zM14 55h1v1h-1zM18 55h1v1h-1zM45 55h1v1h-1zM22 56h1v1h-1zM45 56h1v1h-1zM23 58h1v1h-1zM50 58h1v1h-1zM58 58h1v1h-1zM4 59h1v1h-1zM46 59h1v1h-1zM46 60h1v1h-1zM57 60h1v1h-1zM45 61h1v1h-1zM48 61h1v1h-1zM52 61h1v1h-1zM41 62h1v1h-1zM49 62h1v1h-1zM14 65h1v1h-1zM60 67h1v1h-1zM21 68h1v1h-1zM23 68h1v1h-1zM44 68h1v1h-1zM66 68h1v1h-1zM0 70h1v1h-1zM53 71h1v1h-1zM0 72h1v1h-1zM12 72h1v1h-1zM48 73h1v1h-1zM15 74h1v1h-1zM22 74h1v1h-1zM4 75h1v1h-1zM26 75h1v1h-1zM41 75h1v1h-1zM22 77h1v1h-1zM30 77h1v1h-1zM41 77h1v1h-1zM0 78h1v1h-1zM49 78h1v1h-1zM49 81h1v1h-1zM0 83h1v1h-1zM19 83h1v1h-1zM49 83h1v1h-1zM9 84h1v1h-1zM52 84h1v1h-1zM20 85h1v1h-1zM23 86h1v1h-1zM64 86h1v1h-1zM6 87h1v1h-1zM15 87h1v1h-1zM55 87h2v1h-2zM64 87h1v1h-1zM9 88h1v1h-1zM13 92h1v1h-1zM20 93h1v1h-1zM51 93h1v1h-1zM55 94h1v1h-1zM64 94h1v1h-1zM0 95h1v1h-1zM46 95h1v1h-1zM58 96h1v1h-1zM7 98h2v1h-2zM5 102h1v1h-1zM12 103h1v1h-1zM62 103h1v1h-1zM65 105h1v1h-1zM60 106h1v1h-1zM63 106h1v1h-1zM17 108h1v1h-1zM62 111h1v1h-1zM12 113h1v1h-1zM5 114h1v1h-1zM62 114h1v1h-1zM58 115h1v1h-1zM11 116h1v1h-1zM2 117h1v1h-1zM18 117h1v1h-1zM48 117h1v1h-1zM10 120h1v1h-1zM64 121h2v1h-2zM2 122h1v1h-1zM46 124h1v1h-1zM55 124h1v1h-1zM46 125h1v1h-1zM65 125h2v1h-2zM13 127h1v1h-1zM18 127h1v1h-1zM49 127h1v1h-1zM55 127h1v1h-1zM8 128h2v1h-2zM10 130h1v1h-1zM2 133h1v1h-1zM13 133h1v1h-1zM45 133h1v1h-1zM19 134h1v1h-1zM0 135h1v1h-1zM10 135h1v1h-1zM13 135h1v1h-1zM60 135h1v1h-1zM60 136h1v1h-1zM6 137h1v1h-1zM15 137h1v1h-1zM65 138h1v1h-1zM0 139h1v1h-1zM62 139h1v1h-1zM9 140h1v1h-1zM65 141h1v1h-1zM62 142h1v1h-1zM7 143h1v1h-1zM62 144h1v1h-1zM63 146h1v1h-1zM60 147h1v1h-1zM63 147h1v1h-1zM2 148h1v1h-1zM8 148h1v1h-1zM55 151h1v1h-1zM1 152h1v1h-1zM44 152h1v1h-1zM0 153h1v1h-1zM45 153h1v1h-1zM60 154h1v1h-1zM65 155h1v1h-1zM17 158h1v1h-1zM17 160h1v1h-1z"/>
<path fill="#40c6ef" d="M24 9h1v1h-1zM42 9h1v1h-1zM17 10h1v1h-1zM38 13h2v1h-2zM34 14h1v1h-1zM29 17h1v1h-1zM37 20h1v1h-1zM26 22h1v1h-1zM26 23h1v1h-1zM42 23h1v1h-1zM40 27h1v1h-1zM22 29h1v1h-1zM5 30h1v1h-1zM18 30h1v1h-1zM51 30h1v1h-1zM66 30h1v1h-1zM42 32h1v1h-1zM29 33h1v1h-1zM37 35h1v1h-1zM37 36h1v1h-1zM41 36h1v1h-1zM44 36h1v1h-1zM20 38h1v1h-1zM44 38h1v1h-1zM55 40h1v1h-1zM51 41h1v1h-1zM9 42h1v1h-1zM16 42h1v1h-1zM29 43h1v1h-1zM15 44h1v1h-1zM43 44h1v1h-1zM48 44h1v1h-1zM26 45h1v1h-1zM30 45h1v1h-1zM37 46h1v1h-1zM45 46h1v1h-1zM18 47h1v1h-1zM26 52h1v1h-1zM46 52h1v1h-1zM6 53h1v1h-1zM14 53h1v1h-1zM29 53h1v1h-1zM30 55h1v1h-1zM30 57h1v1h-1zM41 57h1v1h-1zM44 57h2v1h-2zM49 58h1v1h-1zM12 61h1v1h-1zM54 61h1v1h-1zM38 62h1v1h-1zM57 62h1v1h-1zM25 65h1v1h-1zM57 65h1v1h-1zM0 66h1v1h-1zM50 68h1v1h-1zM53 68h1v1h-1zM61 68h1v1h-1zM0 69h1v1h-1zM55 70h1v1h-1zM23 71h1v1h-1zM15 72h1v1h-1zM53 72h1v1h-1zM57 72h1v1h-1zM41 73h1v1h-1zM43 73h1v1h-1zM6 74h1v1h-1zM37 76h1v1h-1zM45 76h1v1h-1zM20 77h1v1h-1zM44 77h1v1h-1zM6 78h1v1h-1zM12 78h1v1h-1zM20 78h1v1h-1zM9 79h1v1h-1zM17 80h1v1h-1zM58 80h1v1h-1zM0 82h1v1h-1zM23 82h1v1h-1zM45 82h1v1h-1zM51 82h1v1h-1zM44 83h1v1h-1zM60 83h1v1h-1zM60 86h1v1h-1zM65 86h1v1h-1zM46 88h1v1h-1zM0 93h1v1h-1zM46 94h1v1h-1zM53 94h1v1h-1zM58 94h1v1h-1zM60 94h1v1h-1zM65 94h2v1h-2zM59 95h1v1h-1zM13 96h1v1h-1zM10 97h1v1h-1zM9 98h1v1h-1zM46 98h1v1h-1zM9 99h1v1h-1zM1 102h1v1h-1zM7 102h1v1h-1zM55 103h1v1h-1zM46 104h2v1h-2zM63 104h1v1h-1zM0 105h1v1h-1zM10 105h1v1h-1zM20 105h1v1h-1zM0 106h1v1h-1zM13 107h1v1h-1zM15 107h1v1h-1zM54 107h2v1h-2zM0 108h1v1h-1zM55 111h1v1h-1zM10 112h1v1h-1zM11 113h1v1h-1zM17 113h1v1h-1zM12 114h2v1h-2zM47 114h1v1h-1zM55 114h1v1h-1zM0 115h1v1h-1zM3 115h1v1h-1zM46 115h1v1h-1zM65 115h1v1h-1zM63 116h1v1h-1zM9 117h2v1h-2zM12 117h1v1h-1zM1 118h1v1h-1zM59 122h1v1h-1zM0 123h1v1h-1zM45 123h1v1h-1zM65 123h1v1h-1zM10 124h1v1h-1zM12 124h1v1h-1zM47 124h1v1h-1zM58 124h1v1h-1zM62 125h1v1h-1zM0 126h1v1h-1zM46 126h1v1h-1zM65 126h1v1h-1zM6 127h1v1h-1zM17 127h1v1h-1zM53 127h1v1h-1zM65 127h1v1h-1zM5 134h1v1h-1zM7 134h1v1h-1zM49 134h1v1h-1zM64 134h1v1h-1zM54 135h2v1h-2zM15 136h1v1h-1zM46 137h1v1h-1zM1 138h2v1h-2zM4 139h1v1h-1zM10 140h1v1h-1zM44 140h1v1h-1zM44 142h1v1h-1zM62 143h1v1h-1zM10 144h1v1h-1zM66 146h1v1h-1zM2 147h1v1h-1zM53 147h1v1h-1zM5 152h1v1h-1zM48 152h1v1h-1zM7 153h1v1h-1zM12 154h1v1h-1zM9 155h1v1h-1zM13 155h1v1h-1zM46 155h1v1h-1zM61 155h1v1h-1zM48 156h2v1h-2zM9 157h1v1h-1zM49 157h1v1h-1zM62 157h1v1h-1zM8 158h1v1h-1zM54 158h1v1h-1z"/>
<path fill="#3c7ec2" d="M25 9h1v1h-1zM25 10h1v1h-1zM29 10h1v1h-1zM35 10h1v1h-1zM27 11h1v1h-1zM32 14h1v1h-1zM34 16h1v1h-1zM39 19h1v1h-1zM32 23h1v1h-1zM38 24h1v1h-1zM42 25h1v1h-1zM20 30h1v1h-1zM28 35h1v1h-1zM42 37h1v1h-1zM25 38h1v1h-1zM45 38h1v1h-1zM53 39h1v1h-1zM56 40h1v1h-1zM30 42h1v1h-1zM27 43h1v1h-1zM30 43h1v1h-1zM59 43h1v1h-1zM36 44h1v1h-1zM48 48h1v1h-1zM0 49h1v1h-1zM43 49h1v1h-1zM13 50h1v1h-1zM64 50h1v1h-1zM16 51h1v1h-1zM20 51h1v1h-1zM24 51h1v1h-1zM21 52h1v1h-1zM38 53h1v1h-1zM27 54h1v1h-1zM43 55h1v1h-1zM47 57h1v1h-1zM11 58h1v1h-1zM38 58h1v1h-1zM42 58h1v1h-1zM15 59h1v1h-1zM37 60h1v1h-1zM45 60h1v1h-1zM47 60h1v1h-1zM15 63h1v1h-1zM29 65h1v1h-1zM29 66h1v1h-1zM59 70h1v1h-1zM20 71h1v1h-1zM38 73h1v1h-1zM37 75h1v1h-1zM44 76h1v1h-1zM11 78h1v1h-1zM41 78h1v1h-1zM58 78h1v1h-1zM0 79h1v1h-1zM59 79h1v1h-1zM19 80h1v1h-1zM11 81h1v1h-1zM23 81h1v1h-1zM46 81h1v1h-1zM60 81h1v1h-1zM6 83h1v1h-1zM9 83h1v1h-1zM21 86h1v1h-1zM44 87h1v1h-1zM57 87h1v1h-1zM66 87h1v1h-1zM56 88h1v1h-1zM0 90h1v1h-1zM4 90h1v1h-1zM9 91h1v1h-1zM59 91h1v1h-1zM12 92h1v1h-1zM41 92h1v1h-1zM7 93h2v1h-2zM8 94h1v1h-1zM14 94h1v1h-1zM14 95h1v1h-1zM0 98h1v1h-1zM59 98h1v1h-1zM13 99h1v1h-1zM44 99h1v1h-1zM3 100h1v1h-1zM12 101h1v1h-1zM56 101h1v1h-1zM41 102h1v1h-1zM45 102h1v1h-1zM59 102h1v1h-1zM41 103h1v1h-1zM18 104h1v1h-1zM8 106h1v1h-1zM10 106h1v1h-1zM21 106h1v1h-1zM19 108h1v1h-1zM19 111h1v1h-1zM60 112h1v1h-1zM25 113h1v1h-1zM18 114h1v1h-1zM15 115h1v1h-1zM30 115h1v1h-1zM51 115h1v1h-1zM23 116h1v1h-1zM45 117h1v1h-1zM57 117h1v1h-1zM60 117h1v1h-1zM64 117h1v1h-1zM9 118h1v1h-1zM64 118h1v1h-1zM9 120h1v1h-1zM59 121h1v1h-1zM23 122h1v1h-1zM46 122h1v1h-1zM57 123h1v1h-1zM9 124h1v1h-1zM50 124h1v1h-1zM6 125h1v1h-1zM45 125h1v1h-1zM56 125h1v1h-1zM51 126h1v1h-1zM64 128h1v1h-1zM17 130h1v1h-1zM25 133h1v1h-1zM51 133h1v1h-1zM56 134h1v1h-1zM12 137h1v1h-1zM63 138h1v1h-1zM2 140h1v1h-1zM58 140h1v1h-1zM2 141h1v1h-1zM11 142h1v1h-1zM55 143h1v1h-1zM8 144h1v1h-1zM45 144h1v1h-1zM54 144h1v1h-1zM19 145h1v1h-1zM20 146h1v1h-1zM41 146h1v1h-1zM59 147h1v1h-1zM0 148h1v1h-1zM13 148h1v1h-1zM44 150h1v1h-1zM0 151h1v1h-1zM60 151h1v1h-1zM60 152h1v1h-1zM55 153h1v1h-1zM66 154h1v1h-1zM15 155h1v1h-1zM19 155h1v1h-1zM60 155h1v1h-1zM50 156h1v1h-1zM15 157h1v1h-1zM56 157h1v1h-1z"/>
<path fill="#51c7ea" d="M26 9h1v1h-1zM35 9h1v1h-1zM38 9h1v1h-1zM54 10h1v1h-1zM39 12h1v1h-1zM39 15h1v1h-1zM26 16h1v1h-1zM39 18h1v1h-1zM26 19h1v1h-1zM41 19h1v1h-1zM38 23h1v1h-1zM54 23h1v1h-1zM21 24h1v1h-1zM29 24h1v1h-1zM47 27h1v1h-1zM6 29h1v1h-1zM56 30h1v1h-1zM24 31h1v1h-1zM23 33h1v1h-1zM48 34h1v1h-1zM25 36h1v1h-1zM16 37h1v1h-1zM45 37h1v1h-1zM52 38h1v1h-1zM2 41h1v1h-1zM12 41h1v1h-1zM46 41h1v1h-1zM13 42h1v1h-1zM23 42h1v1h-1zM38 42h1v1h-1zM49 42h1v1h-1zM64 42h1v1h-1zM23 44h1v1h-1zM41 44h1v1h-1zM14 45h1v1h-1zM22 45h1v1h-1zM30 46h1v1h-1zM21 47h1v1h-1zM45 47h1v1h-1zM12 48h1v1h-1zM43 48h1v1h-1zM8 49h1v1h-1zM18 51h1v1h-1zM60 51h1v1h-1zM63 51h1v1h-1zM15 52h1v1h-1zM45 52h1v1h-1zM53 52h1v1h-1zM57 52h1v1h-1zM23 53h1v1h-1zM49 53h1v1h-1zM57 55h1v1h-1zM30 56h1v1h-1zM11 57h1v1h-1zM66 58h1v1h-1zM53 59h1v1h-1zM9 60h1v1h-1zM19 60h1v1h-1zM51 60h1v1h-1zM9 61h1v1h-1zM21 61h1v1h-1zM49 61h1v1h-1zM0 62h1v1h-1zM16 64h1v1h-1zM29 64h1v1h-1zM23 65h1v1h-1zM66 65h1v1h-1zM19 68h1v1h-1zM2 69h1v1h-1zM45 72h1v1h-1zM26 73h1v1h-1zM47 73h1v1h-1zM49 73h1v1h-1zM25 74h1v1h-1zM0 76h1v1h-1zM19 77h1v1h-1zM15 78h1v1h-1zM56 78h1v1h-1zM58 81h1v1h-1zM62 81h1v1h-1zM7 82h1v1h-1zM8 83h1v1h-1zM12 83h1v1h-1zM5 84h1v1h-1zM45 84h1v1h-1zM60 87h1v1h-1zM5 88h1v1h-1zM64 91h1v1h-1zM62 92h1v1h-1zM10 93h1v1h-1zM62 94h1v1h-1zM13 95h1v1h-1zM47 95h1v1h-1zM50 95h1v1h-1zM54 97h1v1h-1zM63 97h1v1h-1zM65 97h1v1h-1zM56 103h1v1h-1zM65 106h1v1h-1zM6 107h1v1h-1zM53 107h1v1h-1zM8 108h1v1h-1zM62 108h1v1h-1zM65 111h1v1h-1zM62 112h1v1h-1zM10 113h1v1h-1zM7 114h1v1h-1zM49 114h1v1h-1zM13 115h1v1h-1zM18 115h1v1h-1zM17 116h1v1h-1zM8 117h1v1h-1zM8 118h1v1h-1zM62 118h1v1h-1zM10 121h1v1h-1zM44 122h1v1h-1zM2 123h1v1h-1zM17 123h1v1h-1zM2 124h1v1h-1zM9 125h1v1h-1zM53 125h1v1h-1zM18 126h1v1h-1zM53 126h1v1h-1zM8 127h1v1h-1zM62 128h1v1h-1zM65 131h1v1h-1zM12 134h1v1h-1zM62 134h2v1h-2zM66 136h1v1h-1zM17 140h1v1h-1zM17 142h1v1h-1zM45 143h1v1h-1zM58 144h1v1h-1zM65 144h1v1h-1zM7 145h1v1h-1zM53 145h1v1h-1zM9 146h1v1h-1zM55 146h1v1h-1zM0 147h1v1h-1zM13 147h1v1h-1zM46 147h1v1h-1zM48 147h1v1h-1zM66 153h1v1h-1zM3 154h1v1h-1zM11 155h2v1h-2zM7 156h1v1h-1zM8 157h1v1h-1zM2 158h1v1h-1z"/>
<path fill="#389ad6" d="M27 9h1v1h-1zM29 11h1v1h-1zM39 11h1v1h-1zM28 14h1v1h-1zM40 19h1v1h-1zM31 23h1v1h-1zM40 25h1v1h-1zM26 26h1v1h-1zM8 30h1v1h-1zM60 30h2v1h-2zM36 32h1v1h-1zM21 33h1v1h-1zM27 36h1v1h-1zM43 37h1v1h-1zM23 38h1v1h-1zM48 38h1v1h-1zM44 39h1v1h-1zM63 39h1v1h-1zM53 40h1v1h-1zM65 40h1v1h-1zM11 41h1v1h-1zM15 41h1v1h-1zM21 41h2v1h-2zM10 44h1v1h-1zM16 45h1v1h-1zM37 45h1v1h-1zM28 46h1v1h-1zM24 47h1v1h-1zM30 47h1v1h-1zM37 47h1v1h-1zM14 48h1v1h-1zM38 48h1v1h-1zM45 48h1v1h-1zM52 48h1v1h-1zM22 49h1v1h-1zM46 49h1v1h-1zM3 50h1v1h-1zM56 50h1v1h-1zM1 51h1v1h-1zM6 51h1v1h-1zM12 51h1v1h-1zM37 51h1v1h-1zM27 53h1v1h-1zM43 54h1v1h-1zM25 56h1v1h-1zM28 56h1v1h-1zM47 56h1v1h-1zM25 57h1v1h-1zM14 58h1v1h-1zM6 59h1v1h-1zM5 60h1v1h-1zM9 62h1v1h-1zM9 63h1v1h-1zM16 63h1v1h-1zM27 64h1v1h-1zM43 64h1v1h-1zM16 66h1v1h-1zM44 66h1v1h-1zM22 67h1v1h-1zM30 67h1v1h-1zM18 69h1v1h-1zM22 69h1v1h-1zM43 69h1v1h-1zM57 69h1v1h-1zM63 69h1v1h-1zM9 70h1v1h-1zM9 71h1v1h-1zM11 71h1v1h-1zM14 73h1v1h-1zM24 76h1v1h-1zM25 77h1v1h-1zM50 78h2v1h-2zM2 79h2v1h-2zM17 79h1v1h-1zM0 81h1v1h-1zM19 81h1v1h-1zM13 82h1v1h-1zM41 82h1v1h-1zM61 82h1v1h-1zM20 86h1v1h-1zM41 86h1v1h-1zM58 86h2v1h-2zM59 87h1v1h-1zM2 89h1v1h-1zM55 91h1v1h-1zM19 92h1v1h-1zM56 92h1v1h-1zM60 93h1v1h-1zM62 93h1v1h-1zM50 94h1v1h-1zM19 95h1v1h-1zM45 95h1v1h-1zM51 95h1v1h-1zM58 95h1v1h-1zM64 95h1v1h-1zM10 96h1v1h-1zM41 96h1v1h-1zM50 96h1v1h-1zM60 97h1v1h-1zM64 97h1v1h-1zM15 98h1v1h-1zM55 98h2v1h-2zM48 101h1v1h-1zM11 102h1v1h-1zM13 102h1v1h-1zM47 103h1v1h-1zM49 103h1v1h-1zM5 104h1v1h-1zM50 104h1v1h-1zM51 105h1v1h-1zM6 106h1v1h-1zM45 106h1v1h-1zM5 107h1v1h-1zM10 110h1v1h-1zM5 112h1v1h-1zM45 112h1v1h-1zM46 113h1v1h-1zM58 113h1v1h-1zM53 114h1v1h-1zM47 115h1v1h-1zM10 116h1v1h-1zM64 116h1v1h-1zM5 117h1v1h-1zM49 117h1v1h-1zM63 117h1v1h-1zM46 118h1v1h-1zM3 121h1v1h-1zM25 121h1v1h-1zM0 122h1v1h-1zM48 123h1v1h-1zM55 123h1v1h-1zM59 123h1v1h-1zM5 124h1v1h-1zM61 125h1v1h-1zM15 126h1v1h-1zM20 126h1v1h-1zM50 126h1v1h-1zM55 126h1v1h-1zM5 128h1v1h-1zM7 128h1v1h-1zM13 128h1v1h-1zM17 128h1v1h-1zM17 129h1v1h-1zM11 132h1v1h-1zM5 133h1v1h-1zM7 133h1v1h-1zM55 133h1v1h-1zM58 133h1v1h-1zM0 134h1v1h-1zM55 134h1v1h-1zM59 136h1v1h-1zM53 137h1v1h-1zM56 137h1v1h-1zM64 137h1v1h-1zM64 141h1v1h-1zM5 142h1v1h-1zM5 143h1v1h-1zM59 143h1v1h-1zM19 144h1v1h-1zM53 144h1v1h-1zM49 147h1v1h-1zM65 151h1v1h-1zM0 152h1v1h-1zM2 152h1v1h-1zM25 152h1v1h-1zM62 152h1v1h-1zM13 153h1v1h-1zM46 153h1v1h-1zM63 153h1v1h-1zM19 154h1v1h-1zM58 154h1v1h-1zM64 154h1v1h-1zM10 155h1v1h-1zM47 155h1v1h-1zM58 155h2v1h-2zM51 156h1v1h-1zM64 157h1v1h-1zM2 159h1v1h-1zM44 160h1v1h-1z"/>
<path fill="#3952a3" d="M29 9h1v1h-1zM31 20h1v1h-1zM37 29h1v1h-1zM48 30h1v1h-1zM7 39h1v1h-1zM31 47h1v1h-1zM39 48h1v1h-1zM52 49h1v1h-1zM42 55h1v1h-1zM35 56h1v1h-1zM39 58h1v1h-1zM28 59h1v1h-1zM48 60h1v1h-1zM39 68h1v1h-1zM24 69h1v1h-1zM61 69h1v1h-1zM14 70h1v1h-1zM28 73h1v1h-1zM6 79h1v1h-1zM5 80h1v1h-1zM51 80h1v1h-1zM14 81h1v1h-1zM56 83h2v1h-2zM65 85h1v1h-1zM24 86h1v1h-1zM61 88h1v1h-1zM11 89h1v1h-1zM37 91h1v1h-1zM16 92h1v1h-1zM37 92h1v1h-1zM42 93h1v1h-1zM39 94h1v1h-1zM22 95h1v1h-1zM16 97h1v1h-1zM37 97h1v1h-1zM66 99h1v1h-1zM6 100h1v1h-1zM41 100h1v1h-1zM16 101h1v1h-1zM50 101h1v1h-1zM14 106h1v1h-1zM16 106h1v1h-1zM27 107h1v1h-1zM43 108h1v1h-1zM50 108h2v1h-2zM63 108h1v1h-1zM18 109h1v1h-1zM46 109h1v1h-1zM56 109h1v1h-1zM46 110h1v1h-1zM56 110h1v1h-1zM50 111h1v1h-1zM40 114h1v1h-1zM29 115h1v1h-1zM16 116h1v1h-1zM47 117h1v1h-1zM43 118h1v1h-1zM66 118h1v1h-1zM1 119h1v1h-1zM46 120h1v1h-1zM6 121h1v1h-1zM38 121h1v1h-1zM57 121h1v1h-1zM54 122h1v1h-1zM22 126h1v1h-1zM24 126h1v1h-1zM47 127h1v1h-1zM58 128h1v1h-1zM54 129h1v1h-1zM20 131h1v1h-1zM41 131h1v1h-1zM43 131h1v1h-1zM38 132h1v1h-1zM54 132h1v1h-1zM23 133h2v1h-2zM43 133h1v1h-1zM23 134h1v1h-1zM36 135h1v1h-1zM20 139h1v1h-1zM5 140h1v1h-1zM51 140h1v1h-1zM16 141h1v1h-1zM40 141h1v1h-1zM38 143h1v1h-1zM15 144h1v1h-1zM23 145h1v1h-1zM39 145h1v1h-1zM25 146h1v1h-1zM37 146h1v1h-1zM41 148h1v1h-1zM45 148h1v1h-1zM8 149h1v1h-1zM13 150h1v1h-1zM56 150h1v1h-1zM53 151h1v1h-1zM52 152h1v1h-1zM40 156h1v1h-1zM50 157h1v1h-1zM58 158h1v1h-1zM5 159h1v1h-1zM56 159h1v1h-1zM21 160h1v1h-1zM45 160h1v1h-1z"/>
<path fill="#3b8acb" d="M30 9h1v1h-1zM32 9h1v1h-1zM38 10h1v1h-1zM22 11h1v1h-1zM35 11h1v1h-1zM35 16h1v1h-1zM26 20h1v1h-1zM36 21h1v1h-1zM39 22h1v1h-1zM28 25h1v1h-1zM21 29h1v1h-1zM24 30h1v1h-1zM22 31h1v1h-1zM38 33h1v1h-1zM28 34h1v1h-1zM36 35h1v1h-1zM26 38h1v1h-1zM38 41h1v1h-1zM15 43h1v1h-1zM37 44h1v1h-1zM43 45h1v1h-1zM14 46h1v1h-1zM16 47h1v1h-1zM13 49h1v1h-1zM53 49h1v1h-1zM65 49h1v1h-1zM19 50h1v1h-1zM24 52h1v1h-1zM27 56h1v1h-1zM43 57h1v1h-1zM48 58h1v1h-1zM51 58h1v1h-1zM7 61h1v1h-1zM13 61h1v1h-1zM15 61h2v1h-2zM38 63h1v1h-1zM21 64h1v1h-1zM36 64h1v1h-1zM14 66h1v1h-1zM24 66h1v1h-1zM37 67h2v1h-2zM49 68h1v1h-1zM4 69h1v1h-1zM3 70h2v1h-2zM13 71h1v1h-1zM46 71h1v1h-1zM40 72h1v1h-1zM24 73h1v1h-1zM11 74h1v1h-1zM27 74h1v1h-1zM43 74h1v1h-1zM29 75h1v1h-1zM26 76h1v1h-1zM39 76h1v1h-1zM47 76h1v1h-1zM26 77h1v1h-1zM62 79h1v1h-1zM56 81h1v1h-1zM53 82h1v1h-1zM57 82h1v1h-1zM22 83h1v1h-1zM54 83h1v1h-1zM8 84h1v1h-1zM25 84h1v1h-1zM48 84h1v1h-1zM19 85h1v1h-1zM23 85h1v1h-1zM51 86h1v1h-1zM3 89h1v1h-1zM58 92h1v1h-1zM48 93h1v1h-1zM58 93h2v1h-2zM63 93h1v1h-1zM5 95h1v1h-1zM20 96h1v1h-1zM56 96h1v1h-1zM55 97h1v1h-1zM57 97h1v1h-1zM59 97h1v1h-1zM66 97h1v1h-1zM19 98h1v1h-1zM48 98h1v1h-1zM62 100h1v1h-1zM65 100h1v1h-1zM58 101h2v1h-2zM49 102h1v1h-1zM58 103h2v1h-2zM61 103h1v1h-1zM51 104h1v1h-1zM19 105h1v1h-1zM56 107h2v1h-2zM61 107h1v1h-1zM15 108h1v1h-1zM64 108h1v1h-1zM17 109h1v1h-1zM17 110h1v1h-1zM1 111h1v1h-1zM59 111h1v1h-1zM46 112h1v1h-1zM59 112h1v1h-1zM19 113h1v1h-1zM45 114h1v1h-1zM59 116h1v1h-1zM20 123h1v1h-1zM44 123h1v1h-1zM18 124h1v1h-1zM45 124h1v1h-1zM10 126h1v1h-1zM59 126h1v1h-1zM61 126h1v1h-1zM12 127h1v1h-1zM0 131h1v1h-1zM5 132h1v1h-1zM20 133h1v1h-1zM46 133h1v1h-1zM56 133h1v1h-1zM18 134h1v1h-1zM50 134h1v1h-1zM61 134h1v1h-1zM66 134h1v1h-1zM51 135h1v1h-1zM56 135h1v1h-1zM51 136h1v1h-1zM46 139h1v1h-1zM60 141h1v1h-1zM13 142h1v1h-1zM48 143h1v1h-1zM58 143h1v1h-1zM15 146h1v1h-1zM59 146h1v1h-1zM5 147h1v1h-1zM54 147h1v1h-1zM1 148h1v1h-1zM9 148h1v1h-1zM54 148h1v1h-1zM44 153h1v1h-1zM59 154h1v1h-1zM61 154h1v1h-1zM0 156h1v1h-1zM10 156h1v1h-1zM56 156h1v1h-1zM0 157h1v1h-1zM65 157h1v1h-1zM7 158h1v1h-1z"/>
<path fill="#3a8fcf" d="M31 9h1v1h-1zM34 11h1v1h-1zM34 13h1v1h-1zM27 15h1v1h-1zM29 15h1v1h-1zM37 16h1v1h-1zM39 17h1v1h-1zM25 19h1v1h-1zM36 19h1v1h-1zM42 20h1v1h-1zM37 22h1v1h-1zM26 24h1v1h-1zM26 25h1v1h-1zM29 25h1v1h-1zM37 25h1v1h-1zM35 26h1v1h-1zM37 26h1v1h-1zM16 29h1v1h-1zM44 29h1v1h-1zM13 30h1v1h-1zM47 30h1v1h-1zM37 31h1v1h-1zM37 33h1v1h-1zM42 33h1v1h-1zM40 34h1v1h-1zM43 35h1v1h-1zM39 36h2v1h-2zM14 37h1v1h-1zM24 37h1v1h-1zM5 39h1v1h-1zM18 39h1v1h-1zM55 39h1v1h-1zM62 40h1v1h-1zM13 41h1v1h-1zM61 41h1v1h-1zM21 42h1v1h-1zM37 42h1v1h-1zM38 43h1v1h-1zM27 44h1v1h-1zM22 46h1v1h-1zM58 48h1v1h-1zM5 49h1v1h-1zM62 49h1v1h-1zM55 50h1v1h-1zM62 50h1v1h-1zM11 51h1v1h-1zM21 51h1v1h-1zM54 51h1v1h-1zM37 52h1v1h-1zM42 52h1v1h-1zM47 52h1v1h-1zM15 53h1v1h-1zM29 55h1v1h-1zM14 56h1v1h-1zM24 56h1v1h-1zM51 59h1v1h-1zM64 59h1v1h-1zM1 60h1v1h-1zM64 60h1v1h-1zM38 61h1v1h-1zM47 62h1v1h-1zM24 63h1v1h-1zM44 64h1v1h-1zM22 65h1v1h-1zM37 65h1v1h-1zM47 66h1v1h-1zM43 67h1v1h-1zM26 68h1v1h-1zM8 69h1v1h-1zM16 72h1v1h-1zM44 74h1v1h-1zM21 77h1v1h-1zM43 77h1v1h-1zM44 78h1v1h-1zM8 79h1v1h-1zM21 79h1v1h-1zM3 81h1v1h-1zM9 81h1v1h-1zM15 82h1v1h-1zM26 82h1v1h-1zM16 84h1v1h-1zM5 85h1v1h-1zM51 85h1v1h-1zM5 87h1v1h-1zM12 88h1v1h-1zM18 88h1v1h-1zM2 91h1v1h-1zM11 92h1v1h-1zM22 92h1v1h-1zM47 93h1v1h-1zM56 93h1v1h-1zM48 94h1v1h-1zM59 94h1v1h-1zM55 96h1v1h-1zM45 97h1v1h-1zM59 100h1v1h-1zM5 101h1v1h-1zM60 102h1v1h-1zM5 103h1v1h-1zM48 103h1v1h-1zM14 104h1v1h-1zM53 104h1v1h-1zM6 105h1v1h-1zM50 105h1v1h-1zM20 106h1v1h-1zM51 106h1v1h-1zM58 106h1v1h-1zM45 107h1v1h-1zM7 108h1v1h-1zM13 108h1v1h-1zM55 108h1v1h-1zM64 111h1v1h-1zM7 112h1v1h-1zM41 113h1v1h-1zM54 114h1v1h-1zM56 114h1v1h-1zM59 115h2v1h-2zM20 116h1v1h-1zM66 117h1v1h-1zM17 119h1v1h-1zM11 122h1v1h-1zM12 123h1v1h-1zM46 123h1v1h-1zM49 123h1v1h-1zM8 124h1v1h-1zM54 124h1v1h-1zM0 125h1v1h-1zM7 125h1v1h-1zM47 125h1v1h-1zM65 128h1v1h-1zM7 132h1v1h-1zM0 133h1v1h-1zM62 133h1v1h-1zM54 134h1v1h-1zM59 135h1v1h-1zM66 135h1v1h-1zM45 136h1v1h-1zM0 137h1v1h-1zM63 137h1v1h-1zM49 138h1v1h-1zM10 141h1v1h-1zM25 141h1v1h-1zM58 141h1v1h-1zM2 142h1v1h-1zM0 143h1v1h-1zM51 143h1v1h-1zM66 144h1v1h-1zM6 145h1v1h-1zM58 145h1v1h-1zM60 145h1v1h-1zM10 147h1v1h-1zM46 148h1v1h-1zM3 151h1v1h-1zM10 151h1v1h-1zM64 151h1v1h-1zM11 152h1v1h-1zM5 153h1v1h-1zM58 153h1v1h-1zM54 154h1v1h-1zM8 156h1v1h-1zM45 156h1v1h-1zM58 156h1v1h-1zM63 156h1v1h-1zM12 157h1v1h-1zM63 157h1v1h-1zM55 158h1v1h-1zM17 159h1v1h-1z"/>
<path fill="#5ac8e8" d="M36 9h1v1h-1zM34 12h2v1h-2zM28 13h1v1h-1zM30 14h1v1h-1zM39 14h1v1h-1zM26 18h1v1h-1zM41 18h1v1h-1zM41 20h1v1h-1zM25 24h1v1h-1zM42 24h1v1h-1zM30 25h1v1h-1zM30 26h1v1h-1zM45 26h1v1h-1zM51 28h1v1h-1zM7 29h1v1h-1zM12 29h1v1h-1zM17 29h1v1h-1zM57 29h2v1h-2zM63 29h2v1h-2zM21 30h1v1h-1zM54 30h1v1h-1zM6 31h1v1h-1zM9 32h1v1h-1zM24 32h1v1h-1zM41 32h1v1h-1zM41 34h1v1h-1zM25 35h1v1h-1zM41 35h1v1h-1zM24 36h1v1h-1zM11 38h1v1h-1zM58 38h1v1h-1zM66 38h1v1h-1zM59 39h1v1h-1zM17 40h1v1h-1zM58 40h1v1h-1zM23 41h1v1h-1zM54 41h1v1h-1zM21 45h1v1h-1zM23 45h1v1h-1zM5 46h1v1h-1zM20 47h1v1h-1zM49 48h1v1h-1zM56 48h1v1h-1zM59 50h1v1h-1zM5 51h1v1h-1zM56 51h1v1h-1zM61 51h1v1h-1zM18 52h1v1h-1zM22 52h1v1h-1zM38 52h1v1h-1zM18 53h1v1h-1zM48 53h1v1h-1zM16 54h1v1h-1zM21 55h1v1h-1zM25 55h1v1h-1zM5 59h1v1h-1zM18 59h2v1h-2zM65 59h1v1h-1zM63 60h1v1h-1zM56 61h1v1h-1zM61 61h1v1h-1zM8 62h1v1h-1zM20 62h1v1h-1zM43 62h1v1h-1zM43 63h1v1h-1zM49 63h1v1h-1zM30 65h1v1h-1zM41 66h1v1h-1zM45 66h1v1h-1zM0 67h1v1h-1zM61 67h1v1h-1zM9 69h1v1h-1zM17 70h1v1h-1zM65 70h1v1h-1zM18 71h1v1h-1zM60 71h1v1h-1zM49 72h1v1h-1zM52 73h1v1h-1zM57 74h1v1h-1zM14 75h1v1h-1zM21 75h1v1h-1zM23 75h1v1h-1zM56 75h1v1h-1zM5 76h1v1h-1zM23 77h1v1h-1zM45 77h1v1h-1zM66 81h1v1h-1zM19 82h1v1h-1zM13 84h1v1h-1zM64 84h1v1h-1zM48 85h1v1h-1zM58 85h1v1h-1zM63 86h1v1h-1zM18 87h1v1h-1zM62 91h1v1h-1zM10 92h1v1h-1zM48 92h1v1h-1zM4 93h1v1h-1zM55 93h1v1h-1zM64 93h1v1h-1zM7 94h1v1h-1zM9 94h1v1h-1zM20 95h1v1h-1zM60 95h1v1h-1zM8 97h1v1h-1zM10 101h1v1h-1zM62 101h1v1h-1zM48 102h1v1h-1zM55 102h1v1h-1zM62 102h1v1h-1zM17 103h1v1h-1zM66 104h1v1h-1zM18 105h1v1h-1zM48 107h1v1h-1zM44 112h1v1h-1zM17 114h1v1h-1zM20 114h1v1h-1zM58 114h1v1h-1zM9 115h1v1h-1zM12 115h1v1h-1zM55 115h1v1h-1zM49 116h1v1h-1zM66 116h1v1h-1zM46 117h1v1h-1zM17 121h1v1h-1zM48 122h1v1h-1zM62 122h1v1h-1zM4 123h1v1h-1zM11 123h1v1h-1zM66 123h1v1h-1zM3 124h1v1h-1zM7 124h1v1h-1zM13 126h1v1h-1zM25 132h1v1h-1zM48 132h1v1h-1zM65 133h1v1h-1zM45 134h2v1h-2zM18 136h1v1h-1zM54 136h1v1h-1zM3 141h1v1h-1zM25 142h1v1h-1zM4 144h1v1h-1zM17 146h1v1h-1zM46 146h1v1h-1zM48 146h2v1h-2zM53 146h1v1h-1zM60 146h1v1h-1zM62 146h1v1h-1zM7 147h1v1h-1zM15 147h1v1h-1zM62 147h1v1h-1zM4 154h1v1h-1zM7 154h1v1h-1zM48 157h1v1h-1zM54 157h1v1h-1zM10 160h1v1h-1z"/>
<path fill="#33afe5" d="M37 9h1v1h-1zM40 9h1v1h-1zM47 10h1v1h-1zM37 11h1v1h-1zM34 15h1v1h-1zM32 16h1v1h-1zM35 17h1v1h-1zM28 24h1v1h-1zM43 25h1v1h-1zM14 31h1v1h-1zM41 31h1v1h-1zM30 32h1v1h-1zM36 33h1v1h-1zM27 34h1v1h-1zM29 35h1v1h-1zM39 35h1v1h-1zM38 36h1v1h-1zM14 38h1v1h-1zM8 39h1v1h-1zM0 40h1v1h-1zM2 40h1v1h-1zM7 41h1v1h-1zM47 42h1v1h-1zM16 46h1v1h-1zM22 47h1v1h-1zM23 48h1v1h-1zM61 48h1v1h-1zM18 50h1v1h-1zM41 51h1v1h-1zM46 51h1v1h-1zM57 51h1v1h-1zM24 53h1v1h-1zM41 53h1v1h-1zM15 54h1v1h-1zM37 55h1v1h-1zM23 59h1v1h-1zM23 60h1v1h-1zM60 60h1v1h-1zM37 62h1v1h-1zM14 63h1v1h-1zM41 63h1v1h-1zM16 65h1v1h-1zM26 65h1v1h-1zM39 65h1v1h-1zM45 65h1v1h-1zM26 66h1v1h-1zM28 66h1v1h-1zM26 67h1v1h-1zM17 69h1v1h-1zM59 69h1v1h-1zM6 71h2v1h-2zM9 72h1v1h-1zM9 73h1v1h-1zM16 73h1v1h-1zM16 75h1v1h-1zM25 76h1v1h-1zM60 78h1v1h-1zM51 81h1v1h-1zM47 83h1v1h-1zM64 85h1v1h-1zM45 86h1v1h-1zM65 88h1v1h-1zM25 91h1v1h-1zM61 92h1v1h-1zM63 92h1v1h-1zM61 93h1v1h-1zM20 94h1v1h-1zM10 95h1v1h-1zM30 96h1v1h-1zM61 96h1v1h-1zM0 97h1v1h-1zM11 97h1v1h-1zM53 97h1v1h-1zM63 98h1v1h-1zM0 99h1v1h-1zM1 100h1v1h-1zM58 100h1v1h-1zM66 101h1v1h-1zM0 102h1v1h-1zM2 102h1v1h-1zM7 103h1v1h-1zM60 103h1v1h-1zM19 104h1v1h-1zM56 104h1v1h-1zM65 104h1v1h-1zM30 105h1v1h-1zM0 107h1v1h-1zM63 107h1v1h-1zM5 108h1v1h-1zM9 108h1v1h-1zM3 111h1v1h-1zM13 112h1v1h-1zM19 112h1v1h-1zM5 113h1v1h-1zM60 114h2v1h-2zM64 114h1v1h-1zM61 115h1v1h-1zM2 118h1v1h-1zM55 118h1v1h-1zM55 121h1v1h-1zM62 121h1v1h-1zM63 123h1v1h-1zM13 124h1v1h-1zM53 124h1v1h-1zM13 125h1v1h-1zM60 125h1v1h-1zM11 126h1v1h-1zM15 127h1v1h-1zM3 131h1v1h-1zM25 131h1v1h-1zM64 131h1v1h-1zM53 134h1v1h-1zM9 135h1v1h-1zM20 135h1v1h-1zM47 135h2v1h-2zM50 135h1v1h-1zM13 137h1v1h-1zM60 137h1v1h-1zM7 138h1v1h-1zM62 140h1v1h-1zM66 143h1v1h-1zM47 144h1v1h-1zM64 145h1v1h-1zM66 145h1v1h-1zM0 146h1v1h-1zM6 147h1v1h-1zM12 147h1v1h-1zM55 147h1v1h-1zM0 154h1v1h-1zM2 154h1v1h-1zM20 154h1v1h-1zM45 154h1v1h-1zM55 154h1v1h-1zM50 155h1v1h-1zM63 155h1v1h-1zM17 156h1v1h-1zM2 157h1v1h-1zM6 157h1v1h-1zM53 157h1v1h-1zM1 158h1v1h-1zM9 158h1v1h-1z"/>
<path fill="#3b84c6" d="M39 9h1v1h-1zM27 10h1v1h-1zM39 10h1v1h-1zM29 12h1v1h-1zM32 13h1v1h-1zM42 13h1v1h-1zM29 14h1v1h-1zM38 15h1v1h-1zM37 17h1v1h-1zM28 19h1v1h-1zM27 22h1v1h-1zM28 23h1v1h-1zM35 24h1v1h-1zM37 24h1v1h-1zM27 26h1v1h-1zM38 27h1v1h-1zM38 28h1v1h-1zM40 31h1v1h-1zM29 32h1v1h-1zM39 32h1v1h-1zM30 33h1v1h-1zM39 33h1v1h-1zM30 34h1v1h-1zM37 34h1v1h-1zM13 39h1v1h-1zM62 39h1v1h-1zM20 41h1v1h-1zM24 41h1v1h-1zM48 41h1v1h-1zM21 44h1v1h-1zM44 45h1v1h-1zM25 46h1v1h-1zM27 46h1v1h-1zM39 46h1v1h-1zM12 49h1v1h-1zM50 49h1v1h-1zM58 49h1v1h-1zM65 50h1v1h-1zM52 51h1v1h-1zM9 52h1v1h-1zM36 54h1v1h-1zM44 55h1v1h-1zM26 56h1v1h-1zM14 57h1v1h-1zM45 59h1v1h-1zM43 60h1v1h-1zM20 61h1v1h-1zM26 61h1v1h-1zM16 62h1v1h-1zM15 64h1v1h-1zM30 64h1v1h-1zM43 65h1v1h-1zM25 66h1v1h-1zM14 67h1v1h-1zM24 67h1v1h-1zM46 69h1v1h-1zM55 69h1v1h-1zM65 69h1v1h-1zM23 70h1v1h-1zM56 70h1v1h-1zM8 71h1v1h-1zM22 71h1v1h-1zM38 71h1v1h-1zM17 72h1v1h-1zM11 73h1v1h-1zM36 73h1v1h-1zM22 75h1v1h-1zM43 75h1v1h-1zM14 76h1v1h-1zM52 78h1v1h-1zM9 80h1v1h-1zM63 81h1v1h-1zM18 82h1v1h-1zM20 82h1v1h-1zM40 82h1v1h-1zM50 83h1v1h-1zM53 83h1v1h-1zM6 84h1v1h-1zM25 85h1v1h-1zM15 88h1v1h-1zM19 88h1v1h-1zM17 89h1v1h-1zM49 91h1v1h-1zM12 93h1v1h-1zM26 93h1v1h-1zM46 93h1v1h-1zM18 94h1v1h-1zM41 95h1v1h-1zM56 95h1v1h-1zM61 97h1v1h-1zM18 98h1v1h-1zM53 98h1v1h-1zM60 98h1v1h-1zM64 98h1v1h-1zM1 101h1v1h-1zM49 101h1v1h-1zM60 101h1v1h-1zM12 102h1v1h-1zM19 103h1v1h-1zM53 103h1v1h-1zM41 104h1v1h-1zM54 104h2v1h-2zM24 105h1v1h-1zM47 105h1v1h-1zM30 106h1v1h-1zM41 106h1v1h-1zM59 106h1v1h-1zM20 107h1v1h-1zM0 110h1v1h-1zM8 113h1v1h-1zM47 113h1v1h-1zM51 113h1v1h-1zM66 114h1v1h-1zM5 115h1v1h-1zM45 115h1v1h-1zM50 115h1v1h-1zM8 116h1v1h-1zM45 116h1v1h-1zM0 117h1v1h-1zM56 117h1v1h-1zM44 120h1v1h-1zM22 123h1v1h-1zM58 123h1v1h-1zM19 124h1v1h-1zM51 125h1v1h-1zM64 125h1v1h-1zM64 127h1v1h-1zM46 128h1v1h-1zM65 134h1v1h-1zM46 135h1v1h-1zM23 136h1v1h-1zM50 136h1v1h-1zM45 137h1v1h-1zM54 138h2v1h-2zM57 138h1v1h-1zM59 138h1v1h-1zM1 141h1v1h-1zM66 141h1v1h-1zM7 142h1v1h-1zM59 142h1v1h-1zM12 143h1v1h-1zM56 143h1v1h-1zM41 144h1v1h-1zM55 144h1v1h-1zM61 144h1v1h-1zM0 145h1v1h-1zM20 145h1v1h-1zM47 145h1v1h-1zM65 145h1v1h-1zM23 146h1v1h-1zM30 146h1v1h-1zM50 146h1v1h-1zM58 146h1v1h-1zM64 147h1v1h-1zM66 147h1v1h-1zM17 148h1v1h-1zM7 152h1v1h-1zM12 153h1v1h-1zM20 153h1v1h-1zM62 153h1v1h-1zM9 154h1v1h-1zM51 154h1v1h-1zM15 156h1v1h-1zM61 156h1v1h-1zM51 157h1v1h-1zM59 157h1v1h-1zM0 159h1v1h-1zM54 159h1v1h-1zM62 159h1v1h-1z"/>
<path fill="#3d74b9" d="M41 9h1v1h-1zM42 10h1v1h-1zM31 13h1v1h-1zM37 13h1v1h-1zM31 15h1v1h-1zM27 18h1v1h-1zM31 18h1v1h-1zM36 18h1v1h-1zM35 23h1v1h-1zM25 28h2v1h-2zM30 28h1v1h-1zM14 30h1v1h-1zM42 31h1v1h-1zM27 32h1v1h-1zM28 33h1v1h-1zM29 37h1v1h-1zM39 37h2v1h-2zM13 40h1v1h-1zM46 40h1v1h-1zM39 43h1v1h-1zM29 45h1v1h-1zM43 46h1v1h-1zM29 47h1v1h-1zM63 50h1v1h-1zM22 51h1v1h-1zM21 54h1v1h-1zM40 56h1v1h-1zM38 57h1v1h-1zM37 59h1v1h-1zM6 60h1v1h-1zM40 61h1v1h-1zM47 61h1v1h-1zM24 62h1v1h-1zM42 62h1v1h-1zM36 63h1v1h-1zM44 65h1v1h-1zM27 66h1v1h-1zM16 67h1v1h-1zM25 68h1v1h-1zM38 68h1v1h-1zM53 69h1v1h-1zM12 70h1v1h-1zM21 70h1v1h-1zM12 71h1v1h-1zM15 71h1v1h-1zM39 72h1v1h-1zM44 75h2v1h-2zM40 76h1v1h-1zM38 78h1v1h-1zM66 78h1v1h-1zM18 79h1v1h-1zM62 80h1v1h-1zM48 81h1v1h-1zM61 81h1v1h-1zM18 83h1v1h-1zM24 83h1v1h-1zM43 83h1v1h-1zM58 87h1v1h-1zM59 88h1v1h-1zM63 88h1v1h-1zM18 91h2v1h-2zM48 91h1v1h-1zM18 92h1v1h-1zM52 94h1v1h-1zM44 97h1v1h-1zM62 97h1v1h-1zM54 99h2v1h-2zM56 102h1v1h-1zM25 103h1v1h-1zM44 103h1v1h-1zM41 105h1v1h-1zM19 107h1v1h-1zM30 107h1v1h-1zM48 108h1v1h-1zM59 108h1v1h-1zM4 110h1v1h-1zM2 111h1v1h-1zM48 111h1v1h-1zM58 111h1v1h-1zM20 113h1v1h-1zM60 113h1v1h-1zM6 115h1v1h-1zM14 115h1v1h-1zM30 116h1v1h-1zM51 116h1v1h-1zM58 116h1v1h-1zM0 118h1v1h-1zM59 118h1v1h-1zM63 122h1v1h-1zM25 123h1v1h-1zM15 125h1v1h-1zM19 125h1v1h-1zM0 128h1v1h-1zM9 130h1v1h-1zM59 131h1v1h-1zM66 131h1v1h-1zM41 132h1v1h-1zM46 132h1v1h-1zM56 132h1v1h-1zM59 134h1v1h-1zM41 135h1v1h-1zM20 136h1v1h-1zM58 136h1v1h-1zM61 137h1v1h-1zM6 138h1v1h-1zM12 138h1v1h-1zM15 138h1v1h-1zM18 138h1v1h-1zM21 139h1v1h-1zM56 141h1v1h-1zM59 141h1v1h-1zM47 143h1v1h-1zM50 144h1v1h-1zM56 144h1v1h-1zM51 146h1v1h-1zM5 148h1v1h-1zM7 148h1v1h-1zM56 148h1v1h-1zM63 148h1v1h-1zM13 152h1v1h-1zM19 153h1v1h-1zM22 153h1v1h-1zM51 153h1v1h-1zM57 154h1v1h-1zM5 157h1v1h-1zM45 157h1v1h-1zM0 158h1v1h-1zM56 158h1v1h-1zM65 158h1v1h-1z"/>
<path fill="#5ec8e6" d="M8 10h1v1h-1zM37 15h1v1h-1zM27 16h1v1h-1zM38 16h1v1h-1zM24 20h1v1h-1zM40 26h1v1h-1zM26 27h1v1h-1zM44 27h1v1h-1zM62 29h1v1h-1zM64 30h2v1h-2zM13 31h1v1h-1zM16 31h1v1h-1zM46 31h1v1h-1zM20 32h1v1h-1zM40 32h1v1h-1zM43 33h1v1h-1zM29 34h1v1h-1zM44 34h1v1h-1zM16 35h1v1h-1zM14 36h1v1h-1zM22 36h1v1h-1zM25 37h1v1h-1zM43 38h1v1h-1zM44 40h1v1h-1zM53 41h1v1h-1zM0 42h1v1h-1zM46 42h1v1h-1zM54 42h1v1h-1zM43 43h1v1h-1zM53 43h1v1h-1zM22 44h1v1h-1zM25 44h1v1h-1zM57 44h1v1h-1zM19 46h1v1h-1zM54 49h1v1h-1zM2 51h1v1h-1zM50 51h1v1h-1zM41 52h1v1h-1zM9 53h1v1h-1zM43 53h1v1h-1zM47 53h1v1h-1zM26 54h1v1h-1zM19 57h1v1h-1zM22 57h1v1h-1zM0 58h1v1h-1zM63 59h1v1h-1zM2 60h1v1h-1zM21 60h1v1h-1zM53 60h1v1h-1zM0 61h1v1h-1zM53 61h1v1h-1zM23 62h1v1h-1zM52 62h1v1h-1zM56 62h1v1h-1zM58 62h1v1h-1zM26 63h1v1h-1zM48 63h1v1h-1zM0 64h1v1h-1zM24 64h1v1h-1zM5 65h1v1h-1zM41 65h1v1h-1zM19 66h1v1h-1zM6 68h2v1h-2zM1 71h1v1h-1zM5 71h1v1h-1zM19 72h1v1h-1zM56 72h1v1h-1zM6 73h1v1h-1zM46 73h1v1h-1zM9 74h1v1h-1zM14 74h1v1h-1zM24 74h1v1h-1zM0 75h1v1h-1zM47 75h1v1h-1zM51 77h2v1h-2zM64 78h1v1h-1zM62 82h1v1h-1zM5 83h1v1h-1zM46 83h1v1h-1zM63 83h1v1h-1zM20 84h1v1h-1zM66 84h1v1h-1zM10 85h1v1h-1zM18 85h1v1h-1zM61 85h1v1h-1zM0 87h1v1h-1zM10 90h1v1h-1zM65 91h1v1h-1zM55 92h1v1h-1zM11 93h1v1h-1zM6 96h1v1h-1zM2 98h1v1h-1zM64 102h1v1h-1zM66 102h1v1h-1zM13 103h1v1h-1zM12 104h1v1h-1zM55 105h1v1h-1zM62 105h1v1h-1zM11 106h1v1h-1zM49 106h1v1h-1zM18 107h1v1h-1zM49 107h1v1h-1zM48 112h1v1h-1zM66 112h1v1h-1zM13 113h1v1h-1zM64 113h1v1h-1zM7 115h1v1h-1zM46 116h1v1h-1zM54 116h1v1h-1zM7 122h1v1h-1zM17 122h1v1h-1zM64 122h1v1h-1zM6 126h2v1h-2zM49 126h1v1h-1zM48 127h1v1h-1zM10 129h1v1h-1zM64 132h1v1h-1zM3 134h1v1h-1zM63 135h1v1h-1zM6 136h1v1h-1zM53 136h1v1h-1zM8 137h1v1h-1zM55 141h1v1h-1zM62 141h1v1h-1zM66 142h1v1h-1zM12 144h1v1h-1zM3 145h1v1h-1zM11 145h1v1h-1zM9 147h1v1h-1zM11 153h1v1h-1zM17 154h1v1h-1zM47 154h1v1h-1zM49 154h1v1h-1zM63 154h1v1h-1zM54 155h2v1h-2zM66 156h1v1h-1zM17 157h1v1h-1zM55 157h1v1h-1z"/>
<path fill="#49c6ed" d="M14 10h1v1h-1zM36 11h1v1h-1zM27 14h1v1h-1zM38 17h1v1h-1zM37 19h1v1h-1zM30 21h1v1h-1zM36 23h1v1h-1zM30 24h1v1h-1zM44 24h1v1h-1zM41 25h1v1h-1zM14 29h1v1h-1zM4 30h1v1h-1zM53 30h1v1h-1zM11 31h2v1h-2zM14 33h1v1h-1zM26 36h1v1h-1zM30 36h1v1h-1zM26 37h1v1h-1zM30 37h1v1h-1zM38 37h1v1h-1zM54 39h1v1h-1zM9 41h1v1h-1zM43 41h1v1h-1zM20 42h1v1h-1zM52 42h2v1h-2zM16 43h1v1h-1zM26 44h1v1h-1zM29 44h1v1h-1zM24 46h1v1h-1zM25 47h1v1h-1zM20 48h2v1h-2zM50 48h1v1h-1zM21 49h1v1h-1zM44 49h1v1h-1zM23 51h1v1h-1zM51 51h1v1h-1zM23 52h1v1h-1zM29 54h1v1h-1zM1 59h1v1h-1zM43 59h1v1h-1zM12 60h1v1h-1zM1 61h1v1h-1zM6 61h1v1h-1zM46 61h1v1h-1zM45 62h1v1h-1zM18 63h1v1h-1zM29 63h1v1h-1zM44 63h1v1h-1zM54 63h1v1h-1zM43 68h1v1h-1zM3 71h1v1h-1zM19 71h1v1h-1zM49 71h1v1h-1zM18 73h1v1h-1zM53 73h1v1h-1zM5 75h1v1h-1zM48 75h1v1h-1zM19 76h1v1h-1zM7 78h1v1h-1zM13 78h1v1h-1zM19 78h1v1h-1zM59 81h1v1h-1zM1 82h1v1h-1zM50 82h1v1h-1zM63 82h1v1h-1zM20 83h1v1h-1zM51 83h1v1h-1zM61 83h1v1h-1zM50 84h1v1h-1zM15 86h1v1h-1zM50 86h1v1h-1zM55 86h1v1h-1zM9 87h2v1h-2zM0 88h2v1h-2zM55 88h1v1h-1zM10 91h1v1h-1zM2 93h1v1h-1zM66 93h1v1h-1zM56 94h1v1h-1zM48 95h1v1h-1zM0 96h1v1h-1zM60 96h1v1h-1zM63 96h1v1h-1zM18 97h1v1h-1zM5 98h1v1h-1zM54 98h1v1h-1zM65 98h1v1h-1zM4 99h1v1h-1zM17 99h1v1h-1zM0 100h1v1h-1zM3 101h1v1h-1zM25 102h1v1h-1zM46 103h1v1h-1zM7 104h1v1h-1zM46 105h1v1h-1zM53 105h1v1h-1zM59 105h1v1h-1zM12 106h1v1h-1zM53 106h1v1h-1zM46 107h1v1h-1zM10 111h1v1h-1zM25 112h1v1h-1zM64 112h1v1h-1zM7 113h1v1h-1zM63 113h1v1h-1zM17 115h1v1h-1zM20 115h1v1h-1zM6 116h1v1h-1zM17 118h1v1h-1zM5 122h1v1h-1zM55 122h1v1h-1zM4 124h1v1h-1zM17 125h1v1h-1zM63 125h1v1h-1zM12 126h1v1h-1zM64 133h1v1h-1zM47 134h1v1h-1zM10 137h1v1h-1zM8 138h1v1h-1zM46 138h1v1h-1zM0 142h1v1h-1zM48 142h1v1h-1zM64 142h1v1h-1zM64 143h1v1h-1zM13 144h1v1h-1zM13 145h1v1h-1zM11 146h1v1h-1zM18 146h1v1h-1zM65 147h1v1h-1zM62 148h1v1h-1zM10 153h1v1h-1zM11 154h1v1h-1zM46 154h1v1h-1zM56 154h1v1h-1zM62 154h1v1h-1zM17 155h1v1h-1zM66 155h1v1h-1zM54 156h1v1h-1zM62 156h1v1h-1zM46 157h1v1h-1zM62 158h1v1h-1z"/>
<path fill="#64c8e0" d="M15 10h1v1h-1zM45 10h1v1h-1zM48 10h1v1h-1zM51 10h1v1h-1zM56 10h2v1h-2zM26 11h1v1h-1zM27 13h1v1h-1zM40 16h1v1h-1zM42 16h1v1h-1zM38 18h1v1h-1zM1 19h1v1h-1zM41 21h1v1h-1zM45 21h1v1h-1zM24 24h1v1h-1zM36 24h1v1h-1zM45 27h1v1h-1zM5 29h1v1h-1zM50 29h1v1h-1zM9 30h1v1h-1zM55 30h1v1h-1zM7 31h1v1h-1zM48 31h2v1h-2zM14 34h1v1h-1zM14 35h1v1h-1zM22 35h1v1h-1zM51 38h1v1h-1zM53 38h1v1h-1zM61 38h1v1h-1zM2 39h1v1h-1zM0 41h2v1h-2zM63 41h1v1h-1zM18 42h1v1h-1zM26 42h1v1h-1zM45 42h1v1h-1zM23 43h1v1h-1zM5 45h1v1h-1zM48 45h1v1h-1zM64 46h1v1h-1zM11 47h1v1h-1zM44 47h1v1h-1zM15 48h1v1h-1zM60 48h1v1h-1zM64 48h1v1h-1zM3 51h1v1h-1zM46 53h1v1h-1zM54 53h1v1h-1zM6 54h1v1h-1zM47 55h2v1h-2zM20 56h1v1h-1zM20 58h1v1h-1zM22 58h1v1h-1zM8 59h2v1h-2zM22 59h1v1h-1zM58 59h1v1h-1zM65 60h1v1h-1zM5 61h1v1h-1zM23 61h1v1h-1zM12 62h1v1h-1zM18 62h1v1h-1zM26 62h1v1h-1zM48 62h1v1h-1zM53 62h1v1h-1zM62 62h1v1h-1zM26 64h1v1h-1zM15 65h1v1h-1zM19 65h1v1h-1zM24 65h1v1h-1zM21 66h1v1h-1zM64 66h1v1h-1zM20 67h1v1h-1zM60 68h1v1h-1zM11 72h1v1h-1zM22 72h1v1h-1zM52 72h1v1h-1zM61 72h1v1h-1zM19 74h1v1h-1zM15 75h1v1h-1zM57 76h1v1h-1zM18 78h1v1h-1zM65 78h1v1h-1zM2 81h1v1h-1zM13 83h1v1h-1zM62 83h1v1h-1zM46 84h2v1h-2zM60 84h1v1h-1zM13 87h1v1h-1zM44 92h1v1h-1zM2 94h1v1h-1zM10 94h1v1h-1zM47 94h1v1h-1zM12 95h1v1h-1zM55 95h1v1h-1zM63 95h1v1h-1zM9 96h1v1h-1zM2 99h1v1h-1zM4 100h1v1h-1zM64 101h1v1h-1zM62 104h1v1h-1zM63 105h1v1h-1zM66 106h1v1h-1zM2 107h1v1h-1zM17 107h1v1h-1zM17 111h1v1h-1zM17 112h1v1h-1zM65 113h1v1h-1zM2 114h1v1h-1zM10 114h1v1h-1zM54 115h1v1h-1zM7 116h1v1h-1zM48 116h1v1h-1zM54 117h1v1h-1zM13 123h1v1h-1zM11 124h1v1h-1zM11 125h1v1h-1zM9 126h1v1h-1zM54 126h1v1h-1zM66 132h1v1h-1zM66 133h1v1h-1zM7 135h1v1h-1zM12 135h1v1h-1zM1 136h1v1h-1zM1 137h1v1h-1zM48 137h1v1h-1zM11 143h1v1h-1zM11 144h1v1h-1zM12 145h1v1h-1zM54 145h1v1h-1zM8 147h1v1h-1zM4 151h1v1h-1zM17 152h1v1h-1zM10 154h1v1h-1zM4 155h1v1h-1zM7 155h1v1h-1zM53 155h1v1h-1zM6 156h1v1h-1zM9 156h1v1h-1zM13 156h1v1h-1zM53 156h1v1h-1zM65 156h1v1h-1z"/>
<path fill="#3d79be" d="M23 10h1v1h-1zM30 10h1v1h-1zM40 10h1v1h-1zM28 11h1v1h-1zM31 14h1v1h-1zM32 15h1v1h-1zM28 18h1v1h-1zM35 18h1v1h-1zM37 18h1v1h-1zM39 24h2v1h-2zM38 25h1v1h-1zM36 26h1v1h-1zM28 27h1v1h-1zM20 29h1v1h-1zM47 29h1v1h-1zM52 29h1v1h-1zM15 30h1v1h-1zM26 31h1v1h-1zM27 33h1v1h-1zM40 33h1v1h-1zM39 34h1v1h-1zM27 37h2v1h-2zM16 38h1v1h-1zM43 39h1v1h-1zM64 40h1v1h-1zM26 41h1v1h-1zM37 43h1v1h-1zM42 43h1v1h-1zM27 45h1v1h-1zM40 46h1v1h-1zM61 46h1v1h-1zM47 47h1v1h-1zM4 49h1v1h-1zM56 49h1v1h-1zM7 51h1v1h-1zM13 51h1v1h-1zM40 51h1v1h-1zM30 52h1v1h-1zM30 53h1v1h-1zM39 53h1v1h-1zM42 53h1v1h-1zM37 54h1v1h-1zM38 56h1v1h-1zM43 56h1v1h-1zM26 58h1v1h-1zM49 59h1v1h-1zM8 60h1v1h-1zM11 60h1v1h-1zM61 60h1v1h-1zM14 62h1v1h-1zM39 63h1v1h-1zM42 63h1v1h-1zM29 67h1v1h-1zM64 69h1v1h-1zM53 70h1v1h-1zM63 70h1v1h-1zM21 71h1v1h-1zM65 71h1v1h-1zM14 72h1v1h-1zM21 72h1v1h-1zM24 72h1v1h-1zM47 72h1v1h-1zM37 74h1v1h-1zM48 74h1v1h-1zM16 76h1v1h-1zM27 76h1v1h-1zM38 77h1v1h-1zM44 79h1v1h-1zM7 81h1v1h-1zM54 81h1v1h-1zM57 81h1v1h-1zM12 82h1v1h-1zM52 82h1v1h-1zM23 83h1v1h-1zM29 83h1v1h-1zM8 85h1v1h-1zM41 85h1v1h-1zM57 85h1v1h-1zM5 86h1v1h-1zM30 86h1v1h-1zM56 86h1v1h-1zM11 87h1v1h-1zM6 88h1v1h-1zM49 88h1v1h-1zM53 88h1v1h-1zM62 90h1v1h-1zM5 91h1v1h-1zM54 91h1v1h-1zM40 92h1v1h-1zM45 92h1v1h-1zM51 92h1v1h-1zM60 92h1v1h-1zM51 94h1v1h-1zM24 95h1v1h-1zM5 97h1v1h-1zM59 99h1v1h-1zM45 101h1v1h-1zM17 102h1v1h-1zM51 102h1v1h-1zM51 103h1v1h-1zM8 104h1v1h-1zM45 104h1v1h-1zM52 104h1v1h-1zM14 105h2v1h-2zM45 105h1v1h-1zM56 105h1v1h-1zM50 106h1v1h-1zM56 106h1v1h-1zM66 107h1v1h-1zM12 108h1v1h-1zM56 108h1v1h-1zM65 108h1v1h-1zM0 109h1v1h-1zM2 109h1v1h-1zM62 110h1v1h-1zM55 113h2v1h-2zM8 114h1v1h-1zM19 114h1v1h-1zM41 115h1v1h-1zM41 116h1v1h-1zM7 118h1v1h-1zM19 118h1v1h-1zM65 118h1v1h-1zM0 119h1v1h-1zM0 120h1v1h-1zM4 120h1v1h-1zM17 120h1v1h-1zM48 121h1v1h-1zM56 123h1v1h-1zM48 124h1v1h-1zM59 124h1v1h-1zM3 126h1v1h-1zM66 127h1v1h-1zM55 128h1v1h-1zM0 130h1v1h-1zM44 130h1v1h-1zM13 132h1v1h-1zM63 132h1v1h-1zM12 133h1v1h-1zM47 133h3v1h-3zM59 133h1v1h-1zM6 135h1v1h-1zM30 135h1v1h-1zM61 136h1v1h-1zM66 137h1v1h-1zM0 138h1v1h-1zM21 138h1v1h-1zM53 138h1v1h-1zM19 141h1v1h-1zM25 143h1v1h-1zM44 143h1v1h-1zM59 144h1v1h-1zM64 144h1v1h-1zM15 145h1v1h-1zM48 145h1v1h-1zM8 146h1v1h-1zM56 146h1v1h-1zM11 147h1v1h-1zM65 148h1v1h-1zM63 152h1v1h-1zM50 154h1v1h-1zM13 158h1v1h-1zM19 158h1v1h-1zM3 159h1v1h-1z"/>
<path fill="#3d64ae" d="M26 10h1v1h-1zM30 12h1v1h-1zM39 20h1v1h-1zM35 22h1v1h-1zM31 24h1v1h-1zM31 27h1v1h-1zM29 28h1v1h-1zM45 29h1v1h-1zM42 35h1v1h-1zM47 38h1v1h-1zM23 39h1v1h-1zM46 39h1v1h-1zM65 39h1v1h-1zM8 40h1v1h-1zM51 40h1v1h-1zM39 41h1v1h-1zM41 41h1v1h-1zM40 45h1v1h-1zM26 48h1v1h-1zM23 49h1v1h-1zM64 49h1v1h-1zM22 50h2v1h-2zM43 50h1v1h-1zM28 55h1v1h-1zM37 58h1v1h-1zM7 60h1v1h-1zM22 61h1v1h-1zM37 63h1v1h-1zM37 64h1v1h-1zM39 66h1v1h-1zM43 66h1v1h-1zM5 70h1v1h-1zM8 70h1v1h-1zM13 70h1v1h-1zM24 71h1v1h-1zM26 71h1v1h-1zM47 71h1v1h-1zM42 72h1v1h-1zM30 73h1v1h-1zM42 73h1v1h-1zM38 76h1v1h-1zM13 79h1v1h-1zM22 79h1v1h-1zM57 79h1v1h-1zM21 81h1v1h-1zM9 82h1v1h-1zM16 82h1v1h-1zM7 84h1v1h-1zM24 84h1v1h-1zM7 87h1v1h-1zM61 87h1v1h-1zM1 89h1v1h-1zM21 89h1v1h-1zM2 90h1v1h-1zM9 90h1v1h-1zM45 91h1v1h-1zM53 91h1v1h-1zM60 91h1v1h-1zM38 92h1v1h-1zM53 92h1v1h-1zM22 93h1v1h-1zM24 94h2v1h-2zM16 95h1v1h-1zM21 95h1v1h-1zM23 95h1v1h-1zM30 95h1v1h-1zM26 96h1v1h-1zM41 97h1v1h-1zM58 97h1v1h-1zM21 98h1v1h-1zM51 100h1v1h-1zM9 101h1v1h-1zM18 101h1v1h-1zM46 101h1v1h-1zM47 102h1v1h-1zM53 102h1v1h-1zM57 102h1v1h-1zM22 103h1v1h-1zM50 103h1v1h-1zM22 104h1v1h-1zM8 105h1v1h-1zM21 105h1v1h-1zM3 109h1v1h-1zM44 109h1v1h-1zM5 111h1v1h-1zM56 111h1v1h-1zM6 112h1v1h-1zM12 112h1v1h-1zM36 113h1v1h-1zM14 114h1v1h-1zM16 114h1v1h-1zM5 116h1v1h-1zM20 117h2v1h-2zM30 117h1v1h-1zM49 118h1v1h-1zM55 120h1v1h-1zM16 123h1v1h-1zM41 124h1v1h-1zM53 128h1v1h-1zM59 128h1v1h-1zM63 128h1v1h-1zM5 131h1v1h-1zM46 131h1v1h-1zM48 131h1v1h-1zM56 131h1v1h-1zM51 132h1v1h-1zM19 133h1v1h-1zM9 134h1v1h-1zM48 134h1v1h-1zM56 136h2v1h-2zM58 137h1v1h-1zM22 138h1v1h-1zM45 138h1v1h-1zM55 139h1v1h-1zM65 139h1v1h-1zM1 140h1v1h-1zM53 140h1v1h-1zM59 140h1v1h-1zM18 141h1v1h-1zM3 142h1v1h-1zM41 142h1v1h-1zM45 142h1v1h-1zM49 143h1v1h-1zM48 144h1v1h-1zM51 144h1v1h-1zM45 145h1v1h-1zM50 145h1v1h-1zM19 147h1v1h-1zM50 147h1v1h-1zM12 148h1v1h-1zM55 148h1v1h-1zM59 148h1v1h-1zM0 150h1v1h-1zM13 151h1v1h-1zM61 152h1v1h-1zM26 153h1v1h-1zM14 155h1v1h-1zM45 155h1v1h-1zM20 157h1v1h-1zM57 158h1v1h-1zM62 160h1v1h-1z"/>
<path fill="#3b57a6" d="M28 10h1v1h-1zM32 21h1v1h-1zM28 22h1v1h-1zM34 22h1v1h-1zM32 27h1v1h-1zM25 30h1v1h-1zM31 36h1v1h-1zM49 39h1v1h-1zM66 39h1v1h-1zM5 40h1v1h-1zM52 40h1v1h-1zM27 42h1v1h-1zM28 43h1v1h-1zM28 47h1v1h-1zM35 47h1v1h-1zM66 49h1v1h-1zM11 50h1v1h-1zM28 54h1v1h-1zM38 54h1v1h-1zM14 59h1v1h-1zM25 59h1v1h-1zM26 60h1v1h-1zM29 60h1v1h-1zM29 62h1v1h-1zM38 64h1v1h-1zM56 64h1v1h-1zM28 67h1v1h-1zM47 67h1v1h-1zM30 68h1v1h-1zM37 70h1v1h-1zM21 73h1v1h-1zM31 74h1v1h-1zM35 74h1v1h-1zM11 77h1v1h-1zM42 78h1v1h-1zM50 79h1v1h-1zM1 80h1v1h-1zM65 80h1v1h-1zM40 83h1v1h-1zM42 83h1v1h-1zM22 85h1v1h-1zM22 86h1v1h-1zM14 87h1v1h-1zM59 90h1v1h-1zM54 92h1v1h-1zM30 93h1v1h-1zM38 93h1v1h-1zM22 94h1v1h-1zM36 94h1v1h-1zM44 94h1v1h-1zM39 95h1v1h-1zM57 95h1v1h-1zM14 96h1v1h-1zM24 96h1v1h-1zM41 98h1v1h-1zM20 100h2v1h-2zM56 100h1v1h-1zM64 100h1v1h-1zM6 101h1v1h-1zM38 101h1v1h-1zM9 102h1v1h-1zM54 102h1v1h-1zM29 104h2v1h-2zM26 105h1v1h-1zM29 105h1v1h-1zM44 106h1v1h-1zM47 106h1v1h-1zM14 108h1v1h-1zM21 108h1v1h-1zM1 109h1v1h-1zM58 110h1v1h-1zM61 111h1v1h-1zM20 112h1v1h-1zM52 113h1v1h-1zM15 114h1v1h-1zM22 114h1v1h-1zM19 116h1v1h-1zM47 116h1v1h-1zM20 118h1v1h-1zM45 118h1v1h-1zM46 119h1v1h-1zM3 120h1v1h-1zM65 120h1v1h-1zM5 121h1v1h-1zM12 122h1v1h-1zM25 122h2v1h-2zM47 122h1v1h-1zM58 122h1v1h-1zM24 123h1v1h-1zM54 123h1v1h-1zM16 124h1v1h-1zM21 125h1v1h-1zM21 127h1v1h-1zM43 128h1v1h-1zM65 130h1v1h-1zM45 131h1v1h-1zM54 131h1v1h-1zM4 133h1v1h-1zM9 133h1v1h-1zM29 134h1v1h-1zM26 135h1v1h-1zM57 135h1v1h-1zM30 136h1v1h-1zM47 136h1v1h-1zM49 139h1v1h-1zM13 140h1v1h-1zM23 140h1v1h-1zM54 140h1v1h-1zM56 140h1v1h-1zM13 141h1v1h-1zM15 142h1v1h-1zM18 142h1v1h-1zM40 142h1v1h-1zM43 142h1v1h-1zM57 143h1v1h-1zM61 143h1v1h-1zM6 144h1v1h-1zM29 144h2v1h-2zM57 145h1v1h-1zM3 150h1v1h-1zM1 151h1v1h-1zM12 151h1v1h-1zM51 151h1v1h-1zM8 152h1v1h-1zM20 152h1v1h-1zM16 153h1v1h-1zM54 153h1v1h-1zM22 154h1v1h-1zM39 155h1v1h-1zM25 156h1v1h-1zM30 157h1v1h-1zM61 157h1v1h-1zM13 160h1v1h-1z"/>
<path fill="#3a54a4" d="M31 10h1v1h-1zM31 19h1v1h-1zM32 22h1v1h-1zM34 25h1v1h-1zM27 27h1v1h-1zM36 28h1v1h-1zM29 29h1v1h-1zM37 30h1v1h-1zM36 31h1v1h-1zM31 35h1v1h-1zM36 37h1v1h-1zM40 38h1v1h-1zM60 39h1v1h-1zM20 40h1v1h-1zM38 40h1v1h-1zM30 41h1v1h-1zM36 41h1v1h-1zM42 41h1v1h-1zM7 49h1v1h-1zM35 57h1v1h-1zM14 60h1v1h-1zM28 62h1v1h-1zM31 66h1v1h-1zM31 67h1v1h-1zM40 67h1v1h-1zM7 69h1v1h-1zM29 69h1v1h-1zM40 77h1v1h-1zM47 77h1v1h-1zM16 78h1v1h-1zM12 80h1v1h-1zM37 80h1v1h-1zM22 81h1v1h-1zM27 84h1v1h-1zM40 84h1v1h-1zM6 85h1v1h-1zM52 87h1v1h-1zM20 88h1v1h-1zM18 89h1v1h-1zM22 89h1v1h-1zM54 90h1v1h-1zM65 90h1v1h-1zM24 91h1v1h-1zM57 91h1v1h-1zM39 92h1v1h-1zM52 93h1v1h-1zM16 96h1v1h-1zM38 96h1v1h-1zM15 99h1v1h-1zM51 99h1v1h-1zM21 101h1v1h-1zM47 101h1v1h-1zM24 102h1v1h-1zM30 102h1v1h-1zM38 102h1v1h-1zM52 103h1v1h-1zM42 104h1v1h-1zM25 105h1v1h-1zM40 105h1v1h-1zM16 107h1v1h-1zM58 108h1v1h-1zM9 110h1v1h-1zM64 110h1v1h-1zM12 111h1v1h-1zM15 111h1v1h-1zM20 111h1v1h-1zM45 111h1v1h-1zM57 111h1v1h-1zM15 112h1v1h-1zM16 113h1v1h-1zM25 115h1v1h-1zM57 115h1v1h-1zM14 116h1v1h-1zM25 116h2v1h-2zM37 116h1v1h-1zM16 117h1v1h-1zM41 118h1v1h-1zM19 119h1v1h-1zM56 119h1v1h-1zM19 120h1v1h-1zM56 120h1v1h-1zM14 122h1v1h-1zM42 122h1v1h-1zM42 123h1v1h-1zM6 124h1v1h-1zM57 124h1v1h-1zM8 129h1v1h-1zM18 129h1v1h-1zM21 129h1v1h-1zM1 130h1v1h-1zM15 131h1v1h-1zM40 131h1v1h-1zM57 131h1v1h-1zM47 132h1v1h-1zM30 133h1v1h-1zM63 133h1v1h-1zM25 137h2v1h-2zM5 139h1v1h-1zM12 140h1v1h-1zM64 140h1v1h-1zM50 141h1v1h-1zM37 142h1v1h-1zM26 146h1v1h-1zM48 148h1v1h-1zM66 148h1v1h-1zM19 150h1v1h-1zM58 150h1v1h-1zM24 154h1v1h-1zM19 156h1v1h-1zM26 156h1v1h-1zM22 157h1v1h-1zM14 158h1v1h-1z"/>
<path fill="#3b56a6" d="M32 10h1v1h-1zM30 19h1v1h-1zM35 21h1v1h-1zM34 27h1v1h-1zM39 27h1v1h-1zM31 28h1v1h-1zM35 28h1v1h-1zM38 29h1v1h-1zM31 33h2v1h-2zM35 37h1v1h-1zM14 39h2v1h-2zM61 39h1v1h-1zM6 40h1v1h-1zM16 40h1v1h-1zM37 40h1v1h-1zM43 40h1v1h-1zM57 40h1v1h-1zM60 40h1v1h-1zM6 43h1v1h-1zM31 44h1v1h-1zM0 48h1v1h-1zM30 48h1v1h-1zM11 49h1v1h-1zM14 49h1v1h-1zM24 49h1v1h-1zM38 49h1v1h-1zM47 49h1v1h-1zM7 50h1v1h-1zM38 50h1v1h-1zM49 50h1v1h-1zM52 50h1v1h-1zM60 50h2v1h-2zM28 53h1v1h-1zM36 55h1v1h-1zM28 57h1v1h-1zM40 60h1v1h-1zM27 62h1v1h-1zM35 63h1v1h-1zM36 66h1v1h-1zM29 68h1v1h-1zM42 68h1v1h-1zM15 69h1v1h-1zM38 69h1v1h-1zM24 70h1v1h-1zM45 70h1v1h-1zM47 70h1v1h-1zM49 70h1v1h-1zM52 70h1v1h-1zM60 70h1v1h-1zM66 70h1v1h-1zM16 71h1v1h-1zM30 71h1v1h-1zM39 71h1v1h-1zM27 72h1v1h-1zM35 73h1v1h-1zM28 75h1v1h-1zM36 75h1v1h-1zM42 75h1v1h-1zM29 76h1v1h-1zM36 76h1v1h-1zM29 77h1v1h-1zM30 78h1v1h-1zM47 78h1v1h-1zM4 79h1v1h-1zM23 79h1v1h-1zM43 79h1v1h-1zM51 79h1v1h-1zM64 79h2v1h-2zM46 80h1v1h-1zM60 80h1v1h-1zM26 81h1v1h-1zM47 81h1v1h-1zM21 82h1v1h-1zM38 83h1v1h-1zM21 84h1v1h-1zM37 84h1v1h-1zM16 85h1v1h-1zM44 85h1v1h-1zM25 87h1v1h-1zM2 88h1v1h-1zM41 88h1v1h-1zM47 88h1v1h-1zM5 89h1v1h-1zM13 90h1v1h-1zM56 90h1v1h-1zM15 91h1v1h-1zM20 91h1v1h-1zM40 91h2v1h-2zM43 91h1v1h-1zM9 92h1v1h-1zM14 92h1v1h-1zM47 92h1v1h-1zM15 93h1v1h-1zM18 93h1v1h-1zM23 93h2v1h-2zM6 94h1v1h-1zM23 94h1v1h-1zM30 94h1v1h-1zM40 94h1v1h-1zM5 96h1v1h-1zM39 96h1v1h-1zM52 96h1v1h-1zM22 97h1v1h-1zM11 98h1v1h-1zM20 98h1v1h-1zM50 98h1v1h-1zM11 99h1v1h-1zM18 99h1v1h-1zM48 99h2v1h-2zM23 100h1v1h-1zM49 100h1v1h-1zM54 101h1v1h-1zM40 103h1v1h-1zM25 104h1v1h-1zM24 106h1v1h-1zM14 107h1v1h-1zM22 107h1v1h-1zM26 107h1v1h-1zM41 108h1v1h-1zM45 108h1v1h-1zM21 109h1v1h-1zM54 110h2v1h-2zM40 111h1v1h-1zM51 111h1v1h-1zM9 112h1v1h-1zM14 112h1v1h-1zM16 112h1v1h-1zM53 112h1v1h-1zM23 113h1v1h-1zM29 113h1v1h-1zM43 113h1v1h-1zM22 115h1v1h-1zM24 115h1v1h-1zM39 115h1v1h-1zM24 116h1v1h-1zM44 116h1v1h-1zM57 116h1v1h-1zM38 117h1v1h-1zM14 118h1v1h-1zM22 118h2v1h-2zM1 120h1v1h-1zM18 120h1v1h-1zM64 120h1v1h-1zM15 121h1v1h-1zM45 121h1v1h-1zM54 121h1v1h-1zM61 121h1v1h-1zM9 122h1v1h-1zM18 122h1v1h-1zM24 122h1v1h-1zM40 122h1v1h-1zM50 122h1v1h-1zM14 123h2v1h-2zM18 123h1v1h-1zM23 123h1v1h-1zM29 123h1v1h-1zM40 123h1v1h-1zM43 123h1v1h-1zM22 124h1v1h-1zM26 124h1v1h-1zM29 124h2v1h-2zM44 124h1v1h-1zM14 126h1v1h-1zM47 126h1v1h-1zM52 126h1v1h-1zM22 127h1v1h-1zM14 128h1v1h-1zM23 128h1v1h-1zM45 128h1v1h-1zM51 128h1v1h-1zM61 128h1v1h-1zM55 129h1v1h-1zM3 130h1v1h-1zM19 130h1v1h-1zM56 130h1v1h-1zM13 131h1v1h-1zM38 131h1v1h-1zM23 132h1v1h-1zM50 132h1v1h-1zM50 133h1v1h-1zM52 133h1v1h-1zM22 134h1v1h-1zM23 135h1v1h-1zM25 135h1v1h-1zM44 135h1v1h-1zM52 135h1v1h-1zM37 136h1v1h-1zM52 137h1v1h-1zM43 138h2v1h-2zM66 138h1v1h-1zM13 139h1v1h-1zM19 139h1v1h-1zM45 139h1v1h-1zM51 139h1v1h-1zM46 140h1v1h-1zM15 141h1v1h-1zM21 141h1v1h-1zM38 141h1v1h-1zM14 142h1v1h-1zM16 142h1v1h-1zM20 142h1v1h-1zM53 142h2v1h-2zM58 142h1v1h-1zM6 143h1v1h-1zM29 143h1v1h-1zM52 143h2v1h-2zM36 144h1v1h-1zM44 144h1v1h-1zM16 145h1v1h-1zM25 145h1v1h-1zM44 145h1v1h-1zM44 146h1v1h-1zM25 147h2v1h-2zM14 148h2v1h-2zM60 148h1v1h-1zM13 149h1v1h-1zM54 149h1v1h-1zM45 151h1v1h-1zM56 151h1v1h-1zM61 151h1v1h-1zM43 152h1v1h-1zM57 152h1v1h-1zM9 153h1v1h-1zM14 153h1v1h-1zM18 153h1v1h-1zM24 153h1v1h-1zM15 154h1v1h-1zM25 154h2v1h-2zM52 154h1v1h-1zM16 155h1v1h-1zM22 155h1v1h-1zM25 155h2v1h-2zM14 156h1v1h-1zM21 156h1v1h-1zM44 156h1v1h-1zM47 156h1v1h-1zM57 156h1v1h-1zM19 157h1v1h-1zM41 157h1v1h-1zM20 158h1v1h-1zM51 158h1v1h-1zM53 158h1v1h-1zM59 158h1v1h-1zM61 158h1v1h-1zM8 159h1v1h-1zM57 159h1v1h-1z"/>
<path fill="#3e6bb3" d="M34 10h1v1h-1zM36 10h1v1h-1zM32 12h1v1h-1zM32 17h1v1h-1zM29 19h1v1h-1zM30 20h1v1h-1zM38 20h1v1h-1zM29 22h1v1h-1zM37 23h1v1h-1zM31 25h1v1h-1zM29 26h1v1h-1zM27 28h1v1h-1zM49 29h1v1h-1zM22 30h1v1h-1zM45 30h1v1h-1zM31 34h1v1h-1zM42 36h1v1h-1zM4 39h1v1h-1zM22 39h1v1h-1zM57 39h1v1h-1zM3 40h1v1h-1zM11 40h1v1h-1zM66 40h1v1h-1zM14 41h1v1h-1zM16 41h1v1h-1zM47 41h1v1h-1zM42 42h1v1h-1zM42 44h1v1h-1zM29 46h1v1h-1zM25 48h1v1h-1zM41 48h1v1h-1zM6 49h1v1h-1zM8 50h1v1h-1zM66 50h1v1h-1zM45 51h1v1h-1zM14 52h1v1h-1zM37 53h1v1h-1zM39 54h1v1h-1zM27 55h1v1h-1zM65 55h1v1h-1zM16 56h1v1h-1zM27 57h1v1h-1zM29 57h1v1h-1zM37 57h1v1h-1zM47 58h1v1h-1zM20 60h1v1h-1zM36 62h1v1h-1zM38 66h1v1h-1zM40 66h1v1h-1zM27 67h1v1h-1zM11 68h1v1h-1zM41 68h1v1h-1zM48 68h1v1h-1zM12 69h1v1h-1zM46 70h1v1h-1zM57 70h1v1h-1zM64 70h1v1h-1zM10 71h1v1h-1zM30 72h1v1h-1zM39 75h1v1h-1zM22 76h1v1h-1zM28 76h1v1h-1zM25 78h1v1h-1zM19 79h1v1h-1zM0 80h1v1h-1zM2 80h1v1h-1zM55 80h2v1h-2zM59 80h1v1h-1zM13 81h1v1h-1zM50 81h1v1h-1zM14 82h1v1h-1zM15 83h1v1h-1zM26 84h1v1h-1zM29 84h2v1h-2zM44 88h1v1h-1zM57 88h1v1h-1zM4 89h1v1h-1zM9 89h1v1h-1zM46 91h1v1h-1zM8 92h1v1h-1zM49 92h1v1h-1zM41 93h1v1h-1zM54 93h1v1h-1zM26 94h1v1h-1zM23 96h1v1h-1zM45 98h1v1h-1zM49 98h1v1h-1zM57 98h1v1h-1zM8 99h1v1h-1zM21 99h1v1h-1zM65 99h1v1h-1zM63 101h1v1h-1zM36 103h1v1h-1zM54 103h1v1h-1zM57 103h1v1h-1zM9 104h1v1h-1zM24 104h1v1h-1zM23 105h1v1h-1zM19 106h1v1h-1zM22 108h1v1h-1zM46 111h1v1h-1zM50 112h1v1h-1zM57 112h1v1h-1zM61 112h1v1h-1zM50 114h2v1h-2zM19 115h1v1h-1zM56 115h1v1h-1zM23 117h1v1h-1zM50 117h2v1h-2zM6 118h1v1h-1zM18 118h1v1h-1zM44 118h1v1h-1zM2 119h2v1h-2zM2 121h1v1h-1zM6 122h1v1h-1zM61 122h1v1h-1zM9 123h1v1h-1zM19 123h1v1h-1zM47 123h1v1h-1zM14 124h1v1h-1zM23 126h1v1h-1zM30 126h1v1h-1zM58 126h1v1h-1zM11 127h1v1h-1zM41 127h1v1h-1zM44 127h1v1h-1zM19 128h1v1h-1zM3 129h1v1h-1zM4 130h1v1h-1zM62 130h1v1h-1zM19 131h1v1h-1zM58 132h3v1h-3zM8 134h1v1h-1zM52 134h1v1h-1zM15 135h1v1h-1zM59 137h1v1h-1zM19 138h1v1h-1zM1 139h1v1h-1zM44 139h1v1h-1zM55 140h1v1h-1zM51 141h1v1h-1zM19 142h1v1h-1zM46 142h1v1h-1zM51 142h1v1h-1zM20 143h1v1h-1zM60 143h1v1h-1zM5 145h1v1h-1zM51 145h1v1h-1zM45 147h1v1h-1zM19 148h1v1h-1zM49 148h1v1h-1zM4 150h1v1h-1zM58 151h1v1h-1zM66 151h1v1h-1zM45 152h1v1h-1zM49 153h1v1h-1zM56 153h1v1h-1zM41 154h1v1h-1zM6 155h1v1h-1zM52 155h1v1h-1zM64 155h1v1h-1zM30 156h1v1h-1zM23 157h1v1h-1zM48 158h1v1h-1zM63 158h1v1h-1zM1 159h1v1h-1zM9 159h1v1h-1zM44 159h1v1h-1z"/>
<path fill="#3d61ac" d="M37 10h1v1h-1zM31 11h1v1h-1zM27 12h1v1h-1zM29 20h1v1h-1zM36 20h1v1h-1zM31 22h1v1h-1zM32 24h1v1h-1zM30 31h1v1h-1zM39 31h1v1h-1zM30 38h1v1h-1zM12 39h1v1h-1zM64 39h1v1h-1zM40 41h1v1h-1zM28 45h1v1h-1zM42 47h1v1h-1zM20 49h1v1h-1zM46 50h1v1h-1zM26 51h1v1h-1zM21 53h1v1h-1zM29 56h1v1h-1zM39 57h1v1h-1zM24 58h1v1h-1zM7 59h1v1h-1zM26 59h1v1h-1zM47 59h1v1h-1zM60 59h1v1h-1zM38 60h1v1h-1zM49 60h1v1h-1zM39 62h1v1h-1zM21 63h1v1h-1zM30 63h2v1h-2zM48 64h1v1h-1zM23 69h1v1h-1zM49 69h1v1h-1zM51 69h1v1h-1zM8 73h1v1h-1zM38 75h1v1h-1zM24 77h1v1h-1zM48 78h1v1h-1zM55 79h1v1h-1zM3 80h1v1h-1zM13 80h1v1h-1zM23 80h1v1h-1zM5 82h1v1h-1zM24 82h1v1h-1zM47 82h1v1h-1zM14 83h1v1h-1zM16 83h1v1h-1zM44 84h1v1h-1zM26 85h1v1h-1zM30 85h1v1h-1zM39 85h1v1h-1zM57 86h1v1h-1zM20 87h1v1h-1zM45 88h1v1h-1zM66 88h1v1h-1zM0 89h1v1h-1zM65 89h1v1h-1zM7 91h1v1h-1zM11 91h2v1h-2zM63 91h1v1h-1zM6 93h1v1h-1zM57 94h1v1h-1zM25 96h1v1h-1zM63 99h1v1h-1zM19 100h1v1h-1zM43 102h1v1h-1zM58 102h1v1h-1zM6 103h1v1h-1zM9 103h1v1h-1zM18 103h1v1h-1zM26 104h1v1h-1zM64 105h1v1h-1zM64 106h1v1h-1zM41 107h1v1h-1zM18 108h1v1h-1zM53 108h1v1h-1zM59 110h1v1h-1zM7 111h1v1h-1zM9 111h1v1h-1zM18 111h1v1h-1zM53 111h1v1h-1zM22 113h1v1h-1zM49 113h1v1h-1zM6 114h1v1h-1zM24 114h1v1h-1zM44 114h1v1h-1zM21 115h1v1h-1zM44 117h1v1h-1zM60 118h1v1h-1zM58 120h1v1h-1zM41 122h1v1h-1zM8 123h1v1h-1zM52 125h1v1h-1zM8 126h1v1h-1zM56 126h1v1h-1zM23 127h1v1h-1zM57 127h1v1h-1zM49 128h1v1h-1zM2 130h1v1h-1zM49 132h1v1h-1zM26 133h1v1h-1zM44 133h1v1h-1zM14 134h1v1h-1zM21 135h1v1h-1zM21 136h1v1h-1zM41 136h1v1h-1zM60 138h1v1h-1zM41 141h1v1h-1zM45 141h1v1h-1zM26 142h1v1h-1zM19 143h1v1h-1zM16 144h1v1h-1zM56 145h1v1h-1zM45 146h1v1h-1zM52 146h1v1h-1zM44 147h1v1h-1zM57 147h1v1h-1zM61 147h1v1h-1zM17 149h1v1h-1zM19 151h1v1h-1zM48 151h2v1h-2zM6 152h1v1h-1zM12 152h1v1h-1zM19 152h1v1h-1zM59 152h1v1h-1zM25 153h1v1h-1zM59 153h2v1h-2zM14 154h1v1h-1zM16 154h1v1h-1zM18 154h1v1h-1zM48 154h1v1h-1zM5 155h1v1h-1zM64 156h1v1h-1zM6 158h1v1h-1zM22 158h1v1h-1zM64 158h1v1h-1zM55 159h1v1h-1zM2 160h1v1h-1z"/>
<path fill="#2c3c98" d="M41 10h1v1h-1zM40 29h1v1h-1zM28 30h1v1h-1zM28 31h1v1h-1zM34 37h1v1h-1zM25 39h1v1h-1zM27 39h2v1h-2zM41 40h1v1h-1zM37 48h1v1h-1zM27 50h1v1h-1zM39 59h1v1h-1zM16 69h1v1h-1zM28 78h1v1h-1zM14 80h1v1h-1zM45 80h1v1h-1zM7 89h1v1h-1zM15 89h1v1h-1zM66 89h1v1h-1zM5 90h1v1h-1zM38 90h1v1h-1zM27 93h1v1h-1zM42 95h1v1h-1zM37 99h1v1h-1zM16 100h1v1h-1zM40 100h1v1h-1zM27 103h1v1h-1zM38 104h1v1h-1zM48 104h1v1h-1zM37 107h1v1h-1zM6 109h2v1h-2zM47 110h1v1h-1zM51 110h1v1h-1zM66 111h1v1h-1zM36 116h1v1h-1zM16 118h1v1h-1zM23 119h1v1h-1zM12 120h1v1h-1zM49 121h1v1h-1zM29 122h1v1h-1zM38 124h1v1h-1zM29 127h1v1h-1zM42 128h1v1h-1zM45 129h1v1h-1zM49 129h1v1h-1zM11 130h2v1h-2zM8 131h1v1h-1zM49 131h2v1h-2zM27 133h1v1h-1zM28 135h1v1h-1zM36 136h1v1h-1zM43 136h1v1h-1zM6 140h1v1h-1zM66 140h1v1h-1zM22 141h1v1h-1zM38 144h1v1h-1zM28 146h1v1h-1zM24 148h1v1h-1zM23 150h1v1h-1zM45 150h1v1h-1zM51 150h1v1h-1zM37 157h1v1h-1zM5 158h1v1h-1zM29 158h1v1h-1zM47 159h1v1h-1z"/>
<path fill="#3d67b1" d="M28 12h1v1h-1zM35 19h1v1h-1zM27 21h1v1h-1zM39 21h1v1h-1zM35 25h1v1h-1zM28 26h1v1h-1zM29 27h1v1h-1zM16 30h1v1h-1zM38 34h1v1h-1zM35 35h1v1h-1zM40 35h1v1h-1zM36 36h1v1h-1zM37 37h1v1h-1zM24 38h1v1h-1zM41 38h2v1h-2zM11 39h1v1h-1zM21 39h1v1h-1zM51 39h1v1h-1zM63 40h1v1h-1zM40 43h1v1h-1zM40 44h1v1h-1zM36 45h1v1h-1zM38 45h1v1h-1zM38 46h1v1h-1zM1 50h1v1h-1zM21 50h1v1h-1zM29 52h1v1h-1zM29 58h2v1h-2zM52 59h1v1h-1zM39 64h1v1h-1zM27 65h1v1h-1zM42 65h1v1h-1zM22 66h1v1h-1zM11 70h1v1h-1zM43 70h1v1h-1zM40 71h1v1h-1zM27 73h1v1h-1zM40 73h1v1h-1zM21 74h1v1h-1zM27 75h1v1h-1zM14 77h1v1h-1zM45 78h1v1h-1zM5 79h1v1h-1zM18 80h1v1h-1zM15 81h1v1h-1zM43 81h1v1h-1zM45 81h1v1h-1zM54 82h1v1h-1zM36 83h1v1h-1zM15 84h1v1h-1zM24 85h1v1h-1zM19 86h1v1h-1zM44 86h1v1h-1zM47 86h1v1h-1zM22 87h1v1h-1zM8 88h1v1h-1zM48 88h1v1h-1zM44 89h1v1h-1zM20 92h1v1h-1zM43 92h1v1h-1zM16 93h1v1h-1zM29 93h1v1h-1zM53 93h1v1h-1zM57 93h1v1h-1zM15 94h1v1h-1zM8 95h1v1h-1zM19 96h1v1h-1zM57 96h1v1h-1zM64 96h1v1h-1zM20 97h1v1h-1zM23 97h1v1h-1zM50 97h2v1h-2zM61 98h1v1h-1zM9 100h1v1h-1zM54 100h1v1h-1zM7 101h1v1h-1zM41 101h1v1h-1zM53 101h1v1h-1zM6 102h1v1h-1zM26 102h1v1h-1zM46 102h1v1h-1zM61 102h1v1h-1zM29 103h1v1h-1zM44 107h1v1h-1zM51 107h1v1h-1zM6 108h1v1h-1zM20 108h1v1h-1zM9 109h1v1h-1zM2 110h1v1h-1zM18 112h1v1h-1zM51 112h1v1h-1zM26 113h1v1h-1zM9 114h1v1h-1zM57 114h1v1h-1zM52 115h1v1h-1zM64 115h1v1h-1zM21 116h1v1h-1zM11 117h1v1h-1zM19 117h1v1h-1zM61 117h1v1h-1zM57 118h1v1h-1zM63 118h1v1h-1zM9 119h1v1h-1zM1 121h1v1h-1zM66 121h1v1h-1zM13 122h1v1h-1zM49 122h1v1h-1zM51 122h1v1h-1zM26 123h1v1h-1zM41 123h1v1h-1zM24 124h1v1h-1zM64 124h1v1h-1zM51 127h1v1h-1zM58 127h1v1h-1zM0 129h1v1h-1zM46 129h1v1h-1zM62 129h1v1h-1zM58 130h1v1h-1zM61 132h1v1h-1zM22 133h1v1h-1zM36 133h1v1h-1zM60 133h1v1h-1zM5 135h1v1h-1zM45 135h1v1h-1zM64 135h1v1h-1zM64 136h1v1h-1zM51 137h1v1h-1zM57 137h1v1h-1zM12 139h1v1h-1zM65 140h1v1h-1zM9 141h1v1h-1zM53 141h1v1h-1zM60 142h1v1h-1zM9 144h1v1h-1zM18 144h1v1h-1zM8 145h1v1h-1zM64 148h1v1h-1zM0 149h1v1h-1zM2 149h1v1h-1zM9 150h1v1h-1zM25 151h1v1h-1zM41 152h1v1h-1zM8 155h1v1h-1zM21 155h1v1h-1zM30 155h1v1h-1zM41 155h1v1h-1zM59 156h1v1h-1zM15 158h1v1h-1zM45 158h1v1h-1zM4 159h1v1h-1zM0 160h1v1h-1zM4 160h1v1h-1zM58 160h1v1h-1z"/>
<path fill="#3a53a4" d="M31 12h1v1h-1zM34 18h1v1h-1zM45 19h1v1h-1zM28 28h1v1h-1zM41 29h1v1h-1zM29 31h1v1h-1zM24 39h1v1h-1zM47 39h1v1h-1zM52 39h1v1h-1zM47 40h1v1h-1zM29 41h1v1h-1zM28 42h1v1h-1zM60 49h1v1h-1zM14 50h1v1h-1zM20 50h1v1h-1zM45 50h1v1h-1zM47 50h1v1h-1zM30 51h1v1h-1zM35 55h1v1h-1zM40 58h1v1h-1zM29 61h1v1h-1zM28 64h1v1h-1zM31 64h1v1h-1zM60 69h1v1h-1zM61 70h1v1h-1zM38 72h1v1h-1zM28 77h1v1h-1zM35 77h1v1h-1zM7 79h1v1h-1zM66 80h1v1h-1zM42 81h1v1h-1zM29 82h1v1h-1zM27 83h1v1h-1zM39 83h1v1h-1zM42 84h1v1h-1zM40 85h1v1h-1zM16 86h1v1h-1zM29 86h1v1h-1zM37 87h2v1h-2zM42 87h1v1h-1zM23 88h1v1h-1zM58 89h1v1h-1zM49 90h1v1h-1zM53 90h1v1h-1zM29 95h1v1h-1zM40 96h1v1h-1zM16 98h1v1h-1zM58 98h1v1h-1zM14 99h1v1h-1zM38 99h1v1h-1zM39 102h1v1h-1zM42 102h1v1h-1zM36 105h1v1h-1zM53 109h1v1h-1zM55 109h1v1h-1zM65 109h1v1h-1zM1 110h1v1h-1zM13 110h1v1h-1zM49 110h1v1h-1zM53 110h1v1h-1zM38 111h1v1h-1zM39 112h1v1h-1zM24 113h1v1h-1zM25 114h1v1h-1zM39 116h1v1h-1zM8 119h1v1h-1zM13 120h1v1h-1zM12 121h1v1h-1zM16 122h1v1h-1zM36 124h1v1h-1zM39 125h1v1h-1zM44 125h1v1h-1zM39 126h1v1h-1zM16 127h1v1h-1zM25 127h1v1h-1zM50 127h1v1h-1zM52 127h1v1h-1zM19 129h1v1h-1zM58 129h1v1h-1zM65 129h1v1h-1zM16 131h1v1h-1zM21 131h1v1h-1zM16 132h1v1h-1zM16 133h1v1h-1zM25 134h1v1h-1zM44 134h1v1h-1zM5 136h1v1h-1zM16 136h1v1h-1zM22 136h1v1h-1zM40 136h1v1h-1zM41 138h1v1h-1zM58 138h1v1h-1zM11 139h1v1h-1zM23 142h1v1h-1zM14 146h1v1h-1zM22 147h1v1h-1zM42 147h1v1h-1zM43 148h2v1h-2zM51 148h1v1h-1zM1 149h1v1h-1zM54 150h1v1h-1zM23 151h1v1h-1zM41 151h1v1h-1zM40 152h1v1h-1zM54 152h1v1h-1zM57 153h1v1h-1zM14 157h1v1h-1zM25 157h1v1h-1zM12 159h1v1h-1zM19 159h1v1h-1zM11 160h1v1h-1zM19 160h1v1h-1zM46 160h1v1h-1zM51 160h1v1h-1zM53 160h1v1h-1z"/>
<path fill="#3e6eb5" d="M36 12h1v1h-1zM35 20h1v1h-1zM32 25h1v1h-1zM36 25h1v1h-1zM37 27h1v1h-1zM7 30h1v1h-1zM43 30h1v1h-1zM52 30h1v1h-1zM29 36h1v1h-1zM29 38h1v1h-1zM58 39h1v1h-1zM4 40h1v1h-1zM50 40h1v1h-1zM29 42h1v1h-1zM21 43h1v1h-1zM39 44h1v1h-1zM27 47h1v1h-1zM40 47h1v1h-1zM29 48h1v1h-1zM19 49h1v1h-1zM50 50h1v1h-1zM57 50h1v1h-1zM36 52h1v1h-1zM40 53h1v1h-1zM22 55h1v1h-1zM24 57h1v1h-1zM25 58h1v1h-1zM38 59h1v1h-1zM66 59h1v1h-1zM22 60h1v1h-1zM52 60h1v1h-1zM30 62h1v1h-1zM40 62h1v1h-1zM40 63h1v1h-1zM45 68h1v1h-1zM5 69h1v1h-1zM56 69h1v1h-1zM58 69h1v1h-1zM50 70h2v1h-2zM37 72h1v1h-1zM30 74h1v1h-1zM39 74h1v1h-1zM27 77h1v1h-1zM37 77h1v1h-1zM4 80h1v1h-1zM54 80h1v1h-1zM12 81h1v1h-1zM24 81h1v1h-1zM38 82h1v1h-1zM14 84h1v1h-1zM57 84h1v1h-1zM52 85h1v1h-1zM21 87h1v1h-1zM41 87h1v1h-1zM21 88h2v1h-2zM64 88h1v1h-1zM56 91h1v1h-1zM15 92h1v1h-1zM49 93h1v1h-1zM52 95h1v1h-1zM21 96h1v1h-1zM51 96h1v1h-1zM5 99h1v1h-1zM19 99h1v1h-1zM46 99h1v1h-1zM18 100h1v1h-1zM45 100h1v1h-1zM55 100h1v1h-1zM19 101h1v1h-1zM61 101h1v1h-1zM8 103h1v1h-1zM15 104h1v1h-1zM52 105h1v1h-1zM5 106h1v1h-1zM11 107h1v1h-1zM23 107h1v1h-1zM49 108h1v1h-1zM41 112h1v1h-1zM56 112h1v1h-1zM9 113h1v1h-1zM44 113h1v1h-1zM59 113h1v1h-1zM41 114h1v1h-1zM8 115h1v1h-1zM56 116h1v1h-1zM12 118h1v1h-1zM19 121h1v1h-1zM58 121h1v1h-1zM19 122h1v1h-1zM60 122h1v1h-1zM51 123h1v1h-1zM60 123h2v1h-2zM51 124h1v1h-1zM5 125h1v1h-1zM14 125h1v1h-1zM30 125h1v1h-1zM41 125h1v1h-1zM45 126h1v1h-1zM64 126h1v1h-1zM5 127h1v1h-1zM15 128h1v1h-1zM18 128h1v1h-1zM56 128h1v1h-1zM2 129h1v1h-1zM4 129h1v1h-1zM9 129h1v1h-1zM58 131h1v1h-1zM6 132h1v1h-1zM15 132h1v1h-1zM45 132h1v1h-1zM41 133h1v1h-1zM51 134h1v1h-1zM60 134h1v1h-1zM19 135h1v1h-1zM8 136h1v1h-1zM5 137h1v1h-1zM13 138h1v1h-1zM20 138h1v1h-1zM64 138h1v1h-1zM54 139h1v1h-1zM3 140h1v1h-1zM49 141h1v1h-1zM63 142h1v1h-1zM8 143h1v1h-1zM22 143h1v1h-1zM26 143h1v1h-1zM24 145h1v1h-1zM59 145h1v1h-1zM64 146h1v1h-1zM9 149h1v1h-1zM62 149h1v1h-1zM17 150h1v1h-1zM47 153h1v1h-1zM61 153h1v1h-1zM48 155h1v1h-1zM51 155h1v1h-1zM20 156h1v1h-1zM49 158h1v1h-1zM9 160h1v1h-1z"/>
<path fill="#36a4de" d="M37 12h1v1h-1zM30 13h1v1h-1zM37 14h2v1h-2zM30 15h1v1h-1zM28 17h1v1h-1zM36 17h1v1h-1zM40 18h1v1h-1zM49 18h1v1h-1zM40 20h1v1h-1zM26 21h1v1h-1zM37 21h2v1h-2zM40 23h1v1h-1zM27 25h1v1h-1zM25 27h1v1h-1zM15 29h1v1h-1zM6 30h1v1h-1zM46 30h1v1h-1zM50 30h1v1h-1zM63 30h1v1h-1zM45 31h1v1h-1zM2 33h1v1h-1zM21 34h1v1h-1zM36 34h1v1h-1zM42 34h1v1h-1zM38 35h1v1h-1zM28 36h1v1h-1zM41 37h1v1h-1zM17 39h1v1h-1zM19 39h1v1h-1zM18 40h2v1h-2zM54 40h1v1h-1zM30 44h1v1h-1zM26 46h1v1h-1zM38 47h1v1h-1zM41 47h1v1h-1zM11 48h1v1h-1zM51 48h1v1h-1zM18 49h1v1h-1zM55 49h1v1h-1zM57 49h1v1h-1zM4 50h1v1h-1zM15 51h1v1h-1zM48 51h1v1h-1zM16 52h1v1h-1zM39 52h2v1h-2zM54 52h1v1h-1zM39 55h1v1h-1zM19 56h1v1h-1zM37 56h1v1h-1zM39 56h1v1h-1zM26 57h1v1h-1zM41 58h1v1h-1zM52 58h1v1h-1zM20 59h1v1h-1zM13 60h1v1h-1zM24 61h1v1h-1zM15 62h1v1h-1zM23 63h1v1h-1zM57 66h1v1h-1zM41 67h1v1h-1zM52 68h1v1h-1zM58 68h1v1h-1zM13 69h1v1h-1zM45 71h1v1h-1zM56 71h1v1h-1zM61 71h1v1h-1zM8 72h1v1h-1zM20 72h1v1h-1zM41 72h1v1h-1zM15 73h1v1h-1zM16 74h1v1h-1zM23 74h1v1h-1zM29 74h1v1h-1zM41 74h1v1h-1zM25 75h1v1h-1zM61 78h1v1h-1zM54 79h1v1h-1zM1 81h1v1h-1zM5 81h1v1h-1zM6 82h1v1h-1zM22 82h1v1h-1zM49 82h1v1h-1zM58 82h1v1h-1zM41 83h1v1h-1zM41 84h1v1h-1zM14 85h2v1h-2zM45 87h1v1h-1zM13 88h1v1h-1zM66 91h1v1h-1zM5 92h1v1h-1zM46 92h1v1h-1zM19 93h1v1h-1zM25 93h1v1h-1zM41 94h1v1h-1zM54 94h1v1h-1zM6 95h1v1h-1zM61 95h1v1h-1zM8 96h1v1h-1zM15 96h1v1h-1zM59 96h1v1h-1zM12 97h1v1h-1zM6 98h1v1h-1zM12 98h2v1h-2zM0 101h1v1h-1zM20 103h1v1h-1zM0 104h1v1h-1zM5 105h1v1h-1zM17 106h1v1h-1zM23 106h1v1h-1zM12 107h1v1h-1zM59 107h1v1h-1zM0 111h1v1h-1zM25 111h1v1h-1zM0 112h1v1h-1zM63 112h1v1h-1zM0 114h1v1h-1zM46 114h1v1h-1zM59 114h1v1h-1zM65 114h1v1h-1zM10 115h1v1h-1zM61 116h1v1h-1zM59 117h1v1h-1zM13 118h1v1h-1zM45 122h1v1h-1zM0 124h1v1h-1zM60 124h1v1h-1zM65 124h1v1h-1zM10 125h1v1h-1zM20 125h1v1h-1zM48 125h1v1h-1zM58 125h1v1h-1zM0 127h1v1h-1zM56 127h1v1h-1zM59 127h1v1h-1zM63 127h1v1h-1zM1 128h1v1h-1zM0 132h2v1h-2zM20 134h1v1h-1zM58 135h1v1h-1zM65 135h1v1h-1zM10 136h2v1h-2zM17 136h1v1h-1zM49 137h1v1h-1zM55 137h1v1h-1zM65 137h1v1h-1zM9 138h1v1h-1zM56 138h1v1h-1zM9 139h1v1h-1zM0 140h1v1h-1zM46 143h1v1h-1zM63 143h1v1h-1zM5 144h1v1h-1zM7 144h1v1h-1zM46 144h1v1h-1zM60 144h1v1h-1zM61 145h1v1h-1zM65 146h1v1h-1zM17 147h1v1h-1zM65 153h1v1h-1zM18 155h1v1h-1zM60 156h1v1h-1zM18 157h1v1h-1z"/>
<path fill="#3c5aa8" d="M31 16h1v1h-1zM31 17h1v1h-1zM29 21h1v1h-1zM36 27h1v1h-1zM16 32h1v1h-1zM35 33h1v1h-1zM37 38h1v1h-1zM1 39h1v1h-1zM38 44h1v1h-1zM39 47h1v1h-1zM1 49h1v1h-1zM24 50h1v1h-1zM14 51h1v1h-1zM25 60h1v1h-1zM27 63h1v1h-1zM28 65h1v1h-1zM35 65h1v1h-1zM38 65h1v1h-1zM39 67h1v1h-1zM42 67h1v1h-1zM20 69h1v1h-1zM50 69h1v1h-1zM36 74h1v1h-1zM42 74h1v1h-1zM43 76h1v1h-1zM16 77h1v1h-1zM42 77h1v1h-1zM29 78h1v1h-1zM37 78h1v1h-1zM1 79h1v1h-1zM11 80h1v1h-1zM8 81h1v1h-1zM20 81h1v1h-1zM37 81h1v1h-1zM40 81h1v1h-1zM39 82h1v1h-1zM50 87h1v1h-1zM60 88h1v1h-1zM19 89h1v1h-1zM54 89h1v1h-1zM62 89h1v1h-1zM55 90h1v1h-1zM1 91h1v1h-1zM61 91h1v1h-1zM6 92h1v1h-1zM50 92h1v1h-1zM50 93h1v1h-1zM29 94h1v1h-1zM12 96h1v1h-1zM2 97h1v1h-1zM21 97h1v1h-1zM14 98h1v1h-1zM51 98h1v1h-1zM66 98h1v1h-1zM45 99h1v1h-1zM56 99h1v1h-1zM46 100h1v1h-1zM53 100h1v1h-1zM63 100h1v1h-1zM40 101h1v1h-1zM15 102h2v1h-2zM18 102h1v1h-1zM40 102h1v1h-1zM15 103h1v1h-1zM57 104h1v1h-1zM39 105h1v1h-1zM21 107h1v1h-1zM4 109h1v1h-1zM60 111h1v1h-1zM23 112h1v1h-1zM43 112h1v1h-1zM58 112h1v1h-1zM6 113h1v1h-1zM14 113h1v1h-1zM18 113h1v1h-1zM53 113h1v1h-1zM52 114h1v1h-1zM23 115h1v1h-1zM26 115h1v1h-1zM52 116h1v1h-1zM58 117h1v1h-1zM15 118h1v1h-1zM44 119h1v1h-1zM2 120h1v1h-1zM18 121h1v1h-1zM41 121h1v1h-1zM60 121h1v1h-1zM38 122h1v1h-1zM56 122h1v1h-1zM50 123h1v1h-1zM53 123h1v1h-1zM24 125h1v1h-1zM21 126h1v1h-1zM61 127h1v1h-1zM12 128h1v1h-1zM44 129h1v1h-1zM55 130h1v1h-1zM7 131h1v1h-1zM11 131h1v1h-1zM63 131h1v1h-1zM26 132h1v1h-1zM43 132h1v1h-1zM53 132h1v1h-1zM57 132h1v1h-1zM15 133h1v1h-1zM16 134h1v1h-1zM41 134h1v1h-1zM57 134h1v1h-1zM8 135h1v1h-1zM16 135h1v1h-1zM24 135h1v1h-1zM52 136h1v1h-1zM14 137h1v1h-1zM19 137h2v1h-2zM56 139h1v1h-1zM58 139h1v1h-1zM5 141h1v1h-1zM11 141h1v1h-1zM46 141h1v1h-1zM63 141h1v1h-1zM49 142h1v1h-1zM36 143h1v1h-1zM50 143h1v1h-1zM22 144h1v1h-1zM24 144h1v1h-1zM21 145h1v1h-1zM41 145h1v1h-1zM5 146h1v1h-1zM24 146h1v1h-1zM47 146h1v1h-1zM21 147h1v1h-1zM6 148h1v1h-1zM53 148h1v1h-1zM57 148h1v1h-1zM21 149h1v1h-1zM18 151h1v1h-1zM59 151h1v1h-1zM53 152h1v1h-1zM58 152h1v1h-1zM50 153h1v1h-1zM8 154h1v1h-1zM23 156h1v1h-1zM41 156h1v1h-1zM11 157h1v1h-1zM13 159h1v1h-1zM46 159h1v1h-1zM3 160h1v1h-1zM65 160h1v1h-1z"/>
<path fill="#344ba0" d="M34 17h1v1h-1zM25 29h1v1h-1zM42 30h1v1h-1zM32 36h1v1h-1zM34 36h1v1h-1zM28 38h1v1h-1zM56 39h1v1h-1zM14 40h1v1h-1zM36 51h1v1h-1zM31 56h1v1h-1zM27 61h1v1h-1zM31 62h1v1h-1zM27 71h1v1h-1zM27 78h1v1h-1zM31 78h1v1h-1zM60 79h1v1h-1zM66 79h1v1h-1zM28 84h1v1h-1zM28 85h1v1h-1zM42 85h1v1h-1zM42 86h1v1h-1zM24 87h1v1h-1zM42 88h1v1h-1zM7 90h1v1h-1zM12 90h1v1h-1zM23 90h1v1h-1zM26 91h1v1h-1zM37 94h1v1h-1zM42 94h1v1h-1zM28 96h2v1h-2zM1 99h1v1h-1zM6 99h1v1h-1zM47 99h1v1h-1zM24 100h1v1h-1zM38 100h1v1h-1zM43 100h1v1h-1zM61 100h1v1h-1zM14 101h1v1h-1zM39 101h1v1h-1zM40 104h1v1h-1zM24 107h1v1h-1zM47 108h1v1h-1zM57 109h1v1h-1zM29 112h1v1h-1zM42 113h1v1h-1zM25 118h1v1h-1zM5 119h1v1h-1zM12 119h1v1h-1zM58 119h1v1h-1zM21 120h1v1h-1zM49 120h1v1h-1zM20 121h1v1h-1zM30 122h1v1h-1zM39 122h1v1h-1zM52 122h1v1h-1zM39 124h1v1h-1zM38 128h1v1h-1zM50 128h1v1h-1zM11 129h1v1h-1zM23 130h1v1h-1zM59 130h1v1h-1zM24 132h1v1h-1zM43 137h1v1h-1zM42 138h1v1h-1zM7 139h1v1h-1zM8 140h1v1h-1zM37 140h1v1h-1zM43 141h1v1h-1zM30 142h1v1h-1zM42 143h1v1h-1zM40 144h1v1h-1zM29 145h1v1h-1zM40 145h1v1h-1zM38 148h1v1h-1zM5 149h1v1h-1zM11 149h1v1h-1zM53 150h1v1h-1zM59 150h1v1h-1zM14 151h1v1h-1zM24 151h1v1h-1zM40 151h1v1h-1zM47 151h1v1h-1zM39 152h1v1h-1zM38 153h1v1h-1zM16 156h1v1h-1zM39 156h1v1h-1zM47 157h1v1h-1zM16 158h1v1h-1zM42 158h1v1h-1zM66 158h1v1h-1zM53 159h1v1h-1zM63 160h1v1h-1z"/>
<path fill="#3c5daa" d="M40 17h1v1h-1zM32 18h1v1h-1zM28 21h1v1h-1zM27 23h1v1h-1zM31 26h1v1h-1zM38 26h1v1h-1zM40 28h1v1h-1zM24 29h1v1h-1zM28 32h1v1h-1zM6 39h1v1h-1zM21 40h1v1h-1zM28 44h1v1h-1zM19 48h1v1h-1zM24 48h1v1h-1zM42 48h1v1h-1zM15 49h1v1h-1zM51 50h1v1h-1zM42 51h1v1h-1zM31 53h1v1h-1zM48 54h1v1h-1zM38 55h1v1h-1zM36 56h1v1h-1zM42 57h1v1h-1zM27 58h1v1h-1zM11 59h1v1h-1zM61 59h1v1h-1zM24 60h1v1h-1zM39 61h1v1h-1zM42 61h1v1h-1zM37 68h1v1h-1zM47 68h1v1h-1zM37 73h1v1h-1zM38 74h1v1h-1zM14 78h1v1h-1zM26 78h1v1h-1zM46 79h1v1h-1zM63 79h1v1h-1zM38 81h1v1h-1zM41 81h1v1h-1zM37 82h1v1h-1zM22 84h2v1h-2zM51 87h1v1h-1zM18 90h1v1h-1zM51 91h1v1h-1zM23 92h1v1h-1zM26 92h1v1h-1zM9 93h1v1h-1zM43 93h1v1h-1zM26 95h1v1h-1zM19 97h1v1h-1zM30 97h1v1h-1zM22 99h1v1h-1zM57 99h1v1h-1zM12 100h1v1h-1zM15 101h1v1h-1zM8 102h1v1h-1zM14 102h1v1h-1zM22 102h1v1h-1zM50 102h1v1h-1zM14 103h1v1h-1zM26 103h1v1h-1zM44 104h1v1h-1zM57 105h1v1h-1zM57 106h1v1h-1zM58 107h1v1h-1zM44 108h1v1h-1zM57 108h1v1h-1zM60 108h1v1h-1zM3 110h1v1h-1zM15 113h1v1h-1zM54 113h1v1h-1zM30 114h1v1h-1zM48 114h1v1h-1zM14 117h1v1h-1zM25 117h1v1h-1zM4 119h1v1h-1zM13 119h1v1h-1zM9 121h1v1h-1zM53 121h1v1h-1zM63 121h1v1h-1zM43 122h1v1h-1zM6 123h1v1h-1zM36 123h1v1h-1zM22 128h1v1h-1zM44 128h1v1h-1zM57 128h1v1h-1zM1 129h1v1h-1zM13 129h1v1h-1zM59 129h1v1h-1zM1 131h2v1h-2zM18 131h1v1h-1zM53 131h1v1h-1zM8 132h1v1h-1zM12 132h1v1h-1zM6 133h1v1h-1zM6 134h1v1h-1zM24 134h1v1h-1zM14 135h1v1h-1zM19 136h1v1h-1zM23 137h1v1h-1zM44 137h1v1h-1zM48 138h1v1h-1zM18 139h1v1h-1zM53 139h1v1h-1zM18 140h2v1h-2zM7 141h1v1h-1zM61 142h1v1h-1zM9 143h1v1h-1zM14 143h1v1h-1zM30 145h1v1h-1zM19 146h1v1h-1zM21 146h1v1h-1zM20 147h1v1h-1zM23 147h1v1h-1zM52 147h1v1h-1zM18 148h1v1h-1zM3 149h1v1h-1zM7 151h1v1h-1zM18 152h1v1h-1zM46 152h1v1h-1zM51 152h1v1h-1zM8 153h1v1h-1zM36 153h1v1h-1zM6 154h1v1h-1zM44 155h1v1h-1zM5 156h1v1h-1zM57 157h1v1h-1zM66 157h1v1h-1zM18 158h1v1h-1zM44 158h1v1h-1zM21 159h1v1h-1zM59 159h1v1h-1zM18 160h1v1h-1z"/>
<path fill="#2e3f99" d="M29 18h1v1h-1zM34 32h1v1h-1zM23 40h1v1h-1zM27 40h1v1h-1zM29 40h1v1h-1zM28 49h1v1h-1zM28 52h1v1h-1zM36 60h1v1h-1zM35 72h1v1h-1zM52 79h1v1h-1zM6 80h1v1h-1zM29 80h1v1h-1zM19 87h1v1h-1zM29 88h1v1h-1zM15 90h1v1h-1zM22 90h1v1h-1zM39 91h1v1h-1zM38 95h1v1h-1zM43 95h1v1h-1zM42 96h1v1h-1zM24 97h1v1h-1zM29 99h1v1h-1zM37 100h1v1h-1zM21 103h1v1h-1zM27 105h2v1h-2zM43 106h1v1h-1zM14 109h1v1h-1zM47 109h1v1h-1zM12 110h1v1h-1zM30 111h1v1h-1zM42 115h1v1h-1zM49 119h1v1h-1zM14 121h1v1h-1zM28 125h1v1h-1zM42 125h2v1h-2zM37 126h2v1h-2zM42 126h1v1h-1zM47 130h1v1h-1zM49 130h1v1h-1zM63 130h1v1h-1zM22 131h1v1h-1zM29 132h1v1h-1zM21 133h1v1h-1zM40 134h1v1h-1zM43 135h1v1h-1zM38 137h1v1h-1zM38 139h1v1h-1zM16 140h1v1h-1zM47 140h1v1h-1zM50 140h1v1h-1zM29 142h1v1h-1zM39 143h1v1h-1zM38 146h1v1h-1zM27 147h1v1h-1zM37 147h1v1h-1zM43 147h1v1h-1zM16 148h1v1h-1zM47 148h1v1h-1zM45 149h1v1h-1zM21 150h1v1h-1zM63 150h1v1h-1zM22 151h1v1h-1zM39 154h2v1h-2zM36 156h1v1h-1zM38 156h1v1h-1zM7 159h1v1h-1z"/>
<path fill="#3c58a7" d="M27 19h1v1h-1zM34 20h1v1h-1zM34 21h1v1h-1zM34 24h1v1h-1zM48 29h1v1h-1zM31 37h1v1h-1zM1 40h1v1h-1zM61 40h1v1h-1zM35 43h1v1h-1zM36 46h1v1h-1zM47 48h1v1h-1zM49 49h1v1h-1zM51 49h1v1h-1zM5 50h2v1h-2zM15 50h1v1h-1zM0 54h1v1h-1zM31 54h1v1h-1zM40 54h1v1h-1zM42 56h1v1h-1zM15 60h1v1h-1zM14 61h1v1h-1zM30 61h1v1h-1zM28 63h1v1h-1zM40 65h1v1h-1zM42 66h1v1h-1zM11 69h1v1h-1zM14 69h1v1h-1zM6 70h1v1h-1zM36 72h1v1h-1zM39 73h1v1h-1zM28 74h1v1h-1zM40 75h1v1h-1zM39 77h1v1h-1zM12 79h1v1h-1zM53 79h1v1h-1zM53 80h1v1h-1zM63 80h1v1h-1zM16 81h1v1h-1zM52 81h1v1h-1zM36 82h1v1h-1zM42 82h1v1h-1zM59 82h1v1h-1zM37 83h1v1h-1zM39 84h1v1h-1zM43 84h1v1h-1zM14 86h1v1h-1zM40 86h1v1h-1zM26 87h1v1h-1zM30 87h1v1h-1zM43 88h1v1h-1zM46 89h1v1h-1zM19 90h1v1h-1zM21 90h1v1h-1zM23 91h1v1h-1zM14 93h1v1h-1zM16 94h1v1h-1zM44 96h1v1h-1zM22 98h1v1h-1zM43 98h1v1h-1zM58 99h1v1h-1zM37 101h1v1h-1zM16 103h1v1h-1zM23 103h1v1h-1zM16 105h1v1h-1zM25 106h2v1h-2zM37 106h1v1h-1zM52 106h1v1h-1zM50 107h1v1h-1zM5 109h1v1h-1zM59 109h1v1h-1zM23 111h1v1h-1zM41 111h1v1h-1zM63 111h1v1h-1zM26 112h1v1h-1zM40 112h1v1h-1zM47 112h1v1h-1zM26 114h1v1h-1zM13 116h1v1h-1zM41 117h1v1h-1zM53 118h1v1h-1zM54 119h1v1h-1zM62 119h1v1h-1zM7 121h1v1h-1zM13 121h1v1h-1zM21 121h1v1h-1zM23 121h1v1h-1zM56 121h1v1h-1zM53 122h1v1h-1zM15 124h1v1h-1zM52 124h1v1h-1zM16 125h1v1h-1zM26 125h1v1h-1zM41 126h1v1h-1zM44 126h1v1h-1zM48 128h1v1h-1zM60 128h1v1h-1zM13 130h1v1h-1zM60 131h1v1h-1zM9 132h1v1h-1zM18 132h1v1h-1zM40 132h1v1h-1zM18 133h1v1h-1zM53 133h2v1h-2zM57 133h1v1h-1zM15 134h1v1h-1zM41 137h1v1h-1zM8 139h1v1h-1zM22 139h1v1h-1zM59 139h1v1h-1zM63 139h1v1h-1zM49 140h1v1h-1zM48 141h1v1h-1zM8 142h1v1h-1zM47 142h1v1h-1zM16 143h1v1h-1zM43 143h1v1h-1zM54 143h1v1h-1zM14 144h1v1h-1zM25 144h1v1h-1zM57 144h1v1h-1zM14 145h1v1h-1zM52 145h1v1h-1zM57 146h1v1h-1zM30 147h1v1h-1zM41 147h1v1h-1zM51 147h1v1h-1zM21 148h1v1h-1zM46 149h1v1h-1zM62 150h1v1h-1zM2 151h1v1h-1zM5 151h1v1h-1zM9 151h1v1h-1zM44 151h1v1h-1zM22 152h1v1h-1zM38 152h1v1h-1zM49 152h1v1h-1zM56 152h1v1h-1zM29 153h1v1h-1zM41 153h1v1h-1zM52 153h1v1h-1zM44 154h1v1h-1zM21 157h1v1h-1zM21 158h1v1h-1zM60 158h1v1h-1zM59 160h1v1h-1z"/>
<path fill="#354ca1" d="M32 19h1v1h-1zM26 30h1v1h-1zM32 32h1v1h-1zM31 46h1v1h-1zM40 48h1v1h-1zM29 49h1v1h-1zM31 55h1v1h-1zM27 60h1v1h-1zM31 68h1v1h-1zM38 79h1v1h-1zM64 80h1v1h-1zM43 86h1v1h-1zM25 88h2v1h-2zM43 89h1v1h-1zM11 90h1v1h-1zM63 90h1v1h-1zM16 91h1v1h-1zM21 91h1v1h-1zM47 91h1v1h-1zM21 93h1v1h-1zM27 94h1v1h-1zM38 94h1v1h-1zM43 97h1v1h-1zM24 98h1v1h-1zM26 98h1v1h-1zM7 100h1v1h-1zM60 100h1v1h-1zM8 101h1v1h-1zM36 102h1v1h-1zM39 103h1v1h-1zM38 107h1v1h-1zM42 107h1v1h-1zM16 108h1v1h-1zM11 109h1v1h-1zM43 109h1v1h-1zM49 109h1v1h-1zM8 111h1v1h-1zM16 111h1v1h-1zM22 111h1v1h-1zM21 112h1v1h-1zM27 113h1v1h-1zM38 113h1v1h-1zM27 114h1v1h-1zM43 114h1v1h-1zM27 117h1v1h-1zM29 117h1v1h-1zM38 118h1v1h-1zM64 119h1v1h-1zM37 121h1v1h-1zM21 122h1v1h-1zM36 125h1v1h-1zM36 126h1v1h-1zM47 128h1v1h-1zM12 129h1v1h-1zM12 131h1v1h-1zM26 131h1v1h-1zM21 132h1v1h-1zM30 132h1v1h-1zM42 133h1v1h-1zM21 134h1v1h-1zM42 134h1v1h-1zM22 137h1v1h-1zM22 140h1v1h-1zM61 140h1v1h-1zM52 141h1v1h-1zM21 142h1v1h-1zM36 142h1v1h-1zM42 142h1v1h-1zM52 142h1v1h-1zM15 143h1v1h-1zM22 145h1v1h-1zM26 145h1v1h-1zM37 145h1v1h-1zM39 146h1v1h-1zM47 147h1v1h-1zM61 148h1v1h-1zM19 149h1v1h-1zM11 150h1v1h-1zM20 151h2v1h-2zM37 151h1v1h-1zM43 151h1v1h-1zM50 151h1v1h-1zM27 154h1v1h-1zM37 155h1v1h-1zM52 157h1v1h-1zM30 158h1v1h-1zM11 159h1v1h-1zM43 159h1v1h-1zM58 159h1v1h-1zM65 159h1v1h-1zM57 160h1v1h-1zM64 160h1v1h-1z"/>
<path fill="#374fa2" d="M34 19h1v1h-1zM27 20h1v1h-1zM40 30h1v1h-1zM35 32h1v1h-1zM24 40h2v1h-2zM49 40h1v1h-1zM61 49h1v1h-1zM27 59h1v1h-1zM45 69h1v1h-1zM47 69h1v1h-1zM7 70h1v1h-1zM31 72h1v1h-1zM14 79h1v1h-1zM22 80h1v1h-1zM24 80h1v1h-1zM43 80h1v1h-1zM18 81h1v1h-1zM30 81h1v1h-1zM21 83h1v1h-1zM21 85h1v1h-1zM43 85h1v1h-1zM27 86h1v1h-1zM50 88h1v1h-1zM58 88h1v1h-1zM64 90h1v1h-1zM6 91h1v1h-1zM14 91h1v1h-1zM38 91h1v1h-1zM1 92h1v1h-1zM37 95h1v1h-1zM37 96h1v1h-1zM38 98h1v1h-1zM60 99h1v1h-1zM22 100h1v1h-1zM57 100h1v1h-1zM22 101h1v1h-1zM26 101h1v1h-1zM21 102h1v1h-1zM37 102h1v1h-1zM38 103h1v1h-1zM27 104h1v1h-1zM42 108h1v1h-1zM63 109h1v1h-1zM21 110h1v1h-1zM21 111h1v1h-1zM37 111h1v1h-1zM52 112h1v1h-1zM22 116h1v1h-1zM28 116h1v1h-1zM50 116h1v1h-1zM22 117h1v1h-1zM24 117h1v1h-1zM21 119h2v1h-2zM65 119h1v1h-1zM45 120h1v1h-1zM53 120h1v1h-1zM11 121h1v1h-1zM61 124h1v1h-1zM54 128h1v1h-1zM5 129h1v1h-1zM22 129h1v1h-1zM53 129h1v1h-1zM57 129h1v1h-1zM54 130h1v1h-1zM37 131h1v1h-1zM37 132h1v1h-1zM38 133h1v1h-1zM14 136h1v1h-1zM24 136h1v1h-1zM26 136h1v1h-1zM27 137h1v1h-1zM11 138h1v1h-1zM26 138h1v1h-1zM38 138h1v1h-1zM14 139h2v1h-2zM47 139h1v1h-1zM57 140h1v1h-1zM6 141h1v1h-1zM8 141h1v1h-1zM23 141h1v1h-1zM37 141h1v1h-1zM57 141h1v1h-1zM24 143h1v1h-1zM23 148h1v1h-1zM18 149h1v1h-1zM57 149h1v1h-1zM64 150h1v1h-1zM54 151h1v1h-1zM9 152h1v1h-1zM14 152h1v1h-1zM24 152h1v1h-1zM42 152h1v1h-1zM47 152h1v1h-1zM30 153h1v1h-1zM43 154h1v1h-1zM37 156h1v1h-1zM23 158h1v1h-1zM26 158h1v1h-1zM43 158h1v1h-1zM56 160h1v1h-1z"/>
<path fill="#3a55a5" d="M28 20h1v1h-1zM31 21h1v1h-1zM39 28h1v1h-1zM29 39h1v1h-1zM35 45h1v1h-1zM42 46h1v1h-1zM27 48h1v1h-1zM25 50h1v1h-1zM26 55h1v1h-1zM40 55h1v1h-1zM41 59h1v1h-1zM36 61h1v1h-1zM43 61h1v1h-1zM21 65h1v1h-1zM36 65h1v1h-1zM35 66h1v1h-1zM35 67h1v1h-1zM24 68h1v1h-1zM35 75h1v1h-1zM24 78h1v1h-1zM30 82h1v1h-1zM30 83h1v1h-1zM27 85h1v1h-1zM29 85h1v1h-1zM26 86h1v1h-1zM28 86h1v1h-1zM39 86h1v1h-1zM11 88h1v1h-1zM12 89h1v1h-1zM1 90h1v1h-1zM21 92h1v1h-1zM24 92h1v1h-1zM40 93h1v1h-1zM21 94h1v1h-1zM36 95h1v1h-1zM52 97h1v1h-1zM23 98h1v1h-1zM25 98h1v1h-1zM53 99h1v1h-1zM64 99h1v1h-1zM5 100h1v1h-1zM66 100h1v1h-1zM20 101h1v1h-1zM24 101h1v1h-1zM43 101h1v1h-1zM24 103h1v1h-1zM42 103h2v1h-2zM23 104h1v1h-1zM52 107h1v1h-1zM11 108h1v1h-1zM61 108h1v1h-1zM19 109h1v1h-1zM18 110h2v1h-2zM24 111h1v1h-1zM8 112h1v1h-1zM38 112h1v1h-1zM54 112h1v1h-1zM29 114h1v1h-1zM52 117h1v1h-1zM55 119h1v1h-1zM16 121h1v1h-1zM8 122h1v1h-1zM52 123h1v1h-1zM23 125h1v1h-1zM25 126h2v1h-2zM26 127h1v1h-1zM11 128h1v1h-1zM21 128h1v1h-1zM56 129h1v1h-1zM23 131h2v1h-2zM14 132h1v1h-1zM22 132h1v1h-1zM36 132h1v1h-1zM26 134h1v1h-1zM36 134h1v1h-1zM44 136h1v1h-1zM30 137h1v1h-1zM64 139h1v1h-1zM21 140h1v1h-1zM54 141h1v1h-1zM38 142h1v1h-1zM14 147h1v1h-1zM55 150h1v1h-1zM11 151h1v1h-1zM46 151h1v1h-1zM63 151h1v1h-1zM50 152h1v1h-1zM6 153h1v1h-1zM15 153h1v1h-1zM43 153h1v1h-1zM30 154h1v1h-1zM24 155h1v1h-1zM26 157h1v1h-1zM44 157h1v1h-1zM11 158h1v1h-1zM18 159h1v1h-1zM22 159h1v1h-1zM1 160h1v1h-1zM54 160h2v1h-2z"/>
<path fill="#30429b" d="M30 23h1v1h-1zM32 28h1v1h-1zM35 31h1v1h-1zM16 39h1v1h-1zM41 39h1v1h-1zM35 42h1v1h-1zM36 47h1v1h-1zM41 50h1v1h-1zM36 59h1v1h-1zM42 60h1v1h-1zM25 69h1v1h-1zM29 70h1v1h-1zM39 78h1v1h-1zM7 80h1v1h-1zM25 80h1v1h-1zM39 81h1v1h-1zM23 87h1v1h-1zM14 89h1v1h-1zM47 89h1v1h-1zM49 89h1v1h-1zM29 92h1v1h-1zM28 95h1v1h-1zM27 96h1v1h-1zM30 98h1v1h-1zM37 98h1v1h-1zM24 99h1v1h-1zM15 100h1v1h-1zM50 100h1v1h-1zM37 103h1v1h-1zM27 106h1v1h-1zM45 109h1v1h-1zM23 110h1v1h-1zM47 111h1v1h-1zM37 112h1v1h-1zM39 114h1v1h-1zM28 115h1v1h-1zM36 115h1v1h-1zM27 116h1v1h-1zM29 116h1v1h-1zM40 117h1v1h-1zM7 119h1v1h-1zM5 120h1v1h-1zM23 120h1v1h-1zM50 121h1v1h-1zM28 126h1v1h-1zM27 127h1v1h-1zM37 127h1v1h-1zM42 127h1v1h-1zM26 128h1v1h-1zM7 129h1v1h-1zM43 129h1v1h-1zM42 131h1v1h-1zM19 132h1v1h-1zM39 133h1v1h-1zM61 133h1v1h-1zM27 136h3v1h-3zM38 136h1v1h-1zM42 136h1v1h-1zM37 137h1v1h-1zM40 137h1v1h-1zM30 138h1v1h-1zM43 139h1v1h-1zM50 139h1v1h-1zM60 139h1v1h-1zM14 140h2v1h-2zM38 140h1v1h-1zM24 142h1v1h-1zM40 143h1v1h-1zM37 144h1v1h-1zM28 145h1v1h-1zM29 146h1v1h-1zM42 146h1v1h-1zM39 147h1v1h-1zM12 149h1v1h-1zM63 149h2v1h-2zM49 150h1v1h-1zM37 152h1v1h-1zM27 155h1v1h-1zM36 155h1v1h-1zM24 157h1v1h-1zM63 159h1v1h-1zM12 160h1v1h-1z"/>
<path fill="#3850a3" d="M34 23h1v1h-1zM39 38h1v1h-1zM38 39h1v1h-1zM45 39h1v1h-1zM15 40h1v1h-1zM37 49h1v1h-1zM45 49h1v1h-1zM29 50h1v1h-1zM23 54h1v1h-1zM28 58h1v1h-1zM31 58h1v1h-1zM35 58h1v1h-1zM16 59h1v1h-1zM50 59h1v1h-1zM27 68h1v1h-1zM37 69h1v1h-1zM52 69h1v1h-1zM15 70h1v1h-1zM25 70h1v1h-1zM29 71h1v1h-1zM11 79h1v1h-1zM15 79h1v1h-1zM29 79h1v1h-1zM49 79h1v1h-1zM8 80h1v1h-1zM49 80h2v1h-2zM57 80h1v1h-1zM36 86h1v1h-1zM16 87h1v1h-1zM38 88h1v1h-1zM45 89h1v1h-1zM56 89h1v1h-1zM64 89h1v1h-1zM46 90h1v1h-1zM30 92h1v1h-1zM36 92h1v1h-1zM39 93h1v1h-1zM43 94h1v1h-1zM22 96h1v1h-1zM27 97h1v1h-1zM38 97h1v1h-1zM42 97h1v1h-1zM47 97h1v1h-1zM47 98h1v1h-1zM7 99h1v1h-1zM11 100h1v1h-1zM47 100h1v1h-1zM21 104h1v1h-1zM39 104h1v1h-1zM37 105h1v1h-1zM44 105h1v1h-1zM28 106h1v1h-1zM25 107h1v1h-1zM47 107h1v1h-1zM23 108h1v1h-1zM8 109h1v1h-1zM22 109h1v1h-1zM58 109h1v1h-1zM6 111h1v1h-1zM26 111h1v1h-1zM54 111h1v1h-1zM36 112h1v1h-1zM39 113h2v1h-2zM21 114h1v1h-1zM23 114h1v1h-1zM36 114h1v1h-1zM42 114h1v1h-1zM37 115h1v1h-1zM44 115h1v1h-1zM61 118h1v1h-1zM59 120h1v1h-1zM8 121h1v1h-1zM51 121h1v1h-1zM30 123h1v1h-1zM38 123h1v1h-1zM43 124h1v1h-1zM16 126h1v1h-1zM60 126h1v1h-1zM38 127h1v1h-1zM66 128h1v1h-1zM9 131h1v1h-1zM47 131h1v1h-1zM42 132h1v1h-1zM27 134h1v1h-1zM30 134h1v1h-1zM43 134h1v1h-1zM22 135h1v1h-1zM25 136h1v1h-1zM39 136h1v1h-1zM16 137h1v1h-1zM21 137h1v1h-1zM50 138h1v1h-1zM61 138h1v1h-1zM60 140h1v1h-1zM63 140h1v1h-1zM0 141h1v1h-1zM20 141h1v1h-1zM57 142h1v1h-1zM23 143h1v1h-1zM30 143h1v1h-1zM43 144h1v1h-1zM58 148h1v1h-1zM55 149h2v1h-2zM18 150h1v1h-1zM26 152h1v1h-1zM36 152h1v1h-1zM36 154h1v1h-1zM52 156h1v1h-1zM41 158h1v1h-1z"/>
<path fill="#3c59a8" d="M32 26h1v1h-1zM35 27h1v1h-1zM41 28h1v1h-1zM38 30h1v1h-1zM27 31h1v1h-1zM35 34h1v1h-1zM27 38h1v1h-1zM20 39h1v1h-1zM22 40h1v1h-1zM36 42h1v1h-1zM31 43h1v1h-1zM35 44h1v1h-1zM42 45h1v1h-1zM16 48h1v1h-1zM12 50h1v1h-1zM37 50h1v1h-1zM39 51h1v1h-1zM47 51h1v1h-1zM27 52h1v1h-1zM35 54h1v1h-1zM42 54h1v1h-1zM16 57h1v1h-1zM40 57h1v1h-1zM16 58h1v1h-1zM24 59h1v1h-1zM29 59h1v1h-1zM41 60h1v1h-1zM35 64h1v1h-1zM40 64h1v1h-1zM42 64h1v1h-1zM16 68h1v1h-1zM66 69h1v1h-1zM1 70h1v1h-1zM22 70h1v1h-1zM38 70h1v1h-1zM14 71h1v1h-1zM29 72h1v1h-1zM31 73h1v1h-1zM57 73h1v1h-1zM60 73h1v1h-1zM42 76h1v1h-1zM56 79h1v1h-1zM58 79h1v1h-1zM6 81h1v1h-1zM36 84h1v1h-1zM25 86h1v1h-1zM37 86h1v1h-1zM52 86h1v1h-1zM14 88h1v1h-1zM51 88h1v1h-1zM13 89h1v1h-1zM55 89h1v1h-1zM59 89h1v1h-1zM3 90h1v1h-1zM58 90h1v1h-1zM13 91h1v1h-1zM57 92h1v1h-1zM36 93h1v1h-1zM11 95h1v1h-1zM25 95h1v1h-1zM44 95h1v1h-1zM47 96h1v1h-1zM26 97h1v1h-1zM12 99h1v1h-1zM20 99h1v1h-1zM13 100h1v1h-1zM11 101h1v1h-1zM13 101h1v1h-1zM57 101h1v1h-1zM20 102h1v1h-1zM23 102h1v1h-1zM6 104h1v1h-1zM36 104h1v1h-1zM39 106h1v1h-1zM13 109h1v1h-1zM54 109h1v1h-1zM11 111h1v1h-1zM22 112h1v1h-1zM49 112h1v1h-1zM50 113h1v1h-1zM57 113h1v1h-1zM11 118h1v1h-1zM21 118h1v1h-1zM48 118h1v1h-1zM59 119h1v1h-1zM62 120h1v1h-1zM46 121h1v1h-1zM15 122h1v1h-1zM20 122h1v1h-1zM22 122h1v1h-1zM57 122h1v1h-1zM25 124h1v1h-1zM25 125h1v1h-1zM5 126h1v1h-1zM19 126h1v1h-1zM57 126h1v1h-1zM14 127h1v1h-1zM20 127h1v1h-1zM30 127h1v1h-1zM6 128h1v1h-1zM20 128h1v1h-1zM61 131h1v1h-1zM20 132h1v1h-1zM8 133h1v1h-1zM29 133h1v1h-1zM39 135h1v1h-1zM50 137h1v1h-1zM14 138h1v1h-1zM51 138h1v1h-1zM57 139h1v1h-1zM61 141h1v1h-1zM6 142h1v1h-1zM12 142h1v1h-1zM22 142h1v1h-1zM50 142h1v1h-1zM56 142h1v1h-1zM18 143h1v1h-1zM41 143h1v1h-1zM52 144h1v1h-1zM58 147h1v1h-1zM11 148h1v1h-1zM22 148h1v1h-1zM4 149h1v1h-1zM44 149h1v1h-1zM59 149h1v1h-1zM2 150h1v1h-1zM15 152h1v1h-1zM23 152h1v1h-1zM53 153h1v1h-1zM56 155h2v1h-2zM58 157h1v1h-1zM12 158h1v1h-1z"/>
<path fill="#364ea1" d="M34 26h1v1h-1zM42 29h1v1h-1zM41 30h1v1h-1zM31 32h1v1h-1zM32 34h1v1h-1zM47 37h1v1h-1zM31 38h1v1h-1zM37 39h1v1h-1zM7 40h1v1h-1zM27 41h1v1h-1zM16 50h1v1h-1zM29 51h1v1h-1zM31 57h1v1h-1zM36 57h1v1h-1zM40 68h1v1h-1zM19 70h1v1h-1zM42 71h1v1h-1zM57 71h1v1h-1zM20 79h1v1h-1zM45 79h1v1h-1zM20 80h1v1h-1zM29 81h1v1h-1zM27 82h1v1h-1zM38 86h1v1h-1zM29 87h1v1h-1zM39 87h1v1h-1zM16 88h1v1h-1zM8 89h1v1h-1zM45 90h1v1h-1zM22 91h1v1h-1zM50 91h1v1h-1zM40 95h1v1h-1zM39 97h2v1h-2zM29 98h1v1h-1zM42 98h1v1h-1zM51 101h1v1h-1zM29 102h1v1h-1zM52 102h1v1h-1zM22 106h1v1h-1zM40 106h1v1h-1zM30 108h1v1h-1zM38 108h1v1h-1zM54 108h1v1h-1zM65 110h2v1h-2zM43 111h1v1h-1zM24 112h1v1h-1zM30 112h1v1h-1zM42 112h1v1h-1zM16 115h1v1h-1zM40 115h1v1h-1zM40 116h1v1h-1zM26 117h1v1h-1zM51 118h1v1h-1zM58 118h1v1h-1zM18 119h1v1h-1zM40 121h1v1h-1zM47 121h1v1h-1zM22 125h1v1h-1zM37 125h1v1h-1zM27 126h1v1h-1zM43 127h1v1h-1zM63 129h1v1h-1zM46 130h1v1h-1zM39 132h1v1h-1zM40 133h1v1h-1zM42 137h1v1h-1zM47 137h1v1h-1zM23 138h1v1h-1zM25 138h1v1h-1zM23 139h1v1h-1zM11 140h1v1h-1zM12 141h1v1h-1zM26 141h1v1h-1zM9 142h1v1h-1zM39 142h1v1h-1zM21 144h1v1h-1zM23 144h1v1h-1zM27 144h1v1h-1zM39 144h1v1h-1zM43 145h1v1h-1zM16 146h1v1h-1zM40 146h1v1h-1zM16 147h1v1h-1zM38 147h1v1h-1zM20 148h1v1h-1zM50 148h1v1h-1zM22 149h1v1h-1zM1 150h1v1h-1zM15 151h1v1h-1zM23 153h1v1h-1zM39 153h1v1h-1zM42 153h1v1h-1zM21 154h1v1h-1zM24 156h1v1h-1zM27 156h1v1h-1zM16 157h1v1h-1zM40 157h1v1h-1zM25 158h1v1h-1zM47 158h1v1h-1zM6 159h1v1h-1zM45 159h1v1h-1z"/>
<path fill="#282c82" d="M37 28h1v1h-1zM35 29h1v1h-1zM35 41h1v1h-1zM26 49h1v1h-1zM30 60h1v1h-1zM35 61h1v1h-1zM36 67h1v1h-1zM31 71h1v1h-1zM39 88h2v1h-2zM25 97h1v1h-1zM36 98h1v1h-1zM16 99h1v1h-1zM27 102h1v1h-1zM43 105h1v1h-1zM6 110h1v1h-1zM28 113h1v1h-1zM38 116h1v1h-1zM27 118h1v1h-1zM38 119h1v1h-1zM22 120h1v1h-1zM51 120h1v1h-1zM60 120h1v1h-1zM36 127h1v1h-1zM37 128h1v1h-1zM38 129h1v1h-1zM7 130h1v1h-1zM60 130h2v1h-2zM51 131h1v1h-1zM37 134h1v1h-1zM37 138h1v1h-1zM28 144h1v1h-1zM6 149h2v1h-2zM16 150h1v1h-1zM20 150h1v1h-1zM37 154h1v1h-1zM8 160h1v1h-1zM16 160h1v1h-1z"/>
<path fill="#2a3692" d="M26 29h1v1h-1zM34 33h1v1h-1zM34 34h1v1h-1zM48 39h1v1h-1zM48 40h1v1h-1zM31 45h1v1h-1zM36 50h1v1h-1zM31 59h1v1h-1zM31 60h1v1h-1zM48 69h1v1h-1zM36 77h1v1h-1zM35 78h1v1h-1zM40 78h1v1h-1zM16 80h1v1h-1zM27 81h1v1h-1zM28 82h1v1h-1zM47 87h1v1h-1zM24 88h1v1h-1zM52 88h1v1h-1zM20 89h1v1h-1zM51 89h1v1h-1zM20 90h1v1h-1zM50 90h1v1h-1zM57 90h1v1h-1zM60 90h1v1h-1zM52 91h1v1h-1zM27 98h1v1h-1zM44 98h1v1h-1zM14 100h1v1h-1zM30 101h1v1h-1zM28 104h1v1h-1zM42 105h1v1h-1zM29 106h1v1h-1zM39 107h1v1h-1zM37 108h1v1h-1zM51 109h1v1h-1zM8 110h1v1h-1zM52 111h1v1h-1zM30 118h1v1h-1zM15 120h1v1h-1zM27 123h1v1h-1zM28 124h1v1h-1zM37 124h1v1h-1zM40 124h1v1h-1zM24 127h1v1h-1zM16 128h1v1h-1zM25 128h1v1h-1zM14 129h1v1h-1zM47 129h1v1h-1zM8 130h1v1h-1zM43 130h1v1h-1zM30 131h1v1h-1zM52 131h1v1h-1zM28 134h1v1h-1zM37 135h1v1h-1zM29 138h1v1h-1zM52 138h1v1h-1zM24 139h1v1h-1zM41 139h1v1h-1zM43 140h1v1h-1zM29 147h1v1h-1zM40 147h1v1h-1zM15 149h1v1h-1zM49 149h1v1h-1zM12 150h1v1h-1zM16 151h1v1h-1zM26 151h1v1h-1zM42 151h1v1h-1zM28 155h1v1h-1zM42 156h1v1h-1zM28 157h1v1h-1zM38 158h1v1h-1zM38 159h1v1h-1zM38 160h1v1h-1zM47 160h1v1h-1zM61 160h1v1h-1z"/>
<path fill="#29308b" d="M27 29h1v1h-1zM12 40h1v1h-1zM28 48h1v1h-1zM48 49h1v1h-1zM48 50h1v1h-1zM36 58h1v1h-1zM39 60h1v1h-1zM28 69h1v1h-1zM39 69h1v1h-1zM26 79h2v1h-2zM6 90h1v1h-1zM24 90h1v1h-1zM36 100h1v1h-1zM23 101h1v1h-1zM52 101h1v1h-1zM16 104h1v1h-1zM38 105h1v1h-1zM15 109h1v1h-1zM60 109h1v1h-1zM7 110h1v1h-1zM20 110h1v1h-1zM43 110h1v1h-1zM50 110h1v1h-1zM60 110h1v1h-1zM29 111h1v1h-1zM49 111h1v1h-1zM21 113h1v1h-1zM61 113h1v1h-1zM26 118h1v1h-1zM52 121h1v1h-1zM28 127h1v1h-1zM30 128h1v1h-1zM6 129h1v1h-1zM20 129h1v1h-1zM37 130h1v1h-1zM26 139h1v1h-1zM29 139h1v1h-1zM66 139h1v1h-1zM41 140h1v1h-1zM43 149h1v1h-1zM38 154h1v1h-1zM42 155h1v1h-1zM23 159h1v1h-1zM50 159h1v1h-1zM15 160h1v1h-1zM60 160h1v1h-1z"/>
<path fill="#2b3996" d="M28 29h1v1h-1zM34 35h1v1h-1zM36 48h1v1h-1zM26 50h1v1h-1zM21 62h1v1h-1zM35 68h1v1h-1zM41 69h1v1h-1zM27 70h1v1h-1zM41 70h1v1h-1zM47 79h2v1h-2zM52 80h1v1h-1zM30 88h1v1h-1zM47 90h2v1h-2zM30 91h1v1h-1zM27 92h1v1h-1zM28 93h1v1h-1zM39 98h1v1h-1zM61 99h1v1h-1zM28 103h1v1h-1zM42 106h1v1h-1zM26 108h1v1h-1zM23 109h1v1h-1zM24 110h1v1h-1zM37 113h1v1h-1zM29 118h1v1h-1zM47 118h1v1h-1zM14 119h1v1h-1zM45 119h1v1h-1zM53 119h1v1h-1zM63 120h1v1h-1zM29 126h1v1h-1zM43 126h1v1h-1zM39 127h1v1h-1zM24 128h1v1h-1zM20 130h1v1h-1zM38 135h1v1h-1zM24 137h1v1h-1zM16 138h1v1h-1zM7 140h1v1h-1zM26 140h1v1h-1zM14 141h1v1h-1zM36 146h1v1h-1zM26 148h1v1h-1zM53 149h1v1h-1zM58 149h1v1h-1zM5 150h1v1h-1zM6 151h1v1h-1zM30 151h1v1h-1zM27 153h1v1h-1zM42 154h1v1h-1zM38 155h1v1h-1zM29 157h1v1h-1zM51 159h1v1h-1zM7 160h1v1h-1zM20 160h1v1h-1zM50 160h1v1h-1z"/>
<path fill="#31459d" d="M30 29h1v1h-1zM36 30h1v1h-1zM49 30h1v1h-1zM32 37h1v1h-1zM31 42h1v1h-1zM35 46h1v1h-1zM35 48h1v1h-1zM30 59h1v1h-1zM40 59h1v1h-1zM16 70h1v1h-1zM41 71h1v1h-1zM28 72h1v1h-1zM24 79h1v1h-1zM61 79h1v1h-1zM15 80h1v1h-1zM28 87h1v1h-1zM43 87h1v1h-1zM63 89h1v1h-1zM52 92h1v1h-1zM37 93h1v1h-1zM43 96h1v1h-1zM23 99h1v1h-1zM43 99h1v1h-1zM8 100h1v1h-1zM63 102h1v1h-1zM43 104h1v1h-1zM22 105h1v1h-1zM36 106h1v1h-1zM29 107h1v1h-1zM40 107h1v1h-1zM43 107h1v1h-1zM11 110h1v1h-1zM63 110h1v1h-1zM38 114h1v1h-1zM42 117h1v1h-1zM42 118h1v1h-1zM11 119h1v1h-1zM57 119h1v1h-1zM11 120h1v1h-1zM24 121h1v1h-1zM26 121h1v1h-1zM43 121h1v1h-1zM36 122h2v1h-2zM39 123h1v1h-1zM42 124h1v1h-1zM40 125h1v1h-1zM15 129h1v1h-1zM5 130h1v1h-1zM45 130h1v1h-1zM27 135h1v1h-1zM6 139h1v1h-1zM20 140h1v1h-1zM27 146h1v1h-1zM8 151h1v1h-1zM38 151h1v1h-1zM40 153h1v1h-1zM23 154h1v1h-1zM40 155h1v1h-1zM28 156h1v1h-1zM20 159h1v1h-1zM66 160h1v1h-1z"/>
<path fill="#272a79" d="M31 29h1v1h-1zM35 36h1v1h-1zM42 39h1v1h-1zM28 41h1v1h-1zM30 50h1v1h-1zM35 71h1v1h-1zM40 74h1v1h-1zM41 79h1v1h-1zM36 85h1v1h-1zM37 88h1v1h-1zM24 89h1v1h-1zM50 89h1v1h-1zM61 90h1v1h-1zM27 101h1v1h-1zM27 108h1v1h-1zM29 109h1v1h-1zM22 110h1v1h-1zM61 110h1v1h-1zM28 114h1v1h-1zM37 118h1v1h-1zM15 119h1v1h-1zM50 120h1v1h-1zM36 121h1v1h-1zM37 123h1v1h-1zM39 128h1v1h-1zM16 129h1v1h-1zM27 138h1v1h-1zM61 139h1v1h-1zM21 143h1v1h-1zM38 145h1v1h-1zM27 148h1v1h-1zM48 149h1v1h-1zM39 151h1v1h-1zM29 154h1v1h-1zM43 155h1v1h-1zM36 157h1v1h-1zM24 158h1v1h-1zM37 158h1v1h-1zM48 159h1v1h-1zM6 160h1v1h-1zM25 160h1v1h-1z"/>
<path fill="#2a338e" d="M36 29h1v1h-1zM30 30h1v1h-1zM26 39h1v1h-1zM16 49h1v1h-1zM27 49h1v1h-1zM41 49h1v1h-1zM21 80h1v1h-1zM41 80h1v1h-1zM27 88h1v1h-1zM25 90h1v1h-1zM43 90h1v1h-1zM36 91h1v1h-1zM31 95h1v1h-1zM28 97h1v1h-1zM52 98h1v1h-1zM26 99h1v1h-1zM41 99h2v1h-2zM26 100h1v1h-1zM29 101h1v1h-1zM25 108h1v1h-1zM5 110h1v1h-1zM57 110h1v1h-1zM13 111h1v1h-1zM36 111h1v1h-1zM27 115h1v1h-1zM43 115h1v1h-1zM35 116h1v1h-1zM28 117h1v1h-1zM6 119h1v1h-1zM24 119h1v1h-1zM31 120h1v1h-1zM47 120h1v1h-1zM42 121h1v1h-1zM38 125h1v1h-1zM51 129h1v1h-1zM15 130h1v1h-1zM66 130h1v1h-1zM39 131h1v1h-1zM31 132h1v1h-1zM35 135h1v1h-1zM11 137h1v1h-1zM28 137h2v1h-2zM47 138h1v1h-1zM24 140h1v1h-1zM40 140h1v1h-1zM36 141h1v1h-1zM27 143h1v1h-1zM37 143h1v1h-1zM42 144h1v1h-1zM42 145h1v1h-1zM24 147h1v1h-1zM25 148h1v1h-1zM37 148h1v1h-1zM51 149h1v1h-1zM8 150h1v1h-1zM41 150h1v1h-1zM57 150h1v1h-1zM27 152h1v1h-1zM31 152h1v1h-1zM37 153h1v1h-1zM29 156h1v1h-1zM43 156h1v1h-1zM39 157h1v1h-1zM14 159h2v1h-2zM37 160h1v1h-1z"/>
<path fill="#32489e" d="M27 30h1v1h-1zM29 30h1v1h-1zM31 31h1v1h-1zM32 35h1v1h-1zM43 36h1v1h-1zM45 40h1v1h-1zM43 47h1v1h-1zM31 48h1v1h-1zM40 50h1v1h-1zM53 50h1v1h-1zM31 52h1v1h-1zM35 52h1v1h-1zM48 59h1v1h-1zM31 65h1v1h-1zM28 68h1v1h-1zM26 69h1v1h-1zM26 70h1v1h-1zM36 71h1v1h-1zM31 75h1v1h-1zM31 76h1v1h-1zM31 77h1v1h-1zM47 80h1v1h-1zM61 80h1v1h-1zM38 84h1v1h-1zM38 85h1v1h-1zM27 87h1v1h-1zM40 87h1v1h-1zM6 89h1v1h-1zM23 89h1v1h-1zM57 89h1v1h-1zM51 90h1v1h-1zM66 90h1v1h-1zM27 95h1v1h-1zM36 96h1v1h-1zM29 97h1v1h-1zM48 100h1v1h-1zM37 104h1v1h-1zM38 106h1v1h-1zM24 108h1v1h-1zM66 108h1v1h-1zM12 109h1v1h-1zM20 109h1v1h-1zM64 109h1v1h-1zM44 110h2v1h-2zM14 111h1v1h-1zM30 113h1v1h-1zM37 114h1v1h-1zM38 115h1v1h-1zM37 117h1v1h-1zM39 117h1v1h-1zM43 117h1v1h-1zM50 118h1v1h-1zM43 119h1v1h-1zM63 119h1v1h-1zM54 120h1v1h-1zM22 121h1v1h-1zM21 124h1v1h-1zM27 124h1v1h-1zM66 124h1v1h-1zM29 125h1v1h-1zM57 125h1v1h-1zM40 127h1v1h-1zM64 129h1v1h-1zM21 130h1v1h-1zM53 130h1v1h-1zM57 130h1v1h-1zM64 130h1v1h-1zM6 131h1v1h-1zM14 131h1v1h-1zM52 132h1v1h-1zM39 134h1v1h-1zM29 135h1v1h-1zM40 135h1v1h-1zM39 137h1v1h-1zM30 141h1v1h-1zM42 141h1v1h-1zM47 141h1v1h-1zM27 145h1v1h-1zM36 145h1v1h-1zM65 149h1v1h-1zM46 150h1v1h-1zM65 150h1v1h-1zM16 152h1v1h-1zM21 152h1v1h-1zM29 155h1v1h-1zM22 156h1v1h-1zM38 157h1v1h-1zM50 158h1v1h-1zM49 159h1v1h-1zM64 159h1v1h-1zM5 160h1v1h-1zM23 160h1v1h-1z"/>
<path fill="#282d87" d="M31 30h1v1h-1zM39 30h1v1h-1zM34 31h1v1h-1zM40 39h1v1h-1zM50 39h1v1h-1zM40 40h1v1h-1zM42 40h1v1h-1zM39 49h1v1h-1zM35 53h1v1h-1zM37 79h1v1h-1zM26 80h1v1h-1zM36 81h1v1h-1zM48 89h1v1h-1zM60 89h1v1h-1zM42 91h1v1h-1zM39 108h1v1h-1zM66 109h1v1h-1zM38 110h1v1h-1zM24 118h1v1h-1zM51 119h1v1h-1zM7 120h2v1h-2zM38 120h1v1h-1zM41 120h1v1h-1zM57 120h1v1h-1zM28 123h1v1h-1zM8 125h1v1h-1zM19 127h1v1h-1zM45 127h1v1h-1zM29 128h1v1h-1zM60 129h1v1h-1zM22 130h1v1h-1zM24 130h1v1h-1zM38 130h1v1h-1zM51 130h1v1h-1zM14 133h1v1h-1zM37 133h1v1h-1zM38 134h1v1h-1zM42 135h1v1h-1zM40 138h1v1h-1zM48 139h1v1h-1zM25 140h1v1h-1zM39 141h1v1h-1zM43 146h1v1h-1zM29 148h2v1h-2zM20 149h1v1h-1zM43 150h1v1h-1zM47 150h1v1h-1zM66 150h1v1h-1zM52 151h1v1h-1zM21 153h1v1h-1zM27 157h1v1h-1zM52 158h1v1h-1zM66 159h1v1h-1z"/>
<path fill="#282b7e" d="M32 31h1v1h-1zM36 38h1v1h-1zM31 41h1v1h-1zM31 51h1v1h-1zM35 51h1v1h-1zM6 69h1v1h-1zM27 69h1v1h-1zM36 70h1v1h-1zM16 79h1v1h-1zM29 91h1v1h-1zM36 99h1v1h-1zM42 101h1v1h-1zM38 109h1v1h-1zM62 109h1v1h-1zM42 111h1v1h-1zM27 112h1v1h-1zM42 116h2v1h-2zM40 118h1v1h-1zM52 118h1v1h-1zM47 119h1v1h-1zM60 119h1v1h-1zM16 120h1v1h-1zM37 120h1v1h-1zM43 120h1v1h-1zM66 120h1v1h-1zM30 121h1v1h-1zM21 123h1v1h-1zM41 129h1v1h-1zM66 129h1v1h-1zM50 130h1v1h-1zM28 133h1v1h-1zM24 138h1v1h-1zM25 139h1v1h-1zM45 140h1v1h-1zM14 149h1v1h-1zM23 149h1v1h-1zM66 149h1v1h-1zM22 150h1v1h-1zM37 150h1v1h-1zM29 152h1v1h-1zM43 157h1v1h-1zM27 158h1v1h-1zM39 158h1v1h-1zM41 160h1v1h-1zM43 160h1v1h-1z"/>
<path fill="#a51e22" d="M33 63h1v1h-1zM33 159h1v1h-1z"/>
<path fill="#b61f23" d="M33 142h1v1h-1z"/>
</g></g>
<rect x="130.1" y="34.3" width="876.7" height="784.2" fill="none" stroke="#262626" stroke-width="1.7"/>
<text transform="translate(117.1 46.8) scale(.96 1)" text-anchor="end">0</text>
<text transform="translate(117.1 177.5) scale(.96 1)" text-anchor="end">100</text>
<text transform="translate(117.1 308.2) scale(.96 1)" text-anchor="end">200</text>
<text transform="translate(117.1 438.9) scale(.96 1)" text-anchor="end">300</text>
<text transform="translate(117.1 569.6) scale(.96 1)" text-anchor="end">400</text>
<text transform="translate(117.1 700.3) scale(.96 1)" text-anchor="end">500</text>
<text transform="translate(117.1 831.0) scale(.96 1)" text-anchor="end">600</text>
<text transform="translate(130.1 862.4) scale(.96 1)" text-anchor="middle">-10</text>
<text transform="translate(349.3 862.4) scale(.96 1)" text-anchor="middle">-5</text>
<text transform="translate(568.5 862.4) scale(.96 1)" text-anchor="middle">0</text>
<text transform="translate(787.6 862.4) scale(.96 1)" text-anchor="middle">5</text>
<text transform="translate(1006.8 862.4) scale(.96 1)" text-anchor="middle">10</text>
<path d="M130.1 165.0h9M1006.8000000000001 165.0h-9M130.1 295.7h9M1006.8000000000001 295.7h-9M130.1 426.4h9M1006.8000000000001 426.4h-9M130.1 557.1h9M1006.8000000000001 557.1h-9M130.1 687.8h9M1006.8000000000001 687.8h-9M349.3 34.3v9M349.3 818.5v-9M568.5 34.3v9M568.5 818.5v-9M787.6 34.3v9M787.6 818.5v-9" stroke="#262626" stroke-width="1.7" fill="none"/>
<text transform="translate(568.9 906) scale(.96 1)" text-anchor="middle" style="font-size:34.8px;letter-spacing:0.23px">Doppler Velocity(m/s)</text>
<text transform="translate(50.5 426) rotate(-90) scale(.96 1)" text-anchor="middle" style="font-size:34.8px;letter-spacing:0.23px">Range(m)</text>
<rect x="1048.8" y="34.3" width="49.2" height="784.2" fill="url(#jet)" stroke="#262626" stroke-width="1.7"/>
<text transform="translate(1109.4 45.7) scale(.96 1)" style="font-size:29.5px">-10</text>
<text transform="translate(1109.4 157.7) scale(.96 1)" style="font-size:29.5px">-20</text>
<text transform="translate(1109.4 269.8) scale(.96 1)" style="font-size:29.5px">-30</text>
<text transform="translate(1109.4 381.8) scale(.96 1)" style="font-size:29.5px">-40</text>
<text transform="translate(1109.4 493.8) scale(.96 1)" style="font-size:29.5px">-50</text>
<text transform="translate(1109.4 605.8) scale(.96 1)" style="font-size:29.5px">-60</text>
<text transform="translate(1109.4 717.9) scale(.96 1)" style="font-size:29.5px">-70</text>
<text transform="translate(1109.4 829.9) scale(.96 1)" style="font-size:29.5px">-80</text>
<path d="M1098.0 146.3h-6M1098.0 258.4h-6M1098.0 370.4h-6M1098.0 482.4h-6M1098.0 594.4h-6M1098.0 706.5h-6" stroke="#262626" stroke-width="1.7" fill="none"/>
<rect x="1328.1999999999998" y="34.3" width="876.7" height="784.2" fill="none" stroke="#262626" stroke-width="1.7"/>
<text transform="translate(1315.2 46.8) scale(.96 1)" text-anchor="end">0</text>
<text transform="translate(1315.2 177.5) scale(.96 1)" text-anchor="end">100</text>
<text transform="translate(1315.2 308.2) scale(.96 1)" text-anchor="end">200</text>
<text transform="translate(1315.2 438.9) scale(.96 1)" text-anchor="end">300</text>
<text transform="translate(1315.2 569.6) scale(.96 1)" text-anchor="end">400</text>
<text transform="translate(1315.2 700.3) scale(.96 1)" text-anchor="end">500</text>
<text transform="translate(1315.2 831.0) scale(.96 1)" text-anchor="end">600</text>
<text transform="translate(1328.2 862.4) scale(.96 1)" text-anchor="middle">-10</text>
<text transform="translate(1547.4 862.4) scale(.96 1)" text-anchor="middle">-5</text>
<text transform="translate(1766.5 862.4) scale(.96 1)" text-anchor="middle">0</text>
<text transform="translate(1985.7 862.4) scale(.96 1)" text-anchor="middle">5</text>
<text transform="translate(2204.9 862.4) scale(.96 1)" text-anchor="middle">10</text>
<path d="M1328.1999999999998 165.0h9M2204.8999999999996 165.0h-9M1328.1999999999998 295.7h9M2204.8999999999996 295.7h-9M1328.1999999999998 426.4h9M2204.8999999999996 426.4h-9M1328.1999999999998 557.1h9M2204.8999999999996 557.1h-9M1328.1999999999998 687.8h9M2204.8999999999996 687.8h-9M1547.4 34.3v9M1547.4 818.5v-9M1766.5 34.3v9M1766.5 818.5v-9M1985.7 34.3v9M1985.7 818.5v-9" stroke="#262626" stroke-width="1.7" fill="none"/>
<text transform="translate(1766.9 906) scale(.96 1)" text-anchor="middle" style="font-size:34.8px;letter-spacing:0.23px">Doppler Velocity(m/s)</text>
<text transform="translate(1248.6 426) rotate(-90) scale(.96 1)" text-anchor="middle" style="font-size:34.8px;letter-spacing:0.23px">Range(m)</text>
<rect x="2246.8999999999996" y="34.3" width="49.2" height="784.2" fill="url(#jet)" stroke="#262626" stroke-width="1.7"/>
<text transform="translate(2307.5 45.7) scale(.96 1)" style="font-size:29.5px">-10</text>
<text transform="translate(2307.5 157.7) scale(.96 1)" style="font-size:29.5px">-20</text>
<text transform="translate(2307.5 269.8) scale(.96 1)" style="font-size:29.5px">-30</text>
<text transform="translate(2307.5 381.8) scale(.96 1)" style="font-size:29.5px">-40</text>
<text transform="translate(2307.5 493.8) scale(.96 1)" style="font-size:29.5px">-50</text>
<text transform="translate(2307.5 605.8) scale(.96 1)" style="font-size:29.5px">-60</text>
<text transform="translate(2307.5 717.9) scale(.96 1)" style="font-size:29.5px">-70</text>
<text transform="translate(2307.5 829.9) scale(.96 1)" style="font-size:29.5px">-80</text>
<path d="M2296.0999999999995 146.3h-6M2296.0999999999995 258.4h-6M2296.0999999999995 370.4h-6M2296.0999999999995 482.4h-6M2296.0999999999995 594.4h-6M2296.0999999999995 706.5h-6" stroke="#262626" stroke-width="1.7" fill="none"/>
<!-- annotations panel a -->
<rect x="705.2" y="35.4" width="47.2" height="39.5" fill="none" stroke="#ec1f27" stroke-width="4.4"/>
<path d="M845.8 147.7L765 84.8" stroke="#ec1f27" stroke-width="4.5" fill="none"/>
<path d="M752.4 76.1L771.8 78.8L761.7 93.6z" fill="#ec1f27"/>
<text class="ann" x="850.6" y="198.2" style="font-size:53px;letter-spacing:0.5px">target</text>
<!-- annotations panel b -->
<rect x="1846" y="35.1" width="159.4" height="39.75" fill="none" stroke="#ec1f27" stroke-width="4.2"/>
<path d="M2004.8 152.3L1944 90.3" stroke="#ec1f27" stroke-width="4.5" fill="none"/>
<path d="M1933.1 79.1L1952 85.4L1939.3 97.8z" fill="#ec1f27"/>
<text class="ann" x="1948.6" y="216.2" style="font-size:52px;letter-spacing:0.8px">Target is</text>
<text class="ann" x="1947" y="281" style="font-size:52px;letter-spacing:1.6px">Covered!</text>
<!-- captions -->
<text class="cap" x="655.7" y="1021" text-anchor="middle" style="font-size:84px;letter-spacing:-1.2px">(<tspan font-weight="bold">a</tspan>)</text>
<text class="cap" x="1783.5" y="1021" text-anchor="middle" style="font-size:84px;letter-spacing:0.4px">(<tspan font-weight="bold">b</tspan>)</text>
</svg>
</body></html>
